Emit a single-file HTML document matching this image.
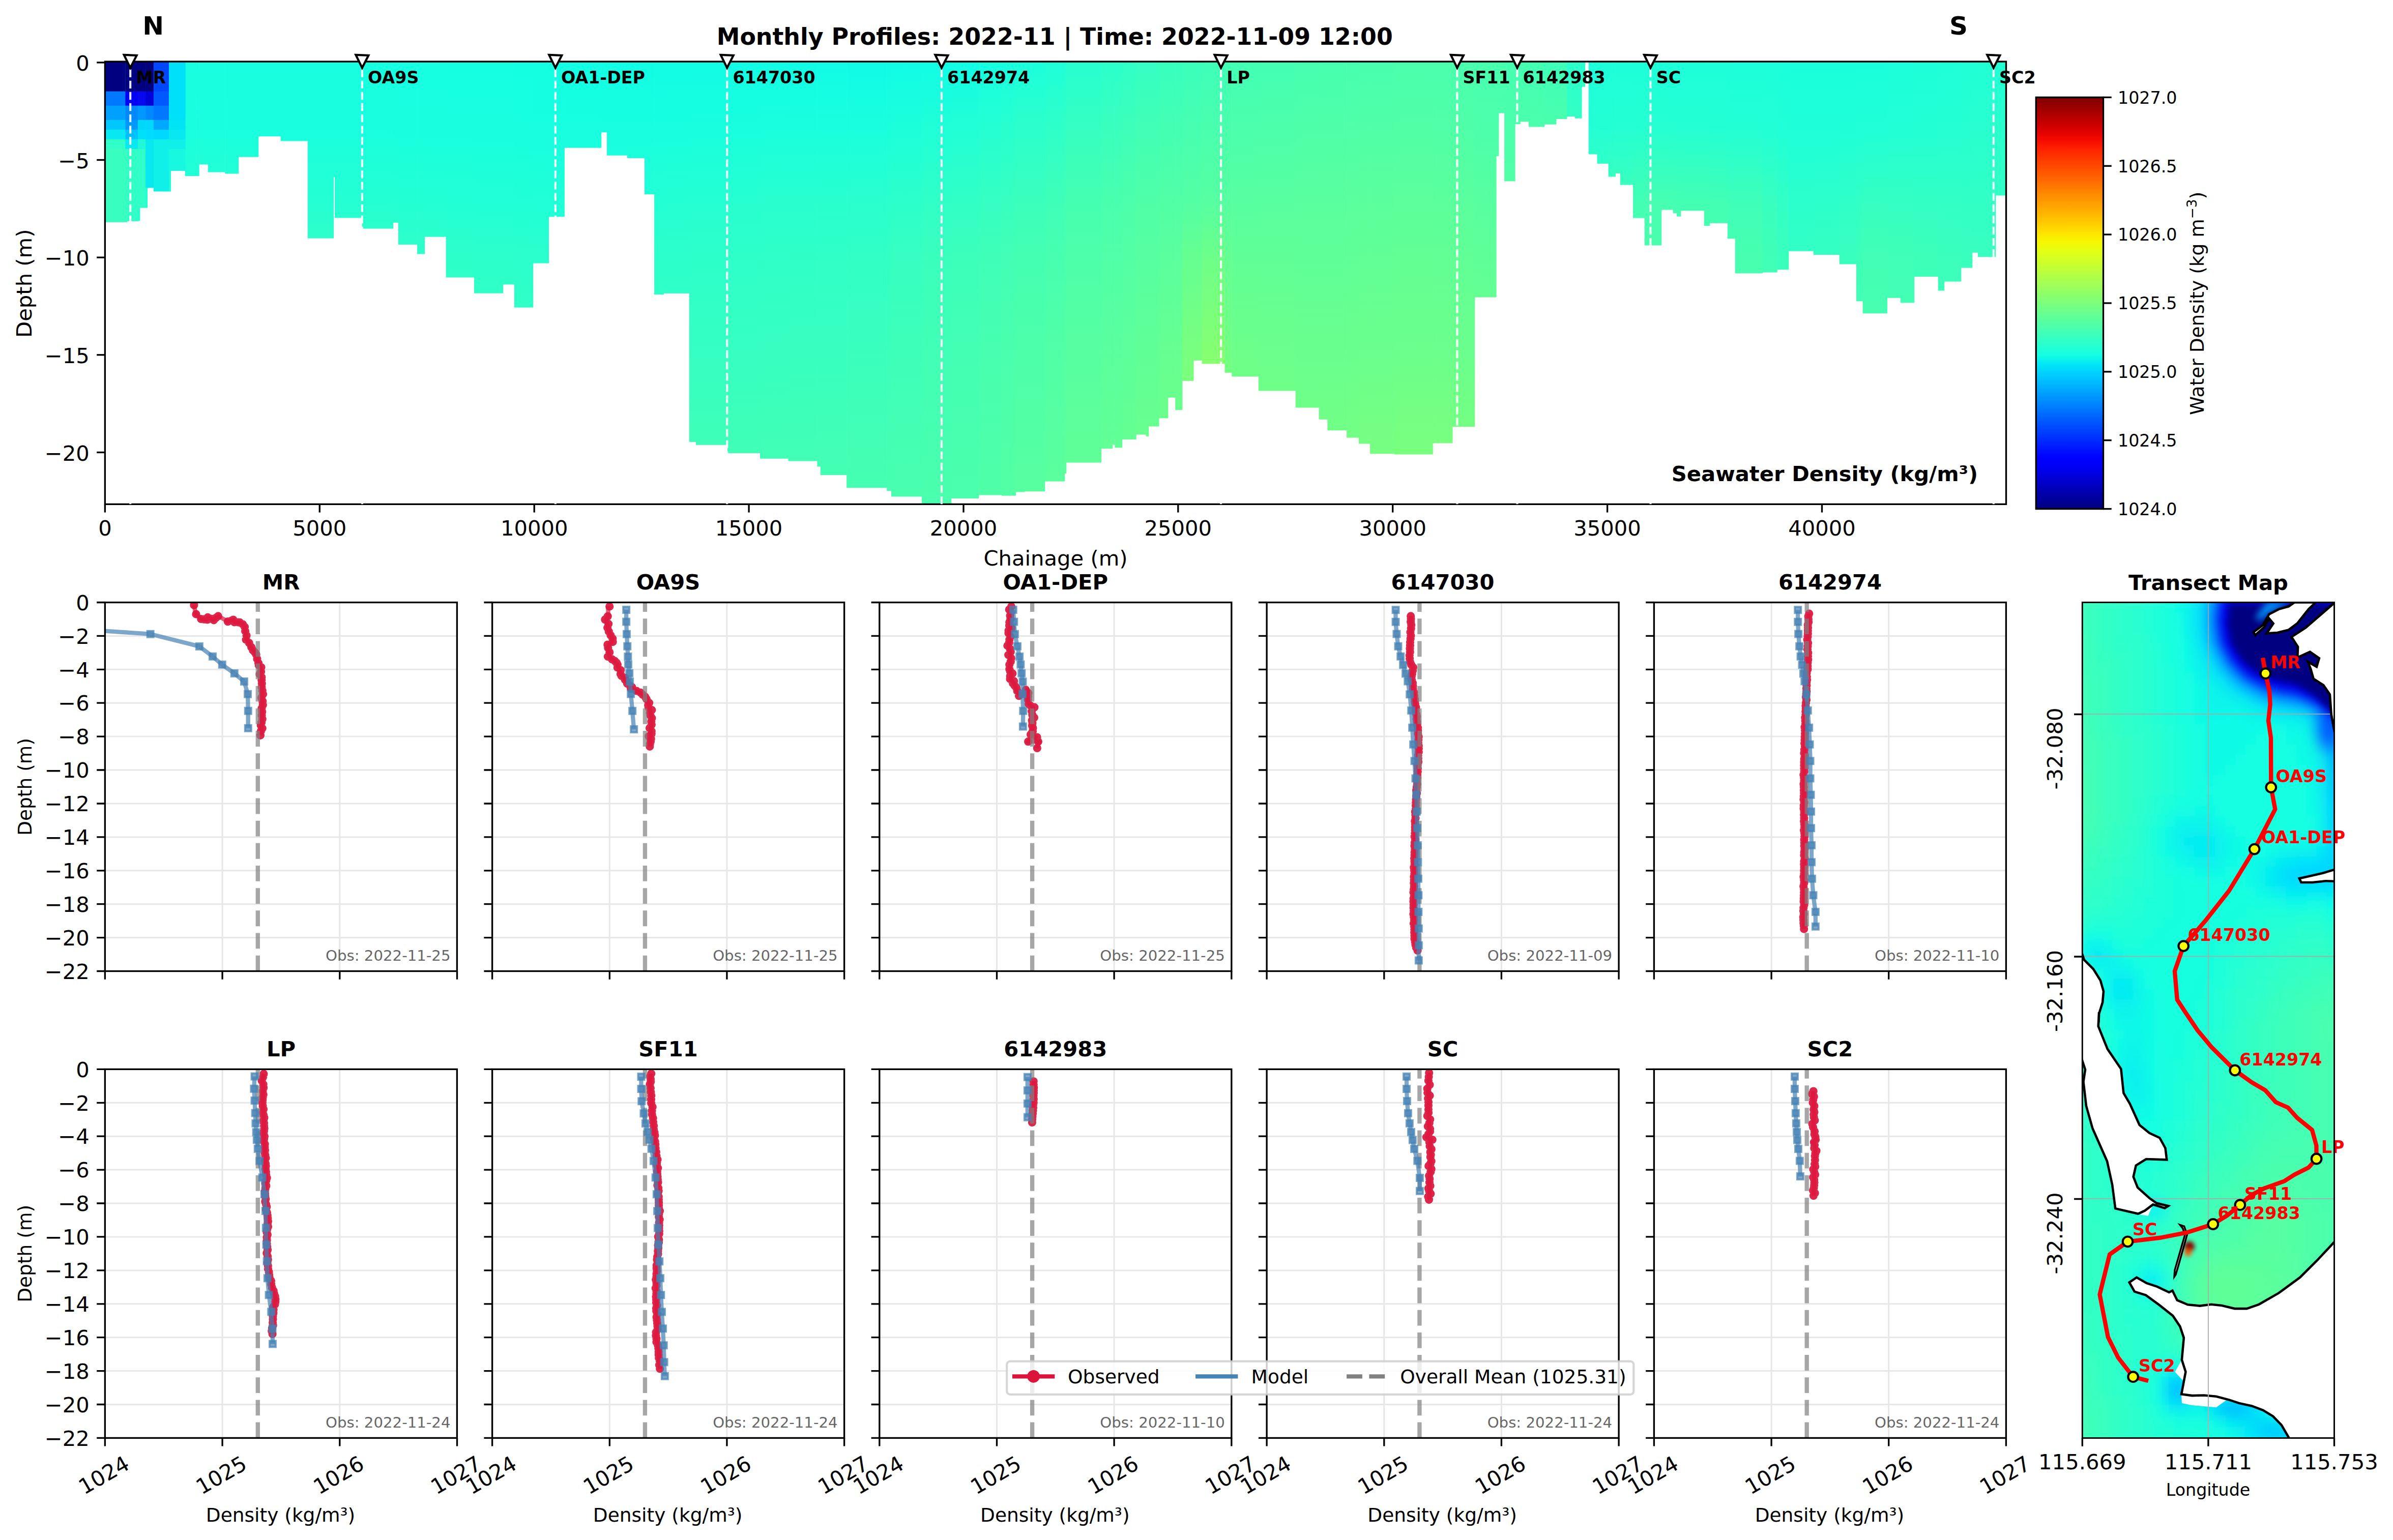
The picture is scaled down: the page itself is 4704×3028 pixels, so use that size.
<!DOCTYPE html>
<html><head><meta charset="utf-8"><title>Monthly Profiles</title>
<style>html,body{margin:0;padding:0;background:#fff}svg{display:block}text{font-family:"DejaVu Sans","Liberation Sans",sans-serif}</style></head>
<body><svg width="4704" height="3028" viewBox="0 0 4704 3028">
<defs><linearGradient id="tg5" gradientUnits="userSpaceOnUse" x1="0" y1="121.1" x2="0" y2="991.4"><stop offset="-0.000" stop-color="#17ffe0"/><stop offset="0.148" stop-color="#19ffde"/><stop offset="0.320" stop-color="#25ffd2"/><stop offset="0.442" stop-color="#31ffc5"/><stop offset="0.665" stop-color="#3affbd"/><stop offset="0.883" stop-color="#42ffb5"/><stop offset="1.000" stop-color="#46ffb1"/></linearGradient>
<linearGradient id="tg6" gradientUnits="userSpaceOnUse" x1="0" y1="121.1" x2="0" y2="991.4"><stop offset="-0.000" stop-color="#17ffe0"/><stop offset="0.148" stop-color="#19ffde"/><stop offset="0.320" stop-color="#25ffd2"/><stop offset="0.442" stop-color="#31ffc5"/><stop offset="0.665" stop-color="#3affbd"/><stop offset="0.883" stop-color="#42ffb5"/><stop offset="1.000" stop-color="#46ffb1"/></linearGradient>
<linearGradient id="tg7" gradientUnits="userSpaceOnUse" x1="0" y1="121.1" x2="0" y2="991.4"><stop offset="-0.000" stop-color="#17ffe0"/><stop offset="0.148" stop-color="#19ffde"/><stop offset="0.320" stop-color="#25ffd2"/><stop offset="0.442" stop-color="#31ffc5"/><stop offset="0.665" stop-color="#3affbd"/><stop offset="0.883" stop-color="#42ffb5"/><stop offset="1.000" stop-color="#46ffb1"/></linearGradient>
<linearGradient id="tg8" gradientUnits="userSpaceOnUse" x1="0" y1="121.1" x2="0" y2="991.4"><stop offset="-0.000" stop-color="#17ffe0"/><stop offset="0.148" stop-color="#19ffde"/><stop offset="0.320" stop-color="#25ffd2"/><stop offset="0.442" stop-color="#31ffc5"/><stop offset="0.665" stop-color="#3affbd"/><stop offset="0.883" stop-color="#42ffb5"/><stop offset="1.000" stop-color="#46ffb1"/></linearGradient>
<linearGradient id="tg9" gradientUnits="userSpaceOnUse" x1="0" y1="121.1" x2="0" y2="991.4"><stop offset="-0.000" stop-color="#17ffe0"/><stop offset="0.148" stop-color="#19ffde"/><stop offset="0.320" stop-color="#25ffd2"/><stop offset="0.442" stop-color="#31ffc5"/><stop offset="0.665" stop-color="#3affbd"/><stop offset="0.883" stop-color="#42ffb5"/><stop offset="1.000" stop-color="#46ffb1"/></linearGradient>
<linearGradient id="tg10" gradientUnits="userSpaceOnUse" x1="0" y1="121.1" x2="0" y2="991.4"><stop offset="-0.000" stop-color="#17ffe0"/><stop offset="0.148" stop-color="#19ffde"/><stop offset="0.320" stop-color="#25ffd2"/><stop offset="0.442" stop-color="#31ffc5"/><stop offset="0.665" stop-color="#3affbd"/><stop offset="0.883" stop-color="#42ffb5"/><stop offset="1.000" stop-color="#46ffb1"/></linearGradient>
<linearGradient id="tg11" gradientUnits="userSpaceOnUse" x1="0" y1="121.1" x2="0" y2="991.4"><stop offset="-0.000" stop-color="#17ffe0"/><stop offset="0.148" stop-color="#19ffde"/><stop offset="0.320" stop-color="#25ffd2"/><stop offset="0.442" stop-color="#31ffc5"/><stop offset="0.665" stop-color="#3affbd"/><stop offset="0.883" stop-color="#42ffb5"/><stop offset="1.000" stop-color="#46ffb1"/></linearGradient>
<linearGradient id="tg12" gradientUnits="userSpaceOnUse" x1="0" y1="121.1" x2="0" y2="991.4"><stop offset="-0.000" stop-color="#17ffe0"/><stop offset="0.148" stop-color="#19ffde"/><stop offset="0.320" stop-color="#25ffd2"/><stop offset="0.442" stop-color="#31ffc5"/><stop offset="0.665" stop-color="#3affbd"/><stop offset="0.883" stop-color="#42ffb5"/><stop offset="1.000" stop-color="#46ffb1"/></linearGradient>
<linearGradient id="tg13" gradientUnits="userSpaceOnUse" x1="0" y1="121.1" x2="0" y2="991.4"><stop offset="-0.000" stop-color="#17ffe0"/><stop offset="0.148" stop-color="#19ffde"/><stop offset="0.320" stop-color="#25ffd2"/><stop offset="0.442" stop-color="#31ffc5"/><stop offset="0.665" stop-color="#3affbd"/><stop offset="0.883" stop-color="#42ffb5"/><stop offset="1.000" stop-color="#46ffb1"/></linearGradient>
<linearGradient id="tg14" gradientUnits="userSpaceOnUse" x1="0" y1="121.1" x2="0" y2="991.4"><stop offset="-0.000" stop-color="#17ffe0"/><stop offset="0.148" stop-color="#19ffde"/><stop offset="0.320" stop-color="#25ffd2"/><stop offset="0.442" stop-color="#31ffc5"/><stop offset="0.665" stop-color="#3affbd"/><stop offset="0.883" stop-color="#42ffb5"/><stop offset="1.000" stop-color="#46ffb1"/></linearGradient>
<linearGradient id="tg15" gradientUnits="userSpaceOnUse" x1="0" y1="121.1" x2="0" y2="991.4"><stop offset="-0.000" stop-color="#17ffe0"/><stop offset="0.148" stop-color="#19ffde"/><stop offset="0.320" stop-color="#25ffd2"/><stop offset="0.442" stop-color="#31ffc5"/><stop offset="0.665" stop-color="#3affbd"/><stop offset="0.883" stop-color="#42ffb5"/><stop offset="1.000" stop-color="#46ffb1"/></linearGradient>
<linearGradient id="tg16" gradientUnits="userSpaceOnUse" x1="0" y1="121.1" x2="0" y2="991.4"><stop offset="-0.000" stop-color="#17ffe0"/><stop offset="0.148" stop-color="#19ffde"/><stop offset="0.320" stop-color="#25ffd2"/><stop offset="0.442" stop-color="#31ffc5"/><stop offset="0.665" stop-color="#3affbd"/><stop offset="0.883" stop-color="#42ffb5"/><stop offset="1.000" stop-color="#46ffb1"/></linearGradient>
<linearGradient id="tg17" gradientUnits="userSpaceOnUse" x1="0" y1="121.1" x2="0" y2="991.4"><stop offset="-0.000" stop-color="#17ffe0"/><stop offset="0.148" stop-color="#19ffde"/><stop offset="0.320" stop-color="#25ffd2"/><stop offset="0.442" stop-color="#31ffc5"/><stop offset="0.665" stop-color="#3affbd"/><stop offset="0.883" stop-color="#42ffb5"/><stop offset="1.000" stop-color="#46ffb1"/></linearGradient>
<linearGradient id="tg18" gradientUnits="userSpaceOnUse" x1="0" y1="121.1" x2="0" y2="991.4"><stop offset="-0.000" stop-color="#17ffe0"/><stop offset="0.148" stop-color="#19ffde"/><stop offset="0.320" stop-color="#24ffd2"/><stop offset="0.442" stop-color="#31ffc6"/><stop offset="0.665" stop-color="#39ffbe"/><stop offset="0.883" stop-color="#41ffb5"/><stop offset="1.000" stop-color="#45ffb1"/></linearGradient>
<linearGradient id="tg19" gradientUnits="userSpaceOnUse" x1="0" y1="121.1" x2="0" y2="991.4"><stop offset="-0.000" stop-color="#16ffe0"/><stop offset="0.148" stop-color="#18ffde"/><stop offset="0.320" stop-color="#24ffd3"/><stop offset="0.442" stop-color="#30ffc7"/><stop offset="0.665" stop-color="#38ffbf"/><stop offset="0.883" stop-color="#41ffb6"/><stop offset="1.000" stop-color="#45ffb2"/></linearGradient>
<linearGradient id="tg20" gradientUnits="userSpaceOnUse" x1="0" y1="121.1" x2="0" y2="991.4"><stop offset="-0.000" stop-color="#16ffe1"/><stop offset="0.148" stop-color="#18ffdf"/><stop offset="0.320" stop-color="#23ffd3"/><stop offset="0.442" stop-color="#2fffc8"/><stop offset="0.665" stop-color="#38ffbf"/><stop offset="0.883" stop-color="#40ffb6"/><stop offset="1.000" stop-color="#44ffb3"/></linearGradient>
<linearGradient id="tg21" gradientUnits="userSpaceOnUse" x1="0" y1="121.1" x2="0" y2="991.4"><stop offset="-0.000" stop-color="#16ffe1"/><stop offset="0.148" stop-color="#18ffdf"/><stop offset="0.320" stop-color="#23ffd4"/><stop offset="0.442" stop-color="#2effc9"/><stop offset="0.665" stop-color="#37ffc0"/><stop offset="0.883" stop-color="#40ffb7"/><stop offset="1.000" stop-color="#44ffb3"/></linearGradient>
<linearGradient id="tg22" gradientUnits="userSpaceOnUse" x1="0" y1="121.1" x2="0" y2="991.4"><stop offset="-0.000" stop-color="#15ffe1"/><stop offset="0.148" stop-color="#18ffdf"/><stop offset="0.320" stop-color="#22ffd5"/><stop offset="0.442" stop-color="#2dffca"/><stop offset="0.665" stop-color="#36ffc0"/><stop offset="0.883" stop-color="#3fffb7"/><stop offset="1.000" stop-color="#43ffb4"/></linearGradient>
<linearGradient id="tg24" gradientUnits="userSpaceOnUse" x1="0" y1="121.1" x2="0" y2="991.4"><stop offset="-0.000" stop-color="#15ffe2"/><stop offset="0.148" stop-color="#18ffdf"/><stop offset="0.320" stop-color="#21ffd6"/><stop offset="0.442" stop-color="#2cffcb"/><stop offset="0.665" stop-color="#35ffc2"/><stop offset="0.883" stop-color="#3effb8"/><stop offset="1.000" stop-color="#42ffb5"/></linearGradient>
<linearGradient id="tg25" gradientUnits="userSpaceOnUse" x1="0" y1="121.1" x2="0" y2="991.4"><stop offset="-0.000" stop-color="#14ffe2"/><stop offset="0.148" stop-color="#17ffdf"/><stop offset="0.320" stop-color="#20ffd6"/><stop offset="0.442" stop-color="#2bffcc"/><stop offset="0.665" stop-color="#34ffc2"/><stop offset="0.883" stop-color="#3effb9"/><stop offset="1.000" stop-color="#41ffb5"/></linearGradient>
<linearGradient id="tg26" gradientUnits="userSpaceOnUse" x1="0" y1="121.1" x2="0" y2="991.4"><stop offset="-0.000" stop-color="#14fee3"/><stop offset="0.148" stop-color="#17ffe0"/><stop offset="0.320" stop-color="#20ffd7"/><stop offset="0.442" stop-color="#2affcd"/><stop offset="0.665" stop-color="#34ffc3"/><stop offset="0.883" stop-color="#3dffb9"/><stop offset="1.000" stop-color="#41ffb6"/></linearGradient>
<linearGradient id="tg27" gradientUnits="userSpaceOnUse" x1="0" y1="121.1" x2="0" y2="991.4"><stop offset="-0.000" stop-color="#14fee3"/><stop offset="0.148" stop-color="#17ffe0"/><stop offset="0.320" stop-color="#1fffd8"/><stop offset="0.442" stop-color="#29ffce"/><stop offset="0.665" stop-color="#33ffc4"/><stop offset="0.883" stop-color="#3dffba"/><stop offset="1.000" stop-color="#40ffb7"/></linearGradient>
<linearGradient id="tg28" gradientUnits="userSpaceOnUse" x1="0" y1="121.1" x2="0" y2="991.4"><stop offset="-0.000" stop-color="#13fee3"/><stop offset="0.148" stop-color="#17ffe0"/><stop offset="0.320" stop-color="#20ffd7"/><stop offset="0.442" stop-color="#2affcd"/><stop offset="0.665" stop-color="#33ffc3"/><stop offset="0.883" stop-color="#3dffba"/><stop offset="1.000" stop-color="#40ffb6"/></linearGradient>
<linearGradient id="tg29" gradientUnits="userSpaceOnUse" x1="0" y1="121.1" x2="0" y2="991.4"><stop offset="-0.000" stop-color="#13fde4"/><stop offset="0.148" stop-color="#17ffe0"/><stop offset="0.320" stop-color="#21ffd6"/><stop offset="0.442" stop-color="#2affcd"/><stop offset="0.665" stop-color="#34ffc3"/><stop offset="0.883" stop-color="#3effb9"/><stop offset="1.000" stop-color="#41ffb6"/></linearGradient>
<linearGradient id="tg30" gradientUnits="userSpaceOnUse" x1="0" y1="121.1" x2="0" y2="991.4"><stop offset="-0.000" stop-color="#13fde4"/><stop offset="0.148" stop-color="#17ffe0"/><stop offset="0.320" stop-color="#21ffd6"/><stop offset="0.442" stop-color="#2bffcc"/><stop offset="0.665" stop-color="#34ffc3"/><stop offset="0.883" stop-color="#3effb9"/><stop offset="1.000" stop-color="#41ffb6"/></linearGradient>
<linearGradient id="tg31" gradientUnits="userSpaceOnUse" x1="0" y1="121.1" x2="0" y2="991.4"><stop offset="-0.000" stop-color="#12fce4"/><stop offset="0.148" stop-color="#17ffe0"/><stop offset="0.320" stop-color="#22ffd5"/><stop offset="0.442" stop-color="#2bffcc"/><stop offset="0.665" stop-color="#34ffc2"/><stop offset="0.883" stop-color="#3effb9"/><stop offset="1.000" stop-color="#41ffb5"/></linearGradient>
<linearGradient id="tg32" gradientUnits="userSpaceOnUse" x1="0" y1="121.1" x2="0" y2="991.4"><stop offset="-0.000" stop-color="#12fce5"/><stop offset="0.148" stop-color="#17ffe0"/><stop offset="0.320" stop-color="#23ffd4"/><stop offset="0.442" stop-color="#2cffcb"/><stop offset="0.665" stop-color="#35ffc2"/><stop offset="0.883" stop-color="#3fffb8"/><stop offset="1.000" stop-color="#42ffb5"/></linearGradient>
<linearGradient id="tg33" gradientUnits="userSpaceOnUse" x1="0" y1="121.1" x2="0" y2="991.4"><stop offset="-0.000" stop-color="#12fce5"/><stop offset="0.148" stop-color="#17ffdf"/><stop offset="0.320" stop-color="#24ffd3"/><stop offset="0.442" stop-color="#2cffcb"/><stop offset="0.665" stop-color="#35ffc2"/><stop offset="0.883" stop-color="#3fffb8"/><stop offset="1.000" stop-color="#42ffb5"/></linearGradient>
<linearGradient id="tg34" gradientUnits="userSpaceOnUse" x1="0" y1="121.1" x2="0" y2="991.4"><stop offset="-0.000" stop-color="#12fce5"/><stop offset="0.148" stop-color="#18ffdf"/><stop offset="0.320" stop-color="#25ffd2"/><stop offset="0.442" stop-color="#2dffca"/><stop offset="0.665" stop-color="#35ffc1"/><stop offset="0.883" stop-color="#3fffb8"/><stop offset="1.000" stop-color="#42ffb4"/></linearGradient>
<linearGradient id="tg36" gradientUnits="userSpaceOnUse" x1="0" y1="121.1" x2="0" y2="991.4"><stop offset="-0.000" stop-color="#12fce5"/><stop offset="0.148" stop-color="#18ffde"/><stop offset="0.320" stop-color="#26ffd0"/><stop offset="0.442" stop-color="#2effc9"/><stop offset="0.665" stop-color="#36ffc1"/><stop offset="0.883" stop-color="#40ffb7"/><stop offset="1.000" stop-color="#43ffb4"/></linearGradient>
<linearGradient id="tg38" gradientUnits="userSpaceOnUse" x1="0" y1="121.1" x2="0" y2="991.4"><stop offset="-0.000" stop-color="#12fce5"/><stop offset="0.148" stop-color="#19ffde"/><stop offset="0.320" stop-color="#28ffcf"/><stop offset="0.442" stop-color="#2fffc8"/><stop offset="0.665" stop-color="#37ffc0"/><stop offset="0.883" stop-color="#41ffb6"/><stop offset="1.000" stop-color="#44ffb3"/></linearGradient>
<linearGradient id="tg39" gradientUnits="userSpaceOnUse" x1="0" y1="121.1" x2="0" y2="991.4"><stop offset="-0.000" stop-color="#11fbe5"/><stop offset="0.148" stop-color="#19ffde"/><stop offset="0.320" stop-color="#28ffcf"/><stop offset="0.442" stop-color="#2fffc7"/><stop offset="0.665" stop-color="#38ffbf"/><stop offset="0.883" stop-color="#41ffb6"/><stop offset="1.000" stop-color="#44ffb2"/></linearGradient>
<linearGradient id="tg40" gradientUnits="userSpaceOnUse" x1="0" y1="121.1" x2="0" y2="991.4"><stop offset="-0.000" stop-color="#11fbe6"/><stop offset="0.148" stop-color="#19ffde"/><stop offset="0.320" stop-color="#28ffce"/><stop offset="0.442" stop-color="#30ffc7"/><stop offset="0.665" stop-color="#38ffbf"/><stop offset="0.883" stop-color="#42ffb5"/><stop offset="1.000" stop-color="#45ffb2"/></linearGradient>
<linearGradient id="tg42" gradientUnits="userSpaceOnUse" x1="0" y1="121.1" x2="0" y2="991.4"><stop offset="-0.000" stop-color="#10fae6"/><stop offset="0.148" stop-color="#19ffde"/><stop offset="0.320" stop-color="#29ffce"/><stop offset="0.442" stop-color="#31ffc5"/><stop offset="0.665" stop-color="#3affbd"/><stop offset="0.883" stop-color="#43ffb4"/><stop offset="1.000" stop-color="#46ffb1"/></linearGradient>
<linearGradient id="tg43" gradientUnits="userSpaceOnUse" x1="0" y1="121.1" x2="0" y2="991.4"><stop offset="-0.000" stop-color="#11fae6"/><stop offset="0.148" stop-color="#1affdc"/><stop offset="0.320" stop-color="#2bffcc"/><stop offset="0.442" stop-color="#33ffc3"/><stop offset="0.665" stop-color="#3cffbb"/><stop offset="0.883" stop-color="#44ffb3"/><stop offset="1.000" stop-color="#47ffb0"/></linearGradient>
<linearGradient id="tg44" gradientUnits="userSpaceOnUse" x1="0" y1="121.1" x2="0" y2="991.4"><stop offset="-0.000" stop-color="#11fbe6"/><stop offset="0.148" stop-color="#1cffdb"/><stop offset="0.320" stop-color="#2cffca"/><stop offset="0.442" stop-color="#36ffc1"/><stop offset="0.665" stop-color="#3effb9"/><stop offset="0.883" stop-color="#45ffb2"/><stop offset="1.000" stop-color="#48ffaf"/></linearGradient>
<linearGradient id="tg46" gradientUnits="userSpaceOnUse" x1="0" y1="121.1" x2="0" y2="991.4"><stop offset="-0.000" stop-color="#12fce5"/><stop offset="0.148" stop-color="#1fffd8"/><stop offset="0.320" stop-color="#30ffc7"/><stop offset="0.442" stop-color="#3affbd"/><stop offset="0.665" stop-color="#41ffb5"/><stop offset="0.883" stop-color="#47ffb0"/><stop offset="1.000" stop-color="#4affad"/></linearGradient>
<linearGradient id="tg47" gradientUnits="userSpaceOnUse" x1="0" y1="121.1" x2="0" y2="991.4"><stop offset="-0.000" stop-color="#12fce5"/><stop offset="0.148" stop-color="#21ffd6"/><stop offset="0.320" stop-color="#31ffc5"/><stop offset="0.442" stop-color="#3cffbb"/><stop offset="0.665" stop-color="#43ffb3"/><stop offset="0.883" stop-color="#48ffae"/><stop offset="1.000" stop-color="#4bffac"/></linearGradient>
<linearGradient id="tg48" gradientUnits="userSpaceOnUse" x1="0" y1="121.1" x2="0" y2="991.4"><stop offset="-0.000" stop-color="#15ffe2"/><stop offset="0.148" stop-color="#24ffd3"/><stop offset="0.320" stop-color="#35ffc2"/><stop offset="0.442" stop-color="#3fffb8"/><stop offset="0.665" stop-color="#47ffb0"/><stop offset="0.883" stop-color="#4cffaa"/><stop offset="1.000" stop-color="#4fffa7"/></linearGradient>
<linearGradient id="tg49" gradientUnits="userSpaceOnUse" x1="0" y1="121.1" x2="0" y2="991.4"><stop offset="-0.000" stop-color="#18ffdf"/><stop offset="0.148" stop-color="#27ffcf"/><stop offset="0.320" stop-color="#38ffbf"/><stop offset="0.442" stop-color="#42ffb5"/><stop offset="0.665" stop-color="#4affad"/><stop offset="0.883" stop-color="#50ffa6"/><stop offset="1.000" stop-color="#54ffa3"/></linearGradient>
<linearGradient id="tg50" gradientUnits="userSpaceOnUse" x1="0" y1="121.1" x2="0" y2="991.4"><stop offset="-0.000" stop-color="#1bffdc"/><stop offset="0.148" stop-color="#2bffcc"/><stop offset="0.320" stop-color="#3bffbc"/><stop offset="0.442" stop-color="#44ffb2"/><stop offset="0.665" stop-color="#4dffa9"/><stop offset="0.883" stop-color="#54ffa3"/><stop offset="1.000" stop-color="#58ff9f"/></linearGradient>
<linearGradient id="tg51" gradientUnits="userSpaceOnUse" x1="0" y1="121.1" x2="0" y2="991.4"><stop offset="-0.000" stop-color="#1effd9"/><stop offset="0.148" stop-color="#2effc9"/><stop offset="0.320" stop-color="#3fffb8"/><stop offset="0.442" stop-color="#47ffb0"/><stop offset="0.665" stop-color="#51ffa6"/><stop offset="0.883" stop-color="#58ff9f"/><stop offset="1.000" stop-color="#5dff9a"/></linearGradient>
<linearGradient id="tg52" gradientUnits="userSpaceOnUse" x1="0" y1="121.1" x2="0" y2="991.4"><stop offset="-0.000" stop-color="#21ffd6"/><stop offset="0.148" stop-color="#31ffc5"/><stop offset="0.320" stop-color="#42ffb5"/><stop offset="0.442" stop-color="#4affad"/><stop offset="0.665" stop-color="#54ffa3"/><stop offset="0.883" stop-color="#5cff9b"/><stop offset="1.000" stop-color="#61ff96"/></linearGradient>
<linearGradient id="tg53" gradientUnits="userSpaceOnUse" x1="0" y1="121.1" x2="0" y2="991.4"><stop offset="-0.000" stop-color="#26ffd1"/><stop offset="0.148" stop-color="#35ffc1"/><stop offset="0.320" stop-color="#45ffb1"/><stop offset="0.442" stop-color="#4dffaa"/><stop offset="0.665" stop-color="#57ffa0"/><stop offset="0.883" stop-color="#5fff98"/><stop offset="1.000" stop-color="#64ff93"/></linearGradient>
<linearGradient id="tg54" gradientUnits="userSpaceOnUse" x1="0" y1="121.1" x2="0" y2="991.4"><stop offset="-0.000" stop-color="#2bffcc"/><stop offset="0.148" stop-color="#39ffbe"/><stop offset="0.320" stop-color="#49ffae"/><stop offset="0.442" stop-color="#50ffa7"/><stop offset="0.665" stop-color="#5aff9d"/><stop offset="0.883" stop-color="#62ff95"/><stop offset="1.000" stop-color="#66ff90"/></linearGradient>
<linearGradient id="tg55" gradientUnits="userSpaceOnUse" x1="0" y1="121.1" x2="0" y2="991.4"><stop offset="-0.000" stop-color="#2fffc7"/><stop offset="0.148" stop-color="#3dffba"/><stop offset="0.320" stop-color="#4cffaa"/><stop offset="0.442" stop-color="#53ffa4"/><stop offset="0.665" stop-color="#5dff9a"/><stop offset="0.883" stop-color="#65ff91"/><stop offset="1.000" stop-color="#69ff8e"/></linearGradient>
<linearGradient id="tg56" gradientUnits="userSpaceOnUse" x1="0" y1="121.1" x2="0" y2="991.4"><stop offset="-0.000" stop-color="#34ffc3"/><stop offset="0.148" stop-color="#41ffb6"/><stop offset="0.320" stop-color="#4fffa7"/><stop offset="0.442" stop-color="#56ffa1"/><stop offset="0.665" stop-color="#60ff96"/><stop offset="0.883" stop-color="#69ff8e"/><stop offset="1.000" stop-color="#6cff8b"/></linearGradient>
<linearGradient id="tg57" gradientUnits="userSpaceOnUse" x1="0" y1="121.1" x2="0" y2="991.4"><stop offset="-0.000" stop-color="#37ffbf"/><stop offset="0.148" stop-color="#43ffb3"/><stop offset="0.320" stop-color="#51ffa5"/><stop offset="0.442" stop-color="#5aff9d"/><stop offset="0.665" stop-color="#66ff91"/><stop offset="0.883" stop-color="#6dff89"/><stop offset="1.000" stop-color="#70ff86"/></linearGradient>
<linearGradient id="tg58" gradientUnits="userSpaceOnUse" x1="0" y1="121.1" x2="0" y2="991.4"><stop offset="-0.000" stop-color="#3bffbc"/><stop offset="0.148" stop-color="#46ffb1"/><stop offset="0.320" stop-color="#54ffa3"/><stop offset="0.442" stop-color="#65ff91"/><stop offset="0.665" stop-color="#79ff7e"/><stop offset="0.883" stop-color="#80ff77"/><stop offset="1.000" stop-color="#83ff74"/></linearGradient>
<linearGradient id="tg59" gradientUnits="userSpaceOnUse" x1="0" y1="121.1" x2="0" y2="991.4"><stop offset="-0.000" stop-color="#3effb8"/><stop offset="0.148" stop-color="#49ffae"/><stop offset="0.320" stop-color="#56ffa1"/><stop offset="0.442" stop-color="#6dff89"/><stop offset="0.665" stop-color="#86ff71"/><stop offset="0.883" stop-color="#8cff6b"/><stop offset="1.000" stop-color="#8eff68"/></linearGradient>
<linearGradient id="tg60" gradientUnits="userSpaceOnUse" x1="0" y1="121.1" x2="0" y2="991.4"><stop offset="-0.000" stop-color="#41ffb6"/><stop offset="0.148" stop-color="#4affac"/><stop offset="0.320" stop-color="#57ffa0"/><stop offset="0.442" stop-color="#64ff93"/><stop offset="0.665" stop-color="#73ff83"/><stop offset="0.883" stop-color="#79ff7d"/><stop offset="1.000" stop-color="#7cff7b"/></linearGradient>
<linearGradient id="tg61" gradientUnits="userSpaceOnUse" x1="0" y1="121.1" x2="0" y2="991.4"><stop offset="-0.000" stop-color="#42ffb5"/><stop offset="0.148" stop-color="#4bffac"/><stop offset="0.320" stop-color="#57ffa0"/><stop offset="0.442" stop-color="#60ff96"/><stop offset="0.665" stop-color="#6dff89"/><stop offset="0.883" stop-color="#74ff83"/><stop offset="1.000" stop-color="#76ff81"/></linearGradient>
<linearGradient id="tg62" gradientUnits="userSpaceOnUse" x1="0" y1="121.1" x2="0" y2="991.4"><stop offset="-0.000" stop-color="#43ffb4"/><stop offset="0.148" stop-color="#4cffab"/><stop offset="0.320" stop-color="#58ff9f"/><stop offset="0.442" stop-color="#60ff97"/><stop offset="0.665" stop-color="#6cff8b"/><stop offset="0.883" stop-color="#73ff84"/><stop offset="1.000" stop-color="#75ff82"/></linearGradient>
<linearGradient id="tg64" gradientUnits="userSpaceOnUse" x1="0" y1="121.1" x2="0" y2="991.4"><stop offset="-0.000" stop-color="#45ffb1"/><stop offset="0.148" stop-color="#4effa9"/><stop offset="0.320" stop-color="#59ff9e"/><stop offset="0.442" stop-color="#5fff98"/><stop offset="0.665" stop-color="#6aff8d"/><stop offset="0.883" stop-color="#72ff85"/><stop offset="1.000" stop-color="#74ff83"/></linearGradient>
<linearGradient id="tg65" gradientUnits="userSpaceOnUse" x1="0" y1="121.1" x2="0" y2="991.4"><stop offset="-0.000" stop-color="#46ffb0"/><stop offset="0.148" stop-color="#4effa8"/><stop offset="0.320" stop-color="#59ff9e"/><stop offset="0.442" stop-color="#5fff98"/><stop offset="0.665" stop-color="#6aff8d"/><stop offset="0.883" stop-color="#72ff84"/><stop offset="1.000" stop-color="#74ff83"/></linearGradient>
<linearGradient id="tg66" gradientUnits="userSpaceOnUse" x1="0" y1="121.1" x2="0" y2="991.4"><stop offset="-0.000" stop-color="#47ffb0"/><stop offset="0.148" stop-color="#4fffa8"/><stop offset="0.320" stop-color="#5aff9d"/><stop offset="0.442" stop-color="#60ff97"/><stop offset="0.665" stop-color="#6aff8c"/><stop offset="0.883" stop-color="#74ff83"/><stop offset="1.000" stop-color="#76ff81"/></linearGradient>
<linearGradient id="tg67" gradientUnits="userSpaceOnUse" x1="0" y1="121.1" x2="0" y2="991.4"><stop offset="-0.000" stop-color="#48ffaf"/><stop offset="0.148" stop-color="#4fffa7"/><stop offset="0.320" stop-color="#5aff9c"/><stop offset="0.442" stop-color="#61ff96"/><stop offset="0.665" stop-color="#6bff8c"/><stop offset="0.883" stop-color="#76ff81"/><stop offset="1.000" stop-color="#77ff80"/></linearGradient>
<linearGradient id="tg69" gradientUnits="userSpaceOnUse" x1="0" y1="121.1" x2="0" y2="991.4"><stop offset="-0.000" stop-color="#4affad"/><stop offset="0.148" stop-color="#50ffa6"/><stop offset="0.320" stop-color="#5cff9b"/><stop offset="0.442" stop-color="#62ff94"/><stop offset="0.665" stop-color="#6cff8b"/><stop offset="0.883" stop-color="#79ff7e"/><stop offset="1.000" stop-color="#7bff7c"/></linearGradient>
<linearGradient id="tg70" gradientUnits="userSpaceOnUse" x1="0" y1="121.1" x2="0" y2="991.4"><stop offset="-0.000" stop-color="#4affad"/><stop offset="0.148" stop-color="#50ffa7"/><stop offset="0.320" stop-color="#5bff9b"/><stop offset="0.442" stop-color="#62ff95"/><stop offset="0.665" stop-color="#6cff8b"/><stop offset="0.883" stop-color="#79ff7e"/><stop offset="1.000" stop-color="#7aff7c"/></linearGradient>
<linearGradient id="tg71" gradientUnits="userSpaceOnUse" x1="0" y1="121.1" x2="0" y2="991.4"><stop offset="-0.000" stop-color="#49ffad"/><stop offset="0.148" stop-color="#4fffa8"/><stop offset="0.320" stop-color="#5aff9d"/><stop offset="0.442" stop-color="#61ff96"/><stop offset="0.665" stop-color="#6bff8c"/><stop offset="0.883" stop-color="#76ff80"/><stop offset="1.000" stop-color="#78ff7f"/></linearGradient>
<linearGradient id="tg73" gradientUnits="userSpaceOnUse" x1="0" y1="121.1" x2="0" y2="991.4"><stop offset="-0.000" stop-color="#48ffae"/><stop offset="0.148" stop-color="#4cffab"/><stop offset="0.320" stop-color="#57ffa0"/><stop offset="0.442" stop-color="#5fff98"/><stop offset="0.665" stop-color="#6aff8d"/><stop offset="0.883" stop-color="#72ff85"/><stop offset="1.000" stop-color="#74ff83"/></linearGradient>
<linearGradient id="tg74" gradientUnits="userSpaceOnUse" x1="0" y1="121.1" x2="0" y2="991.4"><stop offset="-0.000" stop-color="#45ffb1"/><stop offset="0.148" stop-color="#4bffac"/><stop offset="0.320" stop-color="#54ffa3"/><stop offset="0.442" stop-color="#5bff9c"/><stop offset="0.665" stop-color="#64ff93"/><stop offset="0.883" stop-color="#6bff8c"/><stop offset="1.000" stop-color="#6cff8a"/></linearGradient>
<linearGradient id="tg75" gradientUnits="userSpaceOnUse" x1="0" y1="121.1" x2="0" y2="991.4"><stop offset="-0.000" stop-color="#42ffb5"/><stop offset="0.148" stop-color="#4bffac"/><stop offset="0.320" stop-color="#51ffa6"/><stop offset="0.442" stop-color="#57ffa0"/><stop offset="0.665" stop-color="#5dff9a"/><stop offset="0.883" stop-color="#63ff94"/><stop offset="1.000" stop-color="#63ff93"/></linearGradient>
<linearGradient id="tg76" gradientUnits="userSpaceOnUse" x1="0" y1="121.1" x2="0" y2="991.4"><stop offset="-0.000" stop-color="#3effb9"/><stop offset="0.148" stop-color="#4affad"/><stop offset="0.320" stop-color="#4effa9"/><stop offset="0.442" stop-color="#52ffa5"/><stop offset="0.665" stop-color="#56ffa0"/><stop offset="0.883" stop-color="#5aff9c"/><stop offset="1.000" stop-color="#5aff9c"/></linearGradient>
<linearGradient id="tg77" gradientUnits="userSpaceOnUse" x1="0" y1="121.1" x2="0" y2="991.4"><stop offset="-0.000" stop-color="#2bffcc"/><stop offset="0.148" stop-color="#33ffc3"/><stop offset="0.320" stop-color="#42ffb4"/><stop offset="0.442" stop-color="#49ffae"/><stop offset="0.665" stop-color="#4dffaa"/><stop offset="0.883" stop-color="#51ffa6"/><stop offset="1.000" stop-color="#51ffa6"/></linearGradient>
<linearGradient id="tg78" gradientUnits="userSpaceOnUse" x1="0" y1="121.1" x2="0" y2="991.4"><stop offset="-0.000" stop-color="#1dffda"/><stop offset="0.148" stop-color="#23ffd4"/><stop offset="0.320" stop-color="#3bffbc"/><stop offset="0.442" stop-color="#42ffb4"/><stop offset="0.665" stop-color="#47ffb0"/><stop offset="0.883" stop-color="#4bffac"/><stop offset="1.000" stop-color="#4bffac"/></linearGradient>
<linearGradient id="tg79" gradientUnits="userSpaceOnUse" x1="0" y1="121.1" x2="0" y2="991.4"><stop offset="-0.000" stop-color="#1dffda"/><stop offset="0.148" stop-color="#24ffd3"/><stop offset="0.320" stop-color="#3fffb8"/><stop offset="0.442" stop-color="#45ffb2"/><stop offset="0.665" stop-color="#49ffad"/><stop offset="0.883" stop-color="#4dffa9"/><stop offset="1.000" stop-color="#4dffa9"/></linearGradient>
<linearGradient id="tg80" gradientUnits="userSpaceOnUse" x1="0" y1="121.1" x2="0" y2="991.4"><stop offset="-0.000" stop-color="#1dffda"/><stop offset="0.148" stop-color="#24ffd2"/><stop offset="0.320" stop-color="#43ffb4"/><stop offset="0.442" stop-color="#48ffaf"/><stop offset="0.665" stop-color="#4cffab"/><stop offset="0.883" stop-color="#50ffa7"/><stop offset="1.000" stop-color="#50ffa7"/></linearGradient>
<linearGradient id="tg81" gradientUnits="userSpaceOnUse" x1="0" y1="121.1" x2="0" y2="991.4"><stop offset="-0.000" stop-color="#1dffda"/><stop offset="0.148" stop-color="#25ffd2"/><stop offset="0.320" stop-color="#46ffb1"/><stop offset="0.442" stop-color="#4affad"/><stop offset="0.665" stop-color="#4effa9"/><stop offset="0.883" stop-color="#52ffa5"/><stop offset="1.000" stop-color="#52ffa5"/></linearGradient>
<linearGradient id="tg82" gradientUnits="userSpaceOnUse" x1="0" y1="121.1" x2="0" y2="991.4"><stop offset="-0.000" stop-color="#1dffda"/><stop offset="0.148" stop-color="#24ffd3"/><stop offset="0.320" stop-color="#45ffb2"/><stop offset="0.442" stop-color="#4affad"/><stop offset="0.665" stop-color="#4effa9"/><stop offset="0.883" stop-color="#52ffa5"/><stop offset="1.000" stop-color="#52ffa5"/></linearGradient>
<linearGradient id="tg83" gradientUnits="userSpaceOnUse" x1="0" y1="121.1" x2="0" y2="991.4"><stop offset="-0.000" stop-color="#1dffda"/><stop offset="0.148" stop-color="#24ffd3"/><stop offset="0.320" stop-color="#43ffb3"/><stop offset="0.442" stop-color="#4affad"/><stop offset="0.665" stop-color="#4effa9"/><stop offset="0.883" stop-color="#52ffa5"/><stop offset="1.000" stop-color="#52ffa5"/></linearGradient>
<linearGradient id="tg84" gradientUnits="userSpaceOnUse" x1="0" y1="121.1" x2="0" y2="991.4"><stop offset="-0.000" stop-color="#1dffda"/><stop offset="0.148" stop-color="#23ffd4"/><stop offset="0.320" stop-color="#42ffb4"/><stop offset="0.442" stop-color="#4affad"/><stop offset="0.665" stop-color="#4effa9"/><stop offset="0.883" stop-color="#52ffa5"/><stop offset="1.000" stop-color="#52ffa5"/></linearGradient>
<linearGradient id="tg85" gradientUnits="userSpaceOnUse" x1="0" y1="121.1" x2="0" y2="991.4"><stop offset="-0.000" stop-color="#1cffda"/><stop offset="0.148" stop-color="#22ffd5"/><stop offset="0.320" stop-color="#3fffb8"/><stop offset="0.442" stop-color="#47ffb0"/><stop offset="0.665" stop-color="#4bffab"/><stop offset="0.883" stop-color="#50ffa7"/><stop offset="1.000" stop-color="#50ffa7"/></linearGradient>
<linearGradient id="tg86" gradientUnits="userSpaceOnUse" x1="0" y1="121.1" x2="0" y2="991.4"><stop offset="-0.000" stop-color="#1cffdb"/><stop offset="0.148" stop-color="#21ffd6"/><stop offset="0.320" stop-color="#38ffbf"/><stop offset="0.442" stop-color="#40ffb7"/><stop offset="0.665" stop-color="#46ffb1"/><stop offset="0.883" stop-color="#4cffab"/><stop offset="1.000" stop-color="#4cffab"/></linearGradient>
<linearGradient id="tg87" gradientUnits="userSpaceOnUse" x1="0" y1="121.1" x2="0" y2="991.4"><stop offset="-0.000" stop-color="#1bffdc"/><stop offset="0.148" stop-color="#1fffd8"/><stop offset="0.320" stop-color="#31ffc5"/><stop offset="0.442" stop-color="#3affbd"/><stop offset="0.665" stop-color="#40ffb6"/><stop offset="0.883" stop-color="#47ffaf"/><stop offset="1.000" stop-color="#47ffaf"/></linearGradient>
<linearGradient id="tg88" gradientUnits="userSpaceOnUse" x1="0" y1="121.1" x2="0" y2="991.4"><stop offset="-0.000" stop-color="#1affdc"/><stop offset="0.148" stop-color="#1effd9"/><stop offset="0.320" stop-color="#2bffcc"/><stop offset="0.442" stop-color="#33ffc4"/><stop offset="0.665" stop-color="#3bffbc"/><stop offset="0.883" stop-color="#43ffb4"/><stop offset="1.000" stop-color="#43ffb4"/></linearGradient>
<linearGradient id="tg89" gradientUnits="userSpaceOnUse" x1="0" y1="121.1" x2="0" y2="991.4"><stop offset="-0.000" stop-color="#1affdc"/><stop offset="0.148" stop-color="#1effd9"/><stop offset="0.320" stop-color="#2cffcb"/><stop offset="0.442" stop-color="#35ffc2"/><stop offset="0.665" stop-color="#3dffba"/><stop offset="0.883" stop-color="#44ffb3"/><stop offset="1.000" stop-color="#44ffb3"/></linearGradient>
<linearGradient id="tg90" gradientUnits="userSpaceOnUse" x1="0" y1="121.1" x2="0" y2="991.4"><stop offset="-0.000" stop-color="#1affdc"/><stop offset="0.148" stop-color="#1effd8"/><stop offset="0.320" stop-color="#2fffc8"/><stop offset="0.442" stop-color="#39ffbe"/><stop offset="0.665" stop-color="#41ffb6"/><stop offset="0.883" stop-color="#48ffaf"/><stop offset="1.000" stop-color="#48ffaf"/></linearGradient>
<linearGradient id="tg91" gradientUnits="userSpaceOnUse" x1="0" y1="121.1" x2="0" y2="991.4"><stop offset="-0.000" stop-color="#1affdc"/><stop offset="0.148" stop-color="#1fffd8"/><stop offset="0.320" stop-color="#32ffc5"/><stop offset="0.442" stop-color="#3dffb9"/><stop offset="0.665" stop-color="#46ffb1"/><stop offset="0.883" stop-color="#4bffac"/><stop offset="1.000" stop-color="#4bffac"/></linearGradient>
<linearGradient id="tg92" gradientUnits="userSpaceOnUse" x1="0" y1="121.1" x2="0" y2="991.4"><stop offset="-0.000" stop-color="#1affdc"/><stop offset="0.148" stop-color="#1fffd8"/><stop offset="0.320" stop-color="#35ffc1"/><stop offset="0.442" stop-color="#42ffb5"/><stop offset="0.665" stop-color="#4affad"/><stop offset="0.883" stop-color="#4effa9"/><stop offset="1.000" stop-color="#4effa9"/></linearGradient>
<linearGradient id="tg93" gradientUnits="userSpaceOnUse" x1="0" y1="121.1" x2="0" y2="991.4"><stop offset="-0.000" stop-color="#1cffdb"/><stop offset="0.148" stop-color="#21ffd6"/><stop offset="0.320" stop-color="#34ffc2"/><stop offset="0.442" stop-color="#40ffb7"/><stop offset="0.665" stop-color="#47ffb0"/><stop offset="0.883" stop-color="#4bffac"/><stop offset="1.000" stop-color="#4bffac"/></linearGradient>
<linearGradient id="tg94" gradientUnits="userSpaceOnUse" x1="0" y1="121.1" x2="0" y2="991.4"><stop offset="-0.000" stop-color="#1dffda"/><stop offset="0.148" stop-color="#22ffd4"/><stop offset="0.320" stop-color="#33ffc4"/><stop offset="0.442" stop-color="#3dffb9"/><stop offset="0.665" stop-color="#43ffb3"/><stop offset="0.883" stop-color="#48ffaf"/><stop offset="1.000" stop-color="#48ffaf"/></linearGradient>
<linearGradient id="tg95" gradientUnits="userSpaceOnUse" x1="0" y1="121.1" x2="0" y2="991.4"><stop offset="-0.000" stop-color="#1effd9"/><stop offset="0.148" stop-color="#24ffd3"/><stop offset="0.320" stop-color="#32ffc5"/><stop offset="0.442" stop-color="#3bffbc"/><stop offset="0.665" stop-color="#40ffb7"/><stop offset="0.883" stop-color="#44ffb3"/><stop offset="1.000" stop-color="#44ffb3"/></linearGradient>
<linearGradient id="tg96" gradientUnits="userSpaceOnUse" x1="0" y1="121.1" x2="0" y2="991.4"><stop offset="-0.000" stop-color="#20ffd7"/><stop offset="0.148" stop-color="#25ffd1"/><stop offset="0.320" stop-color="#31ffc5"/><stop offset="0.442" stop-color="#39ffbe"/><stop offset="0.665" stop-color="#3dffba"/><stop offset="0.883" stop-color="#41ffb5"/><stop offset="1.000" stop-color="#41ffb5"/></linearGradient>
<linearGradient id="tg97" gradientUnits="userSpaceOnUse" x1="0" y1="121.1" x2="0" y2="991.4"><stop offset="-0.000" stop-color="#21ffd6"/><stop offset="0.148" stop-color="#27ffd0"/><stop offset="0.320" stop-color="#31ffc5"/><stop offset="0.442" stop-color="#37ffbf"/><stop offset="0.665" stop-color="#3cffbb"/><stop offset="0.883" stop-color="#40ffb7"/><stop offset="1.000" stop-color="#40ffb7"/></linearGradient>
<linearGradient id="tg98" gradientUnits="userSpaceOnUse" x1="0" y1="121.1" x2="0" y2="991.4"><stop offset="-0.000" stop-color="#22ffd4"/><stop offset="0.148" stop-color="#29ffce"/><stop offset="0.320" stop-color="#31ffc5"/><stop offset="0.442" stop-color="#36ffc1"/><stop offset="0.665" stop-color="#3affbd"/><stop offset="0.883" stop-color="#3effb9"/><stop offset="1.000" stop-color="#3effb9"/></linearGradient>
<linearGradient id="cb" x1="0" y1="0" x2="0" y2="1"><stop offset="0.000" stop-color="#800000"/><stop offset="0.025" stop-color="#9c0000"/><stop offset="0.050" stop-color="#b90000"/><stop offset="0.075" stop-color="#d60000"/><stop offset="0.100" stop-color="#f30900"/><stop offset="0.125" stop-color="#ff2100"/><stop offset="0.150" stop-color="#ff3900"/><stop offset="0.175" stop-color="#ff5000"/><stop offset="0.200" stop-color="#ff6800"/><stop offset="0.225" stop-color="#ff8000"/><stop offset="0.250" stop-color="#ff9700"/><stop offset="0.275" stop-color="#ffaf00"/><stop offset="0.300" stop-color="#ffc600"/><stop offset="0.325" stop-color="#ffde00"/><stop offset="0.350" stop-color="#f7f600"/><stop offset="0.375" stop-color="#e2ff15"/><stop offset="0.400" stop-color="#ceff29"/><stop offset="0.425" stop-color="#b9ff3e"/><stop offset="0.450" stop-color="#a5ff52"/><stop offset="0.475" stop-color="#90ff67"/><stop offset="0.500" stop-color="#7bff7b"/><stop offset="0.525" stop-color="#67ff90"/><stop offset="0.550" stop-color="#52ffa5"/><stop offset="0.575" stop-color="#3effb9"/><stop offset="0.600" stop-color="#29ffce"/><stop offset="0.625" stop-color="#15ffe2"/><stop offset="0.650" stop-color="#00e5f7"/><stop offset="0.675" stop-color="#00ccff"/><stop offset="0.700" stop-color="#00b3ff"/><stop offset="0.725" stop-color="#0099ff"/><stop offset="0.750" stop-color="#0080ff"/><stop offset="0.775" stop-color="#0066ff"/><stop offset="0.800" stop-color="#004cff"/><stop offset="0.825" stop-color="#0033ff"/><stop offset="0.850" stop-color="#001aff"/><stop offset="0.875" stop-color="#0000ff"/><stop offset="0.900" stop-color="#0000f3"/><stop offset="0.925" stop-color="#0000d6"/><stop offset="0.950" stop-color="#0000b9"/><stop offset="0.975" stop-color="#00009c"/><stop offset="1.000" stop-color="#000080"/></linearGradient>
<clipPath id="pc00"><rect x="206.4" y="1184.5" width="692" height="725"/></clipPath>
<clipPath id="pc01"><rect x="967.6" y="1184.5" width="692" height="725"/></clipPath>
<clipPath id="pc02"><rect x="1728.8" y="1184.5" width="692" height="725"/></clipPath>
<clipPath id="pc03"><rect x="2490.1" y="1184.5" width="692" height="725"/></clipPath>
<clipPath id="pc04"><rect x="3251.4" y="1184.5" width="692" height="725"/></clipPath>
<clipPath id="pc10"><rect x="206.4" y="2102.4" width="692" height="725"/></clipPath>
<clipPath id="pc11"><rect x="967.6" y="2102.4" width="692" height="725"/></clipPath>
<clipPath id="pc12"><rect x="1728.8" y="2102.4" width="692" height="725"/></clipPath>
<clipPath id="pc13"><rect x="2490.1" y="2102.4" width="692" height="725"/></clipPath>
<clipPath id="pc14"><rect x="3251.4" y="2102.4" width="692" height="725"/></clipPath>
<clipPath id="mc"><rect x="4093.3" y="1184.4" width="495.2" height="1643.1"/></clipPath>
<filter id="b12" x="-20%" y="-20%" width="140%" height="140%"><feGaussianBlur stdDeviation="14"/></filter>
<filter id="b20" x="-30%" y="-30%" width="160%" height="160%"><feGaussianBlur stdDeviation="22"/></filter>
<filter id="b16" x="-30%" y="-30%" width="160%" height="160%"><feGaussianBlur stdDeviation="15"/></filter>
<filter id="b10" x="-30%" y="-30%" width="160%" height="160%"><feGaussianBlur stdDeviation="10"/></filter>
<filter id="b8" x="-30%" y="-30%" width="160%" height="160%"><feGaussianBlur stdDeviation="7"/></filter>
<filter id="b4" x="-50%" y="-50%" width="200%" height="200%"><feGaussianBlur stdDeviation="4"/></filter></defs>
<rect width="4704" height="3028" fill="#fff"/>
<rect x="206.1" y="121.1" width="43.8" height="315.5" fill="url(#tg5)"/>
<rect x="249.3" y="121.1" width="9" height="313.8" fill="url(#tg6)"/>
<rect x="257.8" y="121.1" width="17.5" height="313.3" fill="url(#tg6)"/>
<rect x="274.7" y="121.1" width="15.4" height="287.6" fill="url(#tg7)"/>
<rect x="289.5" y="121.1" width="13.3" height="248.3" fill="url(#tg7)"/>
<rect x="302.1" y="121.1" width="33.9" height="255.5" fill="url(#tg7)"/>
<rect x="335.5" y="121.1" width="28.9" height="214.6" fill="url(#tg8)"/>
<rect x="363.7" y="121.1" width="28" height="225.1" fill="url(#tg9)"/>
<rect x="391.2" y="121.1" width="18.3" height="202.3" fill="url(#tg10)"/>
<rect x="408.9" y="121.1" width="33.9" height="217.5" fill="url(#tg10)"/>
<rect x="442.3" y="121.1" width="26.8" height="220.5" fill="url(#tg11)"/>
<rect x="468.4" y="121.1" width="39.9" height="187.6" fill="url(#tg12)"/>
<rect x="507.7" y="121.1" width="44.5" height="147" fill="url(#tg13)"/>
<rect x="551.6" y="121.1" width="53.8" height="156.3" fill="url(#tg14)"/>
<rect x="604.8" y="121.1" width="51.3" height="347.5" fill="url(#tg15)"/>
<rect x="655.4" y="121.1" width="3.1" height="227.2" fill="url(#tg16)"/>
<rect x="658" y="121.1" width="54.2" height="307.4" fill="url(#tg17)"/>
<rect x="711.6" y="121.1" width="61.4" height="328.5" fill="url(#tg18)"/>
<rect x="772.4" y="121.1" width="11.2" height="316.7" fill="url(#tg19)"/>
<rect x="782.9" y="121.1" width="37.7" height="359.8" fill="url(#tg20)"/>
<rect x="820.1" y="121.1" width="15" height="378.4" fill="url(#tg20)"/>
<rect x="834.4" y="121.1" width="42.8" height="344.6" fill="url(#tg21)"/>
<rect x="876.6" y="121.1" width="55.9" height="424.4" fill="url(#tg22)"/>
<rect x="931.9" y="121.1" width="57.2" height="455.6" fill="url(#tg24)"/>
<rect x="988.5" y="121.1" width="23" height="438.3" fill="url(#tg24)"/>
<rect x="1010.9" y="121.1" width="37.3" height="483.5" fill="url(#tg25)"/>
<rect x="1047.6" y="121.1" width="31.4" height="396.5" fill="url(#tg26)"/>
<rect x="1078.4" y="121.1" width="21.9" height="305.3" fill="url(#tg27)"/>
<rect x="1099.7" y="121.1" width="10.2" height="305.2" fill="url(#tg27)"/>
<rect x="1109.3" y="121.1" width="72.9" height="169.6" fill="url(#tg28)"/>
<rect x="1181.5" y="121.1" width="12" height="139.2" fill="url(#tg29)"/>
<rect x="1192.9" y="121.1" width="40.6" height="184.6" fill="url(#tg30)"/>
<rect x="1232.9" y="121.1" width="34.7" height="189.9" fill="url(#tg31)"/>
<rect x="1267" y="121.1" width="19.7" height="261" fill="url(#tg31)"/>
<rect x="1286.1" y="121.1" width="19.1" height="458.1" fill="url(#tg32)"/>
<rect x="1304.6" y="121.1" width="50.8" height="455.8" fill="url(#tg33)"/>
<rect x="1354.8" y="121.1" width="13.7" height="747.9" fill="url(#tg34)"/>
<rect x="1367.9" y="121.1" width="62.7" height="753.8" fill="url(#tg34)"/>
<rect x="1430" y="121.1" width="64.5" height="770" fill="url(#tg36)"/>
<rect x="1494" y="121.1" width="56.2" height="780.7" fill="url(#tg38)"/>
<rect x="1549.5" y="121.1" width="57.4" height="785.5" fill="url(#tg39)"/>
<rect x="1606.3" y="121.1" width="7.2" height="796.3" fill="url(#tg40)"/>
<rect x="1612.8" y="121.1" width="52" height="813" fill="url(#tg40)"/>
<rect x="1664.2" y="121.1" width="79.5" height="838.1" fill="url(#tg42)"/>
<rect x="1743.1" y="121.1" width="9.6" height="844" fill="url(#tg43)"/>
<rect x="1752" y="121.1" width="60.3" height="855.4" fill="url(#tg44)"/>
<rect x="1811.8" y="121.1" width="58.5" height="869.7" fill="url(#tg46)"/>
<rect x="1869.7" y="121.1" width="54.4" height="859" fill="url(#tg47)"/>
<rect x="1923.5" y="121.1" width="46" height="852.4" fill="url(#tg48)"/>
<rect x="1968.9" y="121.1" width="28.1" height="853.6" fill="url(#tg49)"/>
<rect x="1996.4" y="121.1" width="17.9" height="846.4" fill="url(#tg50)"/>
<rect x="2013.7" y="121.1" width="40.6" height="845.2" fill="url(#tg50)"/>
<rect x="2053.7" y="121.1" width="39.6" height="825.5" fill="url(#tg51)"/>
<rect x="2092.7" y="121.1" width="3.6" height="810" fill="url(#tg52)"/>
<rect x="2095.7" y="121.1" width="69.3" height="788.5" fill="url(#tg53)"/>
<rect x="2164.4" y="121.1" width="22.7" height="761" fill="url(#tg54)"/>
<rect x="2186.5" y="121.1" width="5.4" height="753.2" fill="url(#tg54)"/>
<rect x="2191.3" y="121.1" width="14.9" height="759.2" fill="url(#tg54)"/>
<rect x="2205.6" y="121.1" width="28.1" height="743.1" fill="url(#tg55)"/>
<rect x="2233.1" y="121.1" width="20.3" height="733.5" fill="url(#tg56)"/>
<rect x="2252.8" y="121.1" width="5.4" height="737.1" fill="url(#tg56)"/>
<rect x="2257.6" y="121.1" width="20.9" height="717.4" fill="url(#tg56)"/>
<rect x="2277.9" y="121.1" width="18.5" height="701.3" fill="url(#tg57)"/>
<rect x="2295.8" y="121.1" width="14.9" height="660.7" fill="url(#tg57)"/>
<rect x="2310.2" y="121.1" width="14.3" height="685.1" fill="url(#tg57)"/>
<rect x="2323.9" y="121.1" width="22.7" height="627.8" fill="url(#tg58)"/>
<rect x="2346" y="121.1" width="17.3" height="587.8" fill="url(#tg58)"/>
<rect x="2362.7" y="121.1" width="45.4" height="594.3" fill="url(#tg59)"/>
<rect x="2407.5" y="121.1" width="14.3" height="611.7" fill="url(#tg60)"/>
<rect x="2421.3" y="121.1" width="53.2" height="619.4" fill="url(#tg61)"/>
<rect x="2473.8" y="121.1" width="73.5" height="647.5" fill="url(#tg62)"/>
<rect x="2546.7" y="121.1" width="46.6" height="680.4" fill="url(#tg64)"/>
<rect x="2592.7" y="121.1" width="17.3" height="703.7" fill="url(#tg65)"/>
<rect x="2609.4" y="121.1" width="38.2" height="725.2" fill="url(#tg65)"/>
<rect x="2647.1" y="121.1" width="24.5" height="739.5" fill="url(#tg66)"/>
<rect x="2671" y="121.1" width="22.7" height="751.5" fill="url(#tg67)"/>
<rect x="2693.1" y="121.1" width="48.4" height="771.2" fill="url(#tg67)"/>
<rect x="2740.9" y="121.1" width="75.9" height="772.4" fill="url(#tg69)"/>
<rect x="2816.1" y="121.1" width="39.4" height="750.3" fill="url(#tg70)"/>
<rect x="2855" y="121.1" width="44.2" height="718" fill="url(#tg71)"/>
<rect x="2898.6" y="121.1" width="43" height="463.5" fill="url(#tg73)"/>
<rect x="2941" y="121.1" width="5.4" height="185.7" fill="url(#tg73)"/>
<rect x="2945.8" y="121.1" width="12" height="101.5" fill="url(#tg73)"/>
<rect x="2957.1" y="121.1" width="21.5" height="235.3" fill="url(#tg74)"/>
<rect x="2978" y="121.1" width="10.8" height="123" fill="url(#tg74)"/>
<rect x="2988.2" y="121.1" width="17.3" height="118.2" fill="url(#tg74)"/>
<rect x="3004.9" y="121.1" width="31.2" height="128.4" fill="url(#tg75)"/>
<rect x="3035.5" y="121.1" width="23.9" height="123.6" fill="url(#tg76)"/>
<rect x="3058.8" y="121.1" width="21.5" height="112.9" fill="url(#tg76)"/>
<rect x="3079.7" y="121.1" width="16.7" height="108.1" fill="url(#tg77)"/>
<rect x="3095.9" y="121.1" width="13.7" height="111.7" fill="url(#tg77)"/>
<rect x="3109" y="121.1" width="7.2" height="49.5" fill="url(#tg77)"/>
<rect x="3122.8" y="121.1" width="17.3" height="182.2" fill="url(#tg78)"/>
<rect x="3139.5" y="121.1" width="22.7" height="200.7" fill="url(#tg78)"/>
<rect x="3161.6" y="121.1" width="14.3" height="226.4" fill="url(#tg79)"/>
<rect x="3175.3" y="121.1" width="10.2" height="219.8" fill="url(#tg79)"/>
<rect x="3184.9" y="121.1" width="25.7" height="242.5" fill="url(#tg79)"/>
<rect x="3210" y="121.1" width="23.3" height="307.6" fill="url(#tg80)"/>
<rect x="3232.7" y="121.1" width="33.5" height="361.4" fill="url(#tg81)"/>
<rect x="3265.5" y="121.1" width="23.9" height="291.5" fill="url(#tg81)"/>
<rect x="3288.8" y="121.1" width="7.8" height="298.1" fill="url(#tg82)"/>
<rect x="3296" y="121.1" width="8.4" height="304.6" fill="url(#tg82)"/>
<rect x="3303.8" y="121.1" width="46.6" height="293.3" fill="url(#tg83)"/>
<rect x="3349.8" y="121.1" width="11.4" height="323.1" fill="url(#tg83)"/>
<rect x="3360.5" y="121.1" width="35.8" height="317.8" fill="url(#tg84)"/>
<rect x="3395.8" y="121.1" width="15.5" height="348.2" fill="url(#tg85)"/>
<rect x="3410.7" y="121.1" width="54.4" height="416.3" fill="url(#tg85)"/>
<rect x="3464.5" y="121.1" width="29.3" height="414.5" fill="url(#tg86)"/>
<rect x="3493.1" y="121.1" width="23.3" height="409.2" fill="url(#tg87)"/>
<rect x="3515.8" y="121.1" width="49.6" height="372.7" fill="url(#tg88)"/>
<rect x="3564.8" y="121.1" width="51.4" height="379.9" fill="url(#tg89)"/>
<rect x="3615.6" y="121.1" width="34.1" height="398.4" fill="url(#tg90)"/>
<rect x="3649" y="121.1" width="13.1" height="471.3" fill="url(#tg91)"/>
<rect x="3661.6" y="121.1" width="48.4" height="495.2" fill="url(#tg92)"/>
<rect x="3709.4" y="121.1" width="26.9" height="464.7" fill="url(#tg93)"/>
<rect x="3735.7" y="121.1" width="27.5" height="474.3" fill="url(#tg93)"/>
<rect x="3762.5" y="121.1" width="47.8" height="422.9" fill="url(#tg94)"/>
<rect x="3809.7" y="121.1" width="12.5" height="450.4" fill="url(#tg95)"/>
<rect x="3821.7" y="121.1" width="33.5" height="432.5" fill="url(#tg95)"/>
<rect x="3854.5" y="121.1" width="22.7" height="405.6" fill="url(#tg96)"/>
<rect x="3876.6" y="121.1" width="12" height="375.7" fill="url(#tg97)"/>
<rect x="3888" y="121.1" width="35.2" height="384.1" fill="url(#tg97)"/>
<rect x="3922.6" y="121.1" width="21.2" height="263.4" fill="url(#tg98)"/>
<rect x="206.4" y="121.1" width="40.2" height="58.9" fill="#000080"/>
<rect x="246.3" y="121.1" width="25" height="58.9" fill="#000080"/>
<rect x="270.9" y="121.1" width="15.6" height="58.9" fill="#000080"/>
<rect x="286.1" y="121.1" width="16.2" height="58.9" fill="#000080"/>
<rect x="301.9" y="121.1" width="30.5" height="58.9" fill="#0048ff"/>
<rect x="332" y="121.1" width="32.6" height="58.9" fill="#00e0f8"/>
<rect x="206.4" y="179.6" width="40.2" height="28.5" fill="#0078ff"/>
<rect x="246.3" y="179.6" width="25" height="28.5" fill="#0000f8"/>
<rect x="270.9" y="179.6" width="15.6" height="28.5" fill="#0808f0"/>
<rect x="286.1" y="179.6" width="16.2" height="28.5" fill="#0000d8"/>
<rect x="301.9" y="179.6" width="30.5" height="28.5" fill="#0058ff"/>
<rect x="332" y="179.6" width="32.6" height="28.5" fill="#00e0f8"/>
<rect x="206.4" y="207.7" width="40.2" height="28.5" fill="#00a0ff"/>
<rect x="246.3" y="207.7" width="25" height="28.5" fill="#0088ff"/>
<rect x="270.9" y="207.7" width="15.6" height="28.5" fill="#0098ff"/>
<rect x="286.1" y="207.7" width="16.2" height="28.5" fill="#0088ff"/>
<rect x="301.9" y="207.7" width="30.5" height="28.5" fill="#0078ff"/>
<rect x="332" y="207.7" width="32.6" height="28.5" fill="#00e0f8"/>
<rect x="206.4" y="235.8" width="40.2" height="19.7" fill="#00c8ff"/>
<rect x="246.3" y="235.8" width="25" height="19.7" fill="#0098ff"/>
<rect x="270.9" y="235.8" width="15.6" height="19.7" fill="#00d8f8"/>
<rect x="286.1" y="235.8" width="16.2" height="19.7" fill="#00d8ff"/>
<rect x="301.9" y="235.8" width="30.5" height="19.7" fill="#00a8ff"/>
<rect x="332" y="235.8" width="32.6" height="19.7" fill="#00e4f6"/>
<rect x="206.4" y="255.1" width="40.2" height="19.1" fill="#08e8f0"/>
<rect x="246.3" y="255.1" width="25" height="19.1" fill="#00c0ff"/>
<rect x="270.9" y="255.1" width="15.6" height="19.1" fill="#00e0f8"/>
<rect x="286.1" y="255.1" width="16.2" height="19.1" fill="#00dcff"/>
<rect x="301.9" y="255.1" width="30.5" height="19.1" fill="#00d8ff"/>
<rect x="332" y="255.1" width="32.6" height="19.1" fill="#08e8f0"/>
<rect x="206.4" y="273.8" width="40.2" height="19.4" fill="#30ffc8"/>
<rect x="246.3" y="273.8" width="25" height="19.4" fill="#08e8f0"/>
<rect x="270.9" y="273.8" width="15.6" height="19.4" fill="#20f8d8"/>
<rect x="286.1" y="273.8" width="16.2" height="19.4" fill="#08e8f0"/>
<rect x="301.9" y="273.8" width="30.5" height="19.4" fill="#10f0e8"/>
<rect x="332" y="273.8" width="32.6" height="19.4" fill="#10f0e8"/>
<rect x="206.4" y="292.8" width="43.5" height="143.9" fill="#38ffc0"/>
<rect x="249.5" y="292.8" width="21.8" height="142.2" fill="#30ffc8"/>
<rect x="270.9" y="292.8" width="15.6" height="115.3" fill="#30ffc8"/>
<rect x="286.1" y="292.8" width="16.2" height="76.3" fill="#08e8f0"/>
<rect x="301.9" y="292.8" width="30.5" height="83.1" fill="#10f0e8"/>
<rect x="332" y="292.8" width="32.6" height="43" fill="#18f8e0"/>
<rect x="206.4" y="121.1" width="3737.1" height="870.3" fill="none" stroke="#000" stroke-width="3.33"/>
<clipPath id="tc"><rect x="206.4" y="121.1" width="3737.1" height="870.3"/></clipPath>
<path clip-path="url(#tc)" d="M256.2 991.4V121.1M711.9 991.4V121.1M1091.8 991.4V121.1M1429.2 991.4V121.1M1850.9 991.4V121.1M2400.1 991.4V121.1M2864.4 991.4V121.1M2982.4 991.4V121.1M3244.5 991.4V121.1M3918.8 991.4V121.1" fill="none" stroke="#fff" stroke-opacity="0.9" stroke-width="4.17" stroke-dasharray="15.42 6.67"/>
<line x1="206.4" y1="991.4" x2="206.4" y2="1007.6" stroke="#000" stroke-width="3.33"/>
<text x="206.4" y="1052.7" font-size="41.7" text-anchor="middle">0</text>
<line x1="628.3" y1="991.4" x2="628.3" y2="1007.6" stroke="#000" stroke-width="3.33"/>
<text x="628.3" y="1052.7" font-size="41.7" text-anchor="middle">5000</text>
<line x1="1050.2" y1="991.4" x2="1050.2" y2="1007.6" stroke="#000" stroke-width="3.33"/>
<text x="1050.2" y="1052.7" font-size="41.7" text-anchor="middle">10000</text>
<line x1="1472.1" y1="991.4" x2="1472.1" y2="1007.6" stroke="#000" stroke-width="3.33"/>
<text x="1472.1" y="1052.7" font-size="41.7" text-anchor="middle">15000</text>
<line x1="1894" y1="991.4" x2="1894" y2="1007.6" stroke="#000" stroke-width="3.33"/>
<text x="1894" y="1052.7" font-size="41.7" text-anchor="middle">20000</text>
<line x1="2315.8" y1="991.4" x2="2315.8" y2="1007.6" stroke="#000" stroke-width="3.33"/>
<text x="2315.8" y="1052.7" font-size="41.7" text-anchor="middle">25000</text>
<line x1="2737.7" y1="991.4" x2="2737.7" y2="1007.6" stroke="#000" stroke-width="3.33"/>
<text x="2737.7" y="1052.7" font-size="41.7" text-anchor="middle">30000</text>
<line x1="3159.6" y1="991.4" x2="3159.6" y2="1007.6" stroke="#000" stroke-width="3.33"/>
<text x="3159.6" y="1052.7" font-size="41.7" text-anchor="middle">35000</text>
<line x1="3581.5" y1="991.4" x2="3581.5" y2="1007.6" stroke="#000" stroke-width="3.33"/>
<text x="3581.5" y="1052.7" font-size="41.7" text-anchor="middle">40000</text>
<line x1="190.2" y1="122.9" x2="206.4" y2="122.9" stroke="#000" stroke-width="3.33"/>
<text x="175.8" y="139.1" font-size="41.7" text-anchor="end">0</text>
<line x1="190.2" y1="314.5" x2="206.4" y2="314.5" stroke="#000" stroke-width="3.33"/>
<text x="175.8" y="330.7" font-size="41.7" text-anchor="end">−5</text>
<line x1="190.2" y1="506.2" x2="206.4" y2="506.2" stroke="#000" stroke-width="3.33"/>
<text x="175.8" y="522.4" font-size="41.7" text-anchor="end">−10</text>
<line x1="190.2" y1="697.8" x2="206.4" y2="697.8" stroke="#000" stroke-width="3.33"/>
<text x="175.8" y="714" font-size="41.7" text-anchor="end">−15</text>
<line x1="190.2" y1="889.5" x2="206.4" y2="889.5" stroke="#000" stroke-width="3.33"/>
<text x="175.8" y="905.7" font-size="41.7" text-anchor="end">−20</text>
<path d="M243.7 107.9 L268.7 108.9 L256.2 133.3 Z" fill="#fff" stroke="#000" stroke-width="4.17" stroke-linejoin="miter"/>
<text x="267.4" y="163.8" font-size="33.3" font-weight="bold">MR</text>
<path d="M699.4 107.9 L724.4 108.9 L711.9 133.3 Z" fill="#fff" stroke="#000" stroke-width="4.17" stroke-linejoin="miter"/>
<text x="723.1" y="163.8" font-size="33.3" font-weight="bold">OA9S</text>
<path d="M1079.3 107.9 L1104.3 108.9 L1091.8 133.3 Z" fill="#fff" stroke="#000" stroke-width="4.17" stroke-linejoin="miter"/>
<text x="1103" y="163.8" font-size="33.3" font-weight="bold">OA1-DEP</text>
<path d="M1416.7 107.9 L1441.7 108.9 L1429.2 133.3 Z" fill="#fff" stroke="#000" stroke-width="4.17" stroke-linejoin="miter"/>
<text x="1440.4" y="163.8" font-size="33.3" font-weight="bold">6147030</text>
<path d="M1838.4 107.9 L1863.4 108.9 L1850.9 133.3 Z" fill="#fff" stroke="#000" stroke-width="4.17" stroke-linejoin="miter"/>
<text x="1862.1" y="163.8" font-size="33.3" font-weight="bold">6142974</text>
<path d="M2387.6 107.9 L2412.6 108.9 L2400.1 133.3 Z" fill="#fff" stroke="#000" stroke-width="4.17" stroke-linejoin="miter"/>
<text x="2411.3" y="163.8" font-size="33.3" font-weight="bold">LP</text>
<path d="M2851.9 107.9 L2876.9 108.9 L2864.4 133.3 Z" fill="#fff" stroke="#000" stroke-width="4.17" stroke-linejoin="miter"/>
<text x="2875.6" y="163.8" font-size="33.3" font-weight="bold">SF11</text>
<path d="M2969.9 107.9 L2994.9 108.9 L2982.4 133.3 Z" fill="#fff" stroke="#000" stroke-width="4.17" stroke-linejoin="miter"/>
<text x="2993.6" y="163.8" font-size="33.3" font-weight="bold">6142983</text>
<path d="M3232 107.9 L3257 108.9 L3244.5 133.3 Z" fill="#fff" stroke="#000" stroke-width="4.17" stroke-linejoin="miter"/>
<text x="3255.7" y="163.8" font-size="33.3" font-weight="bold">SC</text>
<path d="M3906.3 107.9 L3931.3 108.9 L3918.8 133.3 Z" fill="#fff" stroke="#000" stroke-width="4.17" stroke-linejoin="miter"/>
<text x="3930" y="163.8" font-size="33.3" font-weight="bold">SC2</text>
<text x="2073.3" y="87.6" font-size="45.8" text-anchor="middle" font-weight="bold">Monthly Profiles: 2022-11 | Time: 2022-11-09 12:00</text>
<text x="301.3" y="67.9" font-size="50" text-anchor="middle" font-weight="bold">N</text>
<text x="3850" y="67.9" font-size="50" text-anchor="middle" font-weight="bold">S</text>
<text x="3888" y="946" font-size="41.7" text-anchor="end" font-weight="bold">Seawater Density (kg/m³)</text>
<text x="2075" y="1111.7" font-size="41.7" text-anchor="middle">Chainage (m)</text>
<text x="61.6" y="557.2" font-size="41.7" text-anchor="middle" transform="rotate(-90 61.6 557.2)">Depth (m)</text>
<rect x="4002.3" y="191.4" width="132.2" height="809.2" fill="url(#cb)" stroke="#000" stroke-width="3.33"/>
<line x1="4134.5" y1="1000.6" x2="4150.7" y2="1000.6" stroke="#000" stroke-width="3.33"/>
<text x="4163" y="1012.9" font-size="33.3">1024.0</text>
<line x1="4134.5" y1="865.7" x2="4150.7" y2="865.7" stroke="#000" stroke-width="3.33"/>
<text x="4163" y="878" font-size="33.3">1024.5</text>
<line x1="4134.5" y1="730.9" x2="4150.7" y2="730.9" stroke="#000" stroke-width="3.33"/>
<text x="4163" y="743.2" font-size="33.3">1025.0</text>
<line x1="4134.5" y1="596" x2="4150.7" y2="596" stroke="#000" stroke-width="3.33"/>
<text x="4163" y="608.3" font-size="33.3">1025.5</text>
<line x1="4134.5" y1="461.1" x2="4150.7" y2="461.1" stroke="#000" stroke-width="3.33"/>
<text x="4163" y="473.4" font-size="33.3">1026.0</text>
<line x1="4134.5" y1="326.3" x2="4150.7" y2="326.3" stroke="#000" stroke-width="3.33"/>
<text x="4163" y="338.6" font-size="33.3">1026.5</text>
<line x1="4134.5" y1="191.4" x2="4150.7" y2="191.4" stroke="#000" stroke-width="3.33"/>
<text x="4163" y="203.7" font-size="33.3">1027.0</text>
<text x="4331.5" y="596.5" font-size="37.5" text-anchor="middle" transform="rotate(-90 4331.5 596.5)">Water Density (kg m<tspan font-size="26.25" dy="-13.6">−3</tspan><tspan dy="13.6">)</tspan></text>
<g clip-path="url(#pc00)"><path d="M437.1 1184.5V1909.5M667.8 1184.5V1909.5M206.4 1250.4H898.5M206.4 1316.3H898.5M206.4 1382.2H898.5M206.4 1448.1H898.5M206.4 1514H898.5M206.4 1580H898.5M206.4 1645.9H898.5M206.4 1711.8H898.5M206.4 1777.7H898.5M206.4 1843.6H898.5" stroke="#b0b0b0" stroke-opacity="0.3" stroke-width="3" fill="none"/><polyline points="381.4,1189.8 384.9,1207.6 396.4,1217 405.8,1218.5 410,1213.9 419.4,1219.3 424.6,1214.9 428.8,1211.4 448.6,1222.2 453.9,1220.1 458.7,1218.5 462.2,1223.3 471.6,1223.9 477.9,1227.5 481,1232.7 482.1,1241 483.5,1249.4 485.2,1257.8 489.4,1264 492.5,1272.4 498.8,1278.7 503.4,1287 505.1,1295.4 508.2,1303.7 511.7,1312.1 513.4,1320.4 511.7,1325.7 514.5,1337.2 515.5,1358 515.9,1378.9 515.1,1399.8 514.5,1420.7 513.4,1437.4 512.8,1445.8" fill="none" stroke="#dc143c" stroke-opacity="0.7" stroke-width="8.33" stroke-linejoin="round"/><path d="M381.4 1189.8h0M385.5 1207.6h0M395.2 1217h0M401.1 1217.7h0M407.5 1218.5h0M408.3 1213.9h0M414.7 1216.6h0M420.3 1219.3h0M424.3 1214.9h0M428.8 1211.4h0M447.8 1222.2h0M455.3 1220.1h0M458.5 1218.5h0M460.6 1223.3h0M468.5 1223.6h0M471.5 1223.9h0M477.3 1227.5h0M481 1232.7h0M482.1 1241h0M484.6 1249.4h0M483.6 1257.8h0M489.6 1264h0M494.1 1272.4h0M497.3 1278.7h0M501.2 1282.8h0M503.7 1287h0M505.4 1295.4h0M508 1303.7h0M508.7 1307.9h0M513.5 1312.1h0M513.1 1320.4h0M510.4 1325.7h0M514.4 1331.4h0M514.3 1337.2h0M514.8 1344.1h0M514.4 1351.1h0M515.8 1358h0M517 1365h0M513.9 1372h0M516.3 1378.9h0M516.8 1385.9h0M514.4 1392.9h0M515.2 1399.8h0M514.6 1406.8h0M515.7 1413.8h0M514.1 1420.7h0M512.7 1426.3h0M515.7 1431.9h0M512.9 1437.4h0M511.9 1445.8h0" fill="none" stroke="#dc143c" stroke-opacity="0.93" stroke-width="16.2" stroke-linecap="round"/><line x1="506.8" y1="1909.5" x2="506.8" y2="1184.5" stroke="#808080" stroke-opacity="0.7" stroke-width="8.33" stroke-dasharray="30.83 13.33"/><polyline points="-11.2,1225.8 295.7,1246.7 391.8,1270.9 417.9,1290.8 436.7,1306.9 460.8,1324 480,1340.1 487.1,1364.7 487.7,1397.7 487.7,1431.8" fill="none" stroke="#4682b4" stroke-opacity="0.7" stroke-width="8.33" stroke-linejoin="round"/><path d="M289.6 1240.6h12.1v12.1h-12.1zM385.8 1264.9h12.1v12.1h-12.1zM411.9 1284.7h12.1v12.1h-12.1zM430.7 1300.8h12.1v12.1h-12.1zM454.7 1317.9h12.1v12.1h-12.1zM473.9 1334h12.1v12.1h-12.1zM481 1358.7h12.1v12.1h-12.1zM481.7 1391.7h12.1v12.1h-12.1zM481.7 1425.8h12.1v12.1h-12.1z" fill="#4682b4" fill-opacity="0.7" stroke="#4682b4" stroke-opacity="0.7" stroke-width="3.9"/></g>
<text x="885.5" y="1889" font-size="29.2" text-anchor="end" fill="#666">Obs: 2022-11-25</text>
<rect x="206.4" y="1184.5" width="692" height="725" fill="none" stroke="#000" stroke-width="3.33"/>
<path d="M206.4 1909.5v16.2M437.1 1909.5v16.2M667.8 1909.5v16.2M898.5 1909.5v16.2M206.4 1184.5h-16.2M206.4 1250.4h-16.2M206.4 1316.3h-16.2M206.4 1382.2h-16.2M206.4 1448.1h-16.2M206.4 1514h-16.2M206.4 1580h-16.2M206.4 1645.9h-16.2M206.4 1711.8h-16.2M206.4 1777.7h-16.2M206.4 1843.6h-16.2M206.4 1909.5h-16.2" stroke="#000" stroke-width="3.33" fill="none"/>
<text x="552.5" y="1158.9" font-size="41.7" text-anchor="middle" font-weight="bold">MR</text>
<text x="175.8" y="1199.7" font-size="41.7" text-anchor="end">0</text>
<text x="175.8" y="1265.6" font-size="41.7" text-anchor="end">−2</text>
<text x="175.8" y="1331.5" font-size="41.7" text-anchor="end">−4</text>
<text x="175.8" y="1397.4" font-size="41.7" text-anchor="end">−6</text>
<text x="175.8" y="1463.3" font-size="41.7" text-anchor="end">−8</text>
<text x="175.8" y="1529.2" font-size="41.7" text-anchor="end">−10</text>
<text x="175.8" y="1595.2" font-size="41.7" text-anchor="end">−12</text>
<text x="175.8" y="1661.1" font-size="41.7" text-anchor="end">−14</text>
<text x="175.8" y="1727" font-size="41.7" text-anchor="end">−16</text>
<text x="175.8" y="1792.9" font-size="41.7" text-anchor="end">−18</text>
<text x="175.8" y="1858.8" font-size="41.7" text-anchor="end">−20</text>
<text x="175.8" y="1924.7" font-size="41.7" text-anchor="end">−22</text>
<text x="62" y="1547" font-size="37.5" text-anchor="middle" transform="rotate(-90 62 1547)">Depth (m)</text>
<g clip-path="url(#pc01)"><path d="M1198.3 1184.5V1909.5M1428.9 1184.5V1909.5M967.6 1250.4H1659.6M967.6 1316.3H1659.6M967.6 1382.2H1659.6M967.6 1448.1H1659.6M967.6 1514H1659.6M967.6 1580H1659.6M967.6 1645.9H1659.6M967.6 1711.8H1659.6M967.6 1777.7H1659.6M967.6 1843.6H1659.6" stroke="#b0b0b0" stroke-opacity="0.3" stroke-width="3" fill="none"/><polyline points="1195.3,1192.5 1195.6,1211.8 1191.7,1218.2 1193.2,1226.8 1194.7,1234.3 1197.5,1241.8 1200.7,1249.3 1203.9,1255.7 1202.8,1262.1 1197.5,1267.5 1194.3,1273.9 1196,1282.5 1197.5,1291 1202.8,1296.4 1208.2,1299.6 1214.6,1307.1 1216.8,1317.8 1221,1325.3 1226.4,1332.8 1231.8,1340.3 1237.1,1347.8 1243.5,1354.3 1250,1358.5 1257.5,1361.8 1265,1366 1271.4,1374.6 1274,1382.1 1276.8,1390.7 1278.9,1401.4 1280.4,1412.1 1280,1425 1279.1,1437.8 1278.5,1452.8 1277.8,1467.8" fill="none" stroke="#dc143c" stroke-opacity="0.7" stroke-width="8.33" stroke-linejoin="round"/><path d="M1198.2 1192.5h0M1194.7 1211.8h0M1189.3 1218.2h0M1196.1 1226.8h0M1194.1 1234.3h0M1196.8 1241.8h0M1200.4 1249.3h0M1204.3 1255.7h0M1204.6 1262.1h0M1194.3 1267.5h0M1195.3 1273.9h0M1198.2 1282.5h0M1194.9 1291h0M1203.3 1296.4h0M1208.4 1299.6h0M1212.3 1303.4h0M1213.9 1307.1h0M1213.8 1312.5h0M1220.1 1317.8h0M1219.8 1325.3h0M1221.8 1329.1h0M1228.5 1332.8h0M1228.7 1336.6h0M1231.9 1340.3h0M1232.9 1344.1h0M1238.1 1347.8h0M1242.3 1351h0M1240.1 1354.3h0M1251.3 1358.5h0M1259 1361.8h0M1263.4 1366h0M1268.3 1370.3h0M1270.9 1374.6h0M1276.1 1382.1h0M1274.1 1386.4h0M1274.8 1390.7h0M1281.3 1396h0M1277.6 1401.4h0M1278.5 1406.7h0M1281.4 1412.1h0M1280.3 1418.5h0M1280.8 1425h0M1277 1431.4h0M1280.7 1437.8h0M1280.7 1442.8h0M1275.4 1447.8h0M1279.7 1452.8h0M1279 1457.8h0M1277.7 1462.8h0M1277.3 1467.8h0" fill="none" stroke="#dc143c" stroke-opacity="0.93" stroke-width="16.2" stroke-linecap="round"/><line x1="1267.9" y1="1909.5" x2="1267.9" y2="1184.5" stroke="#808080" stroke-opacity="0.7" stroke-width="8.33" stroke-dasharray="30.83 13.33"/><polyline points="1231.1,1198.9 1231.1,1222.5 1232,1246.7 1233.3,1270.7 1234.3,1291 1235,1306.5 1237.1,1323.8 1238.2,1340.3 1240.1,1364.5 1243.1,1397.7 1246.1,1434" fill="none" stroke="#4682b4" stroke-opacity="0.7" stroke-width="8.33" stroke-linejoin="round"/><path d="M1225.1 1192.9h12.1v12.1h-12.1zM1225.1 1216.4h12.1v12.1h-12.1zM1225.9 1240.7h12.1v12.1h-12.1zM1227.2 1264.6h12.1v12.1h-12.1zM1228.3 1285h12.1v12.1h-12.1zM1228.9 1300.4h12.1v12.1h-12.1zM1231.1 1317.8h12.1v12.1h-12.1zM1232.1 1334.3h12.1v12.1h-12.1zM1234.1 1358.5h12.1v12.1h-12.1zM1237.1 1391.7h12.1v12.1h-12.1zM1240.1 1427.9h12.1v12.1h-12.1z" fill="#4682b4" fill-opacity="0.7" stroke="#4682b4" stroke-opacity="0.7" stroke-width="3.9"/></g>
<text x="1646.6" y="1889" font-size="29.2" text-anchor="end" fill="#666">Obs: 2022-11-25</text>
<rect x="967.6" y="1184.5" width="692" height="725" fill="none" stroke="#000" stroke-width="3.33"/>
<path d="M967.6 1909.5v16.2M1198.3 1909.5v16.2M1428.9 1909.5v16.2M1659.6 1909.5v16.2M967.6 1184.5h-16.2M967.6 1250.4h-16.2M967.6 1316.3h-16.2M967.6 1382.2h-16.2M967.6 1448.1h-16.2M967.6 1514h-16.2M967.6 1580h-16.2M967.6 1645.9h-16.2M967.6 1711.8h-16.2M967.6 1777.7h-16.2M967.6 1843.6h-16.2M967.6 1909.5h-16.2" stroke="#000" stroke-width="3.33" fill="none"/>
<text x="1313.6" y="1158.9" font-size="41.7" text-anchor="middle" font-weight="bold">OA9S</text>
<g clip-path="url(#pc02)"><path d="M1959.5 1184.5V1909.5M2190.1 1184.5V1909.5M1728.8 1250.4H2420.8M1728.8 1316.3H2420.8M1728.8 1382.2H2420.8M1728.8 1448.1H2420.8M1728.8 1514H2420.8M1728.8 1580H2420.8M1728.8 1645.9H2420.8M1728.8 1711.8H2420.8M1728.8 1777.7H2420.8M1728.8 1843.6H2420.8" stroke="#b0b0b0" stroke-opacity="0.3" stroke-width="3" fill="none"/><polyline points="1986.4,1192.5 1986,1204.3 1985.1,1217.1 1985.5,1230 1983.8,1245 1984.7,1257.8 1982.1,1269.6 1985.3,1281.4 1986,1294.3 1985.5,1307.1 1984.3,1315.7 1988.1,1324.3 1986.8,1335 1992.8,1343.5 1997.1,1352.1 1999.3,1358.5 2005.7,1368.2 2019.6,1356.4 2020.7,1375.7 2022.8,1384.2 2030.3,1390.7 2030.3,1405.7 2029.9,1416.4 2029.3,1431.4 2029.3,1444.2 2036.1,1449.6 2020.3,1458.2 2043.2,1458.2 2037.8,1471" fill="none" stroke="#dc143c" stroke-opacity="0.7" stroke-width="8.33" stroke-linejoin="round"/><path d="M1988 1192.5h0M1983.8 1198.4h0M1986.7 1204.3h0M1985.6 1210.7h0M1986.3 1217.1h0M1984.2 1223.6h0M1984 1230h0M1988.5 1235h0M1982.6 1240h0M1982.5 1245h0M1986.2 1251.4h0M1984.3 1257.8h0M1983.7 1263.7h0M1980.4 1269.6h0M1985.2 1275.5h0M1986.8 1281.4h0M1982.2 1287.8h0M1987.8 1294.3h0M1986.8 1300.7h0M1984.2 1307.1h0M1984.3 1315.7h0M1985.7 1320h0M1990.4 1324.3h0M1985.6 1329.6h0M1985.5 1335h0M1993.2 1339.3h0M1991.1 1343.5h0M1994.3 1347.8h0M1997.8 1352.1h0M1999.6 1358.5h0M2003.1 1363.4h0M2003 1368.2h0M2012.4 1364.3h0M2016.2 1360.3h0M2016.5 1356.4h0M2021.5 1362.8h0M2020.8 1369.3h0M2020.6 1375.7h0M2022 1384.2h0M2025.8 1387.5h0M2033.4 1390.7h0M2028 1398.2h0M2029.3 1405.7h0M2032.9 1411h0M2028.6 1416.4h0M2029.5 1421.4h0M2028.9 1426.4h0M2030.5 1431.4h0M2030 1437.8h0M2026 1444.2h0M2038.6 1449.6h0M2021.1 1458.2h0M2040.9 1458.2h0M2038.8 1471h0" fill="none" stroke="#dc143c" stroke-opacity="0.93" stroke-width="16.2" stroke-linecap="round"/><line x1="2029.1" y1="1909.5" x2="2029.1" y2="1184.5" stroke="#808080" stroke-opacity="0.7" stroke-width="8.33" stroke-dasharray="30.83 13.33"/><polyline points="1991.8,1198.9 1993.3,1222.5 1995,1246.7 1999.9,1270.7 2004.2,1291 2006.3,1306.5 2008.3,1323.8 2010.4,1340.3 2010,1364.5 2011.3,1397.7 2010.8,1428.6" fill="none" stroke="#4682b4" stroke-opacity="0.7" stroke-width="8.33" stroke-linejoin="round"/><path d="M1985.7 1192.9h12.1v12.1h-12.1zM1987.2 1216.4h12.1v12.1h-12.1zM1988.9 1240.7h12.1v12.1h-12.1zM1993.9 1264.6h12.1v12.1h-12.1zM1998.1 1285h12.1v12.1h-12.1zM2000.3 1300.4h12.1v12.1h-12.1zM2002.2 1317.8h12.1v12.1h-12.1zM2004.4 1334.3h12.1v12.1h-12.1zM2003.9 1358.5h12.1v12.1h-12.1zM2005.2 1391.7h12.1v12.1h-12.1zM2004.8 1422.5h12.1v12.1h-12.1z" fill="#4682b4" fill-opacity="0.7" stroke="#4682b4" stroke-opacity="0.7" stroke-width="3.9"/></g>
<text x="2407.8" y="1889" font-size="29.2" text-anchor="end" fill="#666">Obs: 2022-11-25</text>
<rect x="1728.8" y="1184.5" width="692" height="725" fill="none" stroke="#000" stroke-width="3.33"/>
<path d="M1728.8 1909.5v16.2M1959.5 1909.5v16.2M2190.1 1909.5v16.2M2420.8 1909.5v16.2M1728.8 1184.5h-16.2M1728.8 1250.4h-16.2M1728.8 1316.3h-16.2M1728.8 1382.2h-16.2M1728.8 1448.1h-16.2M1728.8 1514h-16.2M1728.8 1580h-16.2M1728.8 1645.9h-16.2M1728.8 1711.8h-16.2M1728.8 1777.7h-16.2M1728.8 1843.6h-16.2M1728.8 1909.5h-16.2" stroke="#000" stroke-width="3.33" fill="none"/>
<text x="2074.8" y="1158.9" font-size="41.7" text-anchor="middle" font-weight="bold">OA1-DEP</text>
<g clip-path="url(#pc03)"><path d="M2720.8 1184.5V1909.5M2951.4 1184.5V1909.5M2490.1 1250.4H3182.1M2490.1 1316.3H3182.1M2490.1 1382.2H3182.1M2490.1 1448.1H3182.1M2490.1 1514H3182.1M2490.1 1580H3182.1M2490.1 1645.9H3182.1M2490.1 1711.8H3182.1M2490.1 1777.7H3182.1M2490.1 1843.6H3182.1" stroke="#b0b0b0" stroke-opacity="0.3" stroke-width="3" fill="none"/><polyline points="2773.2,1211.4 2773.7,1228.5 2773.2,1243.1 2772.3,1262.6 2771.3,1282 2771.3,1301.5 2778.1,1312.2 2774.7,1330.7 2778.1,1355.1 2781,1374.6 2782,1384.3 2784,1403.8 2784.9,1413.6 2787.9,1442.8 2788.8,1472 2787.9,1491.5 2786.9,1511 2785.4,1535.3 2784.4,1559.7 2783,1584 2782,1608.4 2781,1657.1 2780.1,1705.8 2779.1,1754.5 2778.6,1778.9 2779.1,1803.3 2780.1,1827.6 2781,1852 2785.9,1869" fill="none" stroke="#dc143c" stroke-opacity="0.7" stroke-width="8.33" stroke-linejoin="round"/><path d="M2773.2 1211.4h0M2773.5 1217.1h0M2773.1 1222.8h0M2774.2 1228.5h0M2773.7 1235.8h0M2772.5 1243.1h0M2773.4 1249.6h0M2772.7 1256.1h0M2772 1262.6h0M2771.9 1269h0M2771.5 1275.5h0M2771.8 1282h0M2770.8 1288.5h0M2771.1 1295h0M2772 1301.5h0M2774.2 1306.9h0M2778 1312.2h0M2777.1 1318.4h0M2776 1324.6h0M2774.8 1330.7h0M2774.9 1336.8h0M2777 1342.9h0M2777.4 1349h0M2777.5 1355.1h0M2779.5 1361.6h0M2780.1 1368.1h0M2781.1 1374.6h0M2781.3 1379.5h0M2781.9 1384.3h0M2783.3 1390.8h0M2782.7 1397.3h0M2783.9 1403.8h0M2785 1408.7h0M2784.6 1413.6h0M2785.5 1419.4h0M2785.9 1425.2h0M2787.1 1431.1h0M2787.3 1436.9h0M2787.2 1442.8h0M2788.7 1448.6h0M2788.3 1454.5h0M2788 1460.3h0M2788.8 1466.2h0M2788.8 1472h0M2788.8 1478.5h0M2787.7 1485h0M2787.8 1491.5h0M2788.2 1498h0M2786.6 1504.5h0M2786.9 1511h0M2786.8 1517.1h0M2786.1 1523.2h0M2785.8 1529.2h0M2785 1535.3h0M2785.8 1541.4h0M2784.9 1547.5h0M2784 1553.6h0M2785.1 1559.7h0M2784.1 1565.8h0M2783.5 1571.9h0M2783.3 1578h0M2783 1584h0M2783.2 1590.1h0M2781.8 1596.2h0M2782.3 1602.3h0M2782.6 1608.4h0M2781.3 1614.5h0M2781.8 1620.6h0M2781.7 1626.7h0M2781.7 1632.8h0M2781.4 1638.8h0M2780.7 1644.9h0M2781.9 1651h0M2780.9 1657.1h0M2780.4 1663.2h0M2781.3 1669.3h0M2780.6 1675.4h0M2780.6 1681.5h0M2780.1 1687.6h0M2780.4 1693.6h0M2780.8 1699.7h0M2779.3 1705.8h0M2780.1 1711.9h0M2780.3 1718h0M2779.4 1724.1h0M2779.6 1730.2h0M2779.3 1736.3h0M2779.8 1742.4h0M2779.1 1748.4h0M2778.5 1754.5h0M2779.7 1760.6h0M2778.7 1766.7h0M2778.4 1772.8h0M2778.8 1778.9h0M2778.7 1785h0M2779.1 1791.1h0M2778.4 1797.2h0M2779.3 1803.3h0M2779.9 1809.3h0M2778.9 1815.4h0M2780 1821.5h0M2780.3 1827.6h0M2780.2 1833.7h0M2780.5 1839.8h0M2780.5 1845.9h0M2781.7 1852h0M2782.4 1857.6h0M2783.8 1863.3h0M2786.6 1869h0" fill="none" stroke="#dc143c" stroke-opacity="0.93" stroke-width="16.2" stroke-linecap="round"/><line x1="2790.4" y1="1909.5" x2="2790.4" y2="1184.5" stroke="#808080" stroke-opacity="0.7" stroke-width="8.33" stroke-dasharray="30.83 13.33"/><polyline points="2743.5,1199.2 2743.5,1222.6 2745.5,1246.5 2748.4,1270.8 2753.3,1290.8 2758.1,1307.4 2763,1324.4 2767.4,1339.5 2771.3,1365.3 2774.2,1397 2776.2,1430.6 2778.1,1463.7 2780.6,1496.4 2782.5,1530.5 2784,1562.6 2784.9,1595.7 2785.9,1628.4 2786.9,1662 2787.4,1695.1 2787.9,1727.7 2788.3,1760.4 2788.3,1793 2788.8,1825.7 2788.8,1858.8 2788.8,1888.5" fill="none" stroke="#4682b4" stroke-opacity="0.7" stroke-width="8.33" stroke-linejoin="round"/><path d="M2737.5 1193.2h12.1v12.1h-12.1zM2737.5 1216.6h12.1v12.1h-12.1zM2739.4 1240.4h12.1v12.1h-12.1zM2742.4 1264.8h12.1v12.1h-12.1zM2747.2 1284.8h12.1v12.1h-12.1zM2752.1 1301.3h12.1v12.1h-12.1zM2757 1318.4h12.1v12.1h-12.1zM2761.3 1333.5h12.1v12.1h-12.1zM2765.2 1359.3h12.1v12.1h-12.1zM2768.2 1390.9h12.1v12.1h-12.1zM2770.1 1424.6h12.1v12.1h-12.1zM2772.1 1457.7h12.1v12.1h-12.1zM2774.5 1490.3h12.1v12.1h-12.1zM2776.4 1524.4h12.1v12.1h-12.1zM2777.9 1556.6h12.1v12.1h-12.1zM2778.9 1589.7h12.1v12.1h-12.1zM2779.9 1622.3h12.1v12.1h-12.1zM2780.8 1655.9h12.1v12.1h-12.1zM2781.3 1689.1h12.1v12.1h-12.1zM2781.8 1721.7h12.1v12.1h-12.1zM2782.3 1754.3h12.1v12.1h-12.1zM2782.3 1787h12.1v12.1h-12.1zM2782.8 1819.6h12.1v12.1h-12.1zM2782.8 1852.7h12.1v12.1h-12.1zM2782.8 1882.4h12.1v12.1h-12.1z" fill="#4682b4" fill-opacity="0.7" stroke="#4682b4" stroke-opacity="0.7" stroke-width="3.9"/></g>
<text x="3169.1" y="1889" font-size="29.2" text-anchor="end" fill="#666">Obs: 2022-11-09</text>
<rect x="2490.1" y="1184.5" width="692" height="725" fill="none" stroke="#000" stroke-width="3.33"/>
<path d="M2490.1 1909.5v16.2M2720.8 1909.5v16.2M2951.4 1909.5v16.2M3182.1 1909.5v16.2M2490.1 1184.5h-16.2M2490.1 1250.4h-16.2M2490.1 1316.3h-16.2M2490.1 1382.2h-16.2M2490.1 1448.1h-16.2M2490.1 1514h-16.2M2490.1 1580h-16.2M2490.1 1645.9h-16.2M2490.1 1711.8h-16.2M2490.1 1777.7h-16.2M2490.1 1843.6h-16.2M2490.1 1909.5h-16.2" stroke="#000" stroke-width="3.33" fill="none"/>
<text x="2836.1" y="1158.9" font-size="41.7" text-anchor="middle" font-weight="bold">6147030</text>
<g clip-path="url(#pc04)"><path d="M3482.1 1184.5V1909.5M3712.7 1184.5V1909.5M3251.4 1250.4H3943.4M3251.4 1316.3H3943.4M3251.4 1382.2H3943.4M3251.4 1448.1H3943.4M3251.4 1514H3943.4M3251.4 1580H3943.4M3251.4 1645.9H3943.4M3251.4 1711.8H3943.4M3251.4 1777.7H3943.4M3251.4 1843.6H3943.4" stroke="#b0b0b0" stroke-opacity="0.3" stroke-width="3" fill="none"/><polyline points="3555.7,1206.5 3554.2,1228.5 3553.2,1257.7 3553.7,1277.2 3554.2,1296.7 3552.7,1316.1 3551.8,1330.7 3550.8,1364.8 3549.3,1398.9 3548.3,1423.3 3547.9,1442.8 3546.9,1486.6 3545.9,1535.3 3545.9,1584 3546.9,1632.8 3546.9,1681.5 3545.9,1730.2 3545.9,1778.9 3544.9,1803.3 3545.9,1826.6" fill="none" stroke="#dc143c" stroke-opacity="0.7" stroke-width="8.33" stroke-linejoin="round"/><path d="M3556.2 1206.5h0M3554.6 1212h0M3554.9 1217.5h0M3555.2 1223h0M3553.7 1228.5h0M3554 1234.3h0M3553.8 1240.1h0M3553.8 1246h0M3553.4 1251.8h0M3552.6 1257.7h0M3554.1 1264.2h0M3553.5 1270.7h0M3553.1 1277.2h0M3554.3 1283.7h0M3554 1290.2h0M3554.3 1296.7h0M3553.4 1303.1h0M3553.3 1309.6h0M3553.4 1316.1h0M3551.5 1323.4h0M3551.8 1330.7h0M3552.1 1336.4h0M3551.1 1342.1h0M3551.3 1347.8h0M3550.9 1353.5h0M3551.4 1359.2h0M3550.7 1364.8h0M3549.9 1370.5h0M3551 1376.2h0M3550 1381.9h0M3549.4 1387.6h0M3549.7 1393.3h0M3549.3 1398.9h0M3549.4 1405h0M3548.3 1411.1h0M3548.7 1417.2h0M3549 1423.3h0M3547.5 1429.8h0M3548.1 1436.3h0M3548.1 1442.8h0M3547.7 1449h0M3547.5 1455.3h0M3547.1 1461.6h0M3548 1467.8h0M3547 1474.1h0M3546.4 1480.4h0M3547.5 1486.6h0M3546.7 1492.7h0M3546.5 1498.8h0M3546.4 1504.9h0M3546.5 1511h0M3546.7 1517.1h0M3545.4 1523.2h0M3546.2 1529.2h0M3546.4 1535.3h0M3545.4 1541.4h0M3546 1547.5h0M3545.9 1553.6h0M3546.2 1559.7h0M3545.8 1565.8h0M3545.4 1571.9h0M3546.7 1578h0M3545.7 1584h0M3545.6 1590.1h0M3546.6 1596.2h0M3546.2 1602.3h0M3546.5 1608.4h0M3546.1 1614.5h0M3546.8 1620.6h0M3547.2 1626.7h0M3546.1 1632.8h0M3547.1 1638.8h0M3547.2 1644.9h0M3546.6 1651h0M3546.9 1657.1h0M3546.7 1663.2h0M3547.4 1669.3h0M3546.6 1675.4h0M3546.4 1681.5h0M3547.5 1687.6h0M3546.4 1693.6h0M3546.3 1699.7h0M3546.6 1705.8h0M3546.3 1711.9h0M3546.4 1718h0M3545.4 1724.1h0M3546.2 1730.2h0M3546.4 1736.3h0M3545.2 1742.4h0M3546.2 1748.4h0M3546.1 1754.5h0M3545.9 1760.6h0M3545.8 1766.7h0M3545.6 1772.8h0M3546.6 1778.9h0M3545.3 1785h0M3545 1791.1h0M3545.8 1797.2h0M3544.7 1803.3h0M3545.1 1809.1h0M3545.3 1814.9h0M3545.9 1820.8h0M3546.2 1826.6h0" fill="none" stroke="#dc143c" stroke-opacity="0.93" stroke-width="16.2" stroke-linecap="round"/><line x1="3551.7" y1="1909.5" x2="3551.7" y2="1184.5" stroke="#808080" stroke-opacity="0.7" stroke-width="8.33" stroke-dasharray="30.83 13.33"/><polyline points="3534.2,1199.2 3534.2,1222.6 3535.2,1246.5 3537.1,1270.8 3539.6,1290.8 3542.5,1307.4 3544.9,1324.4 3547.4,1339.5 3550.8,1365.3 3553.7,1397 3556.1,1430.6 3557.6,1463.7 3558.6,1496.4 3558.6,1530.5 3559.5,1562.6 3560,1595.7 3560,1628.4 3561,1662 3561,1695.1 3562,1727.7 3564.4,1760.4 3568.8,1793 3568.8,1821.8" fill="none" stroke="#4682b4" stroke-opacity="0.7" stroke-width="8.33" stroke-linejoin="round"/><path d="M3528.2 1193.2h12.1v12.1h-12.1zM3528.2 1216.6h12.1v12.1h-12.1zM3529.1 1240.4h12.1v12.1h-12.1zM3531.1 1264.8h12.1v12.1h-12.1zM3533.5 1284.8h12.1v12.1h-12.1zM3536.4 1301.3h12.1v12.1h-12.1zM3538.9 1318.4h12.1v12.1h-12.1zM3541.3 1333.5h12.1v12.1h-12.1zM3544.7 1359.3h12.1v12.1h-12.1zM3547.7 1390.9h12.1v12.1h-12.1zM3550.1 1424.6h12.1v12.1h-12.1zM3551.5 1457.7h12.1v12.1h-12.1zM3552.5 1490.3h12.1v12.1h-12.1zM3552.5 1524.4h12.1v12.1h-12.1zM3553.5 1556.6h12.1v12.1h-12.1zM3554 1589.7h12.1v12.1h-12.1zM3554 1622.3h12.1v12.1h-12.1zM3555 1655.9h12.1v12.1h-12.1zM3555 1689.1h12.1v12.1h-12.1zM3555.9 1721.7h12.1v12.1h-12.1zM3558.4 1754.3h12.1v12.1h-12.1zM3562.8 1787h12.1v12.1h-12.1zM3562.8 1815.7h12.1v12.1h-12.1z" fill="#4682b4" fill-opacity="0.7" stroke="#4682b4" stroke-opacity="0.7" stroke-width="3.9"/></g>
<text x="3930.4" y="1889" font-size="29.2" text-anchor="end" fill="#666">Obs: 2022-11-10</text>
<rect x="3251.4" y="1184.5" width="692" height="725" fill="none" stroke="#000" stroke-width="3.33"/>
<path d="M3251.4 1909.5v16.2M3482.1 1909.5v16.2M3712.7 1909.5v16.2M3943.4 1909.5v16.2M3251.4 1184.5h-16.2M3251.4 1250.4h-16.2M3251.4 1316.3h-16.2M3251.4 1382.2h-16.2M3251.4 1448.1h-16.2M3251.4 1514h-16.2M3251.4 1580h-16.2M3251.4 1645.9h-16.2M3251.4 1711.8h-16.2M3251.4 1777.7h-16.2M3251.4 1843.6h-16.2M3251.4 1909.5h-16.2" stroke="#000" stroke-width="3.33" fill="none"/>
<text x="3597.4" y="1158.9" font-size="41.7" text-anchor="middle" font-weight="bold">6142974</text>
<g clip-path="url(#pc10)"><path d="M437.1 2102.4V2827.4M667.8 2102.4V2827.4M206.4 2168.3H898.5M206.4 2234.2H898.5M206.4 2300.1H898.5M206.4 2366H898.5M206.4 2431.9H898.5M206.4 2497.9H898.5M206.4 2563.8H898.5M206.4 2629.7H898.5M206.4 2695.6H898.5M206.4 2761.5H898.5" stroke="#b0b0b0" stroke-opacity="0.3" stroke-width="3" fill="none"/><polyline points="518.4,2111.4 515.3,2125.1 518.1,2138.7 516.9,2152.3 516.1,2167.9 517.7,2187.4 518.8,2203 519.2,2218.6 518.8,2234.2 520,2249.7 520.8,2261.4 521.6,2277 521.9,2292.6 523.9,2316 522.3,2331.6 520.8,2347.1 522.3,2362.7 523.9,2378.3 527,2401.7 525.5,2417.3 524.7,2432.9 525.5,2464 527,2495.2 531.7,2518.6 537.1,2538 542.2,2554.4 537.1,2575.1 536.4,2600.4 534.4,2623" fill="none" stroke="#dc143c" stroke-opacity="0.7" stroke-width="8.33" stroke-linejoin="round"/><path d="M518.4 2111.4h0M516.9 2118.2h0M514.6 2125.1h0M517.6 2131.9h0M518.1 2138.7h0M516.5 2145.5h0M517.7 2152.3h0M516.6 2157.5h0M516.2 2162.7h0M515.9 2167.9h0M516.6 2174.4h0M518 2180.9h0M516.6 2187.4h0M518.1 2192.6h0M519.4 2197.8h0M518.1 2203h0M519 2208.2h0M519.1 2213.4h0M519.6 2218.6h0M519 2223.8h0M518.1 2229h0M519.9 2234.2h0M519.1 2239.3h0M518.8 2244.5h0M520.6 2249.7h0M520.4 2255.6h0M521 2261.4h0M520.5 2266.6h0M521.4 2271.8h0M522.5 2277h0M520.6 2282.2h0M522 2287.4h0M522.6 2292.6h0M522 2298.4h0M522.9 2304.3h0M523.1 2310.1h0M524.7 2316h0M523.2 2321.2h0M521.9 2326.4h0M523.4 2331.6h0M521.7 2336.8h0M520.8 2341.9h0M521 2347.1h0M521.3 2352.3h0M522.3 2357.5h0M521.4 2362.7h0M523.1 2367.9h0M524.3 2373.1h0M522.9 2378.3h0M524.9 2384.2h0M525.8 2390h0M526.3 2395.8h0M526.9 2401.7h0M525.9 2406.9h0M527 2412.1h0M525.1 2417.3h0M524.4 2422.5h0M525.8 2427.7h0M524.5 2432.9h0M524.7 2439.1h0M524.7 2445.3h0M525.3 2451.6h0M526 2457.8h0M524.3 2464h0M526.1 2470.3h0M526.8 2476.5h0M525.6 2482.7h0M526.8 2489h0M527 2495.2h0M528.6 2501h0M529.1 2506.9h0M529.8 2512.7h0M532.9 2518.6h0M533.1 2525.1h0M534.7 2531.6h0M537.7 2538h0M538.8 2543.5h0M540.7 2549h0M541.5 2554.4h0M541.3 2559.6h0M540.4 2564.7h0M537.2 2569.9h0M537.6 2575.1h0M537.4 2581.4h0M536.4 2587.7h0M536.5 2594.1h0M536.1 2600.4h0M536.7 2606h0M534.9 2611.7h0M534.2 2617.3h0M535.6 2623h0" fill="none" stroke="#dc143c" stroke-opacity="0.93" stroke-width="16.2" stroke-linecap="round"/><line x1="506.8" y1="2827.4" x2="506.8" y2="2102.4" stroke="#808080" stroke-opacity="0.7" stroke-width="8.33" stroke-dasharray="30.83 13.33"/><polyline points="500.5,2116.5 499.3,2140.6 500.5,2164 501.7,2188.6 502.5,2208.8 503.6,2226.4 504.8,2241.2 506.8,2258.7 510.3,2282.5 515.7,2315.2 520,2348.3 521.9,2381 522.7,2414.2 523.5,2447.3 524.7,2480 525.8,2513.1 528.6,2546.2 533.2,2579.3 535.6,2612.5 536,2642.5" fill="none" stroke="#4682b4" stroke-opacity="0.7" stroke-width="8.33" stroke-linejoin="round"/><path d="M494.5 2110.4h12.1v12.1h-12.1zM493.3 2134.6h12.1v12.1h-12.1zM494.5 2158h12.1v12.1h-12.1zM495.6 2182.5h12.1v12.1h-12.1zM496.4 2202.8h12.1v12.1h-12.1zM497.6 2220.3h12.1v12.1h-12.1zM498.8 2235.1h12.1v12.1h-12.1zM500.7 2252.6h12.1v12.1h-12.1zM504.2 2276.4h12.1v12.1h-12.1zM509.7 2309.1h12.1v12.1h-12.1zM513.9 2342.3h12.1v12.1h-12.1zM515.9 2375h12.1v12.1h-12.1zM516.7 2408.1h12.1v12.1h-12.1zM517.5 2441.2h12.1v12.1h-12.1zM518.6 2473.9h12.1v12.1h-12.1zM519.8 2507.1h12.1v12.1h-12.1zM522.5 2540.2h12.1v12.1h-12.1zM527.2 2573.3h12.1v12.1h-12.1zM529.5 2606.4h12.1v12.1h-12.1zM529.9 2636.4h12.1v12.1h-12.1z" fill="#4682b4" fill-opacity="0.7" stroke="#4682b4" stroke-opacity="0.7" stroke-width="3.9"/></g>
<text x="885.5" y="2806.9" font-size="29.2" text-anchor="end" fill="#666">Obs: 2022-11-24</text>
<rect x="206.4" y="2102.4" width="692" height="725" fill="none" stroke="#000" stroke-width="3.33"/>
<path d="M206.4 2827.4v16.2M437.1 2827.4v16.2M667.8 2827.4v16.2M898.5 2827.4v16.2M206.4 2102.4h-16.2M206.4 2168.3h-16.2M206.4 2234.2h-16.2M206.4 2300.1h-16.2M206.4 2366h-16.2M206.4 2431.9h-16.2M206.4 2497.9h-16.2M206.4 2563.8h-16.2M206.4 2629.7h-16.2M206.4 2695.6h-16.2M206.4 2761.5h-16.2M206.4 2827.4h-16.2" stroke="#000" stroke-width="3.33" fill="none"/>
<text x="552.5" y="2076.8" font-size="41.7" text-anchor="middle" font-weight="bold">LP</text>
<text x="175.8" y="2117.6" font-size="41.7" text-anchor="end">0</text>
<text x="175.8" y="2183.5" font-size="41.7" text-anchor="end">−2</text>
<text x="175.8" y="2249.4" font-size="41.7" text-anchor="end">−4</text>
<text x="175.8" y="2315.3" font-size="41.7" text-anchor="end">−6</text>
<text x="175.8" y="2381.2" font-size="41.7" text-anchor="end">−8</text>
<text x="175.8" y="2447.1" font-size="41.7" text-anchor="end">−10</text>
<text x="175.8" y="2513.1" font-size="41.7" text-anchor="end">−12</text>
<text x="175.8" y="2579" font-size="41.7" text-anchor="end">−14</text>
<text x="175.8" y="2644.9" font-size="41.7" text-anchor="end">−16</text>
<text x="175.8" y="2710.8" font-size="41.7" text-anchor="end">−18</text>
<text x="175.8" y="2776.7" font-size="41.7" text-anchor="end">−20</text>
<text x="175.8" y="2842.6" font-size="41.7" text-anchor="end">−22</text>
<text x="62" y="2464.9" font-size="37.5" text-anchor="middle" transform="rotate(-90 62 2464.9)">Depth (m)</text>
<text x="203.9" y="2915.1" font-size="41.67" text-anchor="middle" transform="rotate(-30 203.9 2899.9)">1024</text>
<text x="434.6" y="2915.1" font-size="41.67" text-anchor="middle" transform="rotate(-30 434.6 2899.9)">1025</text>
<text x="665.3" y="2915.1" font-size="41.67" text-anchor="middle" transform="rotate(-30 665.3 2899.9)">1026</text>
<text x="896" y="2915.1" font-size="41.67" text-anchor="middle" transform="rotate(-30 896 2899.9)">1027</text>
<text x="551.5" y="2991.5" font-size="37.5" text-anchor="middle">Density (kg/m³)</text>
<g clip-path="url(#pc11)"><path d="M1198.3 2102.4V2827.4M1428.9 2102.4V2827.4M967.6 2168.3H1659.6M967.6 2234.2H1659.6M967.6 2300.1H1659.6M967.6 2366H1659.6M967.6 2431.9H1659.6M967.6 2497.9H1659.6M967.6 2563.8H1659.6M967.6 2629.7H1659.6M967.6 2695.6H1659.6M967.6 2761.5H1659.6" stroke="#b0b0b0" stroke-opacity="0.3" stroke-width="3" fill="none"/><polyline points="1279.4,2111.1 1278.1,2132.2 1279.4,2147 1280.3,2161.7 1281.5,2176.5 1282.4,2191.3 1284.1,2206 1285.7,2220.8 1287.8,2250.3 1290,2265.1 1291.6,2279.9 1292.5,2313.6 1294.2,2347.4 1295.9,2381.1 1295.9,2414.9 1294.2,2448.6 1291.6,2482.4 1290,2516.2 1290,2549.9 1290.8,2583.7 1292.5,2613.2 1288.7,2625.9 1294.2,2651.2 1295.9,2676.5 1297.6,2691.3" fill="none" stroke="#dc143c" stroke-opacity="0.7" stroke-width="8.33" stroke-linejoin="round"/><path d="M1280.2 2111.1h0M1278 2116.4h0M1279 2121.6h0M1279.2 2126.9h0M1277.4 2132.2h0M1278.9 2139.6h0M1279.3 2147h0M1280.3 2154.3h0M1280 2161.7h0M1280.1 2169.1h0M1282.7 2176.5h0M1281.6 2183.9h0M1281.7 2191.3h0M1283.7 2198.6h0M1284 2206h0M1285.1 2213.4h0M1285 2220.8h0M1286.5 2226.7h0M1287.4 2232.6h0M1285.8 2238.5h0M1287.7 2244.4h0M1288.3 2250.3h0M1288.6 2257.7h0M1289.9 2265.1h0M1290.5 2272.5h0M1292.5 2279.9h0M1291.4 2285.5h0M1291.2 2291.1h0M1293.2 2296.8h0M1291.9 2302.4h0M1292 2308h0M1292.6 2313.6h0M1292.9 2319.3h0M1293.5 2324.9h0M1292.3 2330.5h0M1294.1 2336.1h0M1294.6 2341.8h0M1293.2 2347.4h0M1294.8 2353h0M1294.9 2358.6h0M1295.1 2364.3h0M1295.1 2369.9h0M1295.1 2375.5h0M1297 2381.1h0M1295.3 2386.8h0M1295.2 2392.4h0M1296.7 2398h0M1295.6 2403.6h0M1295.8 2409.3h0M1295.5 2414.9h0M1295.9 2420.5h0M1295.8 2426.1h0M1293.8 2431.8h0M1295.3 2437.4h0M1295 2443h0M1293.5 2448.6h0M1293.9 2454.3h0M1293.3 2459.9h0M1293.5 2465.5h0M1292 2471.2h0M1291.5 2476.8h0M1292.8 2482.4h0M1290.8 2488h0M1290.7 2493.7h0M1291.3 2499.3h0M1290.5 2504.9h0M1290.4 2510.5h0M1289.2 2516.2h0M1290.5 2521.8h0M1290.5 2527.4h0M1288.8 2533h0M1290.5 2538.7h0M1290.3 2544.3h0M1289.6 2549.9h0M1290 2555.5h0M1290 2561.2h0M1291.3 2566.8h0M1289.9 2572.4h0M1290.2 2578h0M1291.9 2583.7h0M1290.6 2589.6h0M1291.3 2595.5h0M1291.9 2601.4h0M1292.4 2607.3h0M1292.8 2613.2h0M1289.6 2619.5h0M1289.4 2625.9h0M1290.5 2632.2h0M1290.4 2638.5h0M1293.3 2644.9h0M1294.3 2651.2h0M1294.7 2657.5h0M1294.7 2663.8h0M1295.2 2670.2h0M1297 2676.5h0M1295.9 2683.9h0M1297.2 2691.3h0" fill="none" stroke="#dc143c" stroke-opacity="0.93" stroke-width="16.2" stroke-linecap="round"/><line x1="1267.9" y1="2827.4" x2="1267.9" y2="2102.4" stroke="#808080" stroke-opacity="0.7" stroke-width="8.33" stroke-dasharray="30.83 13.33"/><polyline points="1260.4,2117 1260.4,2141.1 1261.3,2165.1 1265.5,2189.2 1268.9,2209 1273.1,2225.9 1276.9,2241.1 1280.7,2258.8 1284.9,2282.8 1288.7,2315.3 1290.8,2348.2 1292.1,2381.1 1292.9,2414.5 1294.2,2447.4 1296.3,2480.3 1298,2513.2 1299.2,2546.1 1300.9,2579.5 1303,2612.4 1304.7,2645.3 1305.6,2678.2 1306.8,2705.6" fill="none" stroke="#4682b4" stroke-opacity="0.7" stroke-width="8.33" stroke-linejoin="round"/><path d="M1254.4 2111h12.1v12.1h-12.1zM1254.4 2135h12.1v12.1h-12.1zM1255.2 2159.1h12.1v12.1h-12.1zM1259.4 2183.1h12.1v12.1h-12.1zM1262.8 2202.9h12.1v12.1h-12.1zM1267 2219.8h12.1v12.1h-12.1zM1270.8 2235h12.1v12.1h-12.1zM1274.6 2252.7h12.1v12.1h-12.1zM1278.8 2276.8h12.1v12.1h-12.1zM1282.6 2309.3h12.1v12.1h-12.1zM1284.8 2342.2h12.1v12.1h-12.1zM1286 2375.1h12.1v12.1h-12.1zM1286.9 2408.4h12.1v12.1h-12.1zM1288.1 2441.3h12.1v12.1h-12.1zM1290.2 2474.2h12.1v12.1h-12.1zM1291.9 2507.2h12.1v12.1h-12.1zM1293.2 2540.1h12.1v12.1h-12.1zM1294.9 2573.4h12.1v12.1h-12.1zM1297 2606.3h12.1v12.1h-12.1zM1298.7 2639.2h12.1v12.1h-12.1zM1299.5 2672.1h12.1v12.1h-12.1zM1300.8 2699.6h12.1v12.1h-12.1z" fill="#4682b4" fill-opacity="0.7" stroke="#4682b4" stroke-opacity="0.7" stroke-width="3.9"/></g>
<text x="1646.6" y="2806.9" font-size="29.2" text-anchor="end" fill="#666">Obs: 2022-11-24</text>
<rect x="967.6" y="2102.4" width="692" height="725" fill="none" stroke="#000" stroke-width="3.33"/>
<path d="M967.6 2827.4v16.2M1198.3 2827.4v16.2M1428.9 2827.4v16.2M1659.6 2827.4v16.2M967.6 2102.4h-16.2M967.6 2168.3h-16.2M967.6 2234.2h-16.2M967.6 2300.1h-16.2M967.6 2366h-16.2M967.6 2431.9h-16.2M967.6 2497.9h-16.2M967.6 2563.8h-16.2M967.6 2629.7h-16.2M967.6 2695.6h-16.2M967.6 2761.5h-16.2M967.6 2827.4h-16.2" stroke="#000" stroke-width="3.33" fill="none"/>
<text x="1313.6" y="2076.8" font-size="41.7" text-anchor="middle" font-weight="bold">SF11</text>
<text x="965.1" y="2915.1" font-size="41.67" text-anchor="middle" transform="rotate(-30 965.1 2899.9)">1024</text>
<text x="1195.8" y="2915.1" font-size="41.67" text-anchor="middle" transform="rotate(-30 1195.8 2899.9)">1025</text>
<text x="1426.4" y="2915.1" font-size="41.67" text-anchor="middle" transform="rotate(-30 1426.4 2899.9)">1026</text>
<text x="1657.1" y="2915.1" font-size="41.67" text-anchor="middle" transform="rotate(-30 1657.1 2899.9)">1027</text>
<text x="1312.6" y="2991.5" font-size="37.5" text-anchor="middle">Density (kg/m³)</text>
<g clip-path="url(#pc12)"><path d="M1959.5 2102.4V2827.4M2190.1 2102.4V2827.4M1728.8 2168.3H2420.8M1728.8 2234.2H2420.8M1728.8 2300.1H2420.8M1728.8 2366H2420.8M1728.8 2431.9H2420.8M1728.8 2497.9H2420.8M1728.8 2563.8H2420.8M1728.8 2629.7H2420.8M1728.8 2695.6H2420.8M1728.8 2761.5H2420.8" stroke="#b0b0b0" stroke-opacity="0.3" stroke-width="3" fill="none"/><polyline points="2031.9,2126 2032.1,2138.7 2031.9,2154.3 2031.5,2167.9 2030.5,2183.5 2029.6,2195.2 2028.6,2206.9" fill="none" stroke="#dc143c" stroke-opacity="0.7" stroke-width="8.33" stroke-linejoin="round"/><path d="M2031.7 2126h0M2031.8 2132.4h0M2032.2 2138.7h0M2032 2143.9h0M2032 2149.1h0M2031.6 2154.3h0M2031.9 2161.1h0M2031.7 2167.9h0M2030.8 2173.1h0M2031 2178.3h0M2030.6 2183.5h0M2030 2189.4h0M2029.5 2195.2h0M2029 2201h0M2028.9 2206.9h0" fill="none" stroke="#dc143c" stroke-opacity="0.93" stroke-width="16.2" stroke-linecap="round"/><line x1="2029.1" y1="2827.4" x2="2029.1" y2="2102.4" stroke="#808080" stroke-opacity="0.7" stroke-width="8.33" stroke-dasharray="30.83 13.33"/><polyline points="2019.8,2117.9 2019.8,2144 2019.8,2169.9 2019.8,2196.8" fill="none" stroke="#4682b4" stroke-opacity="0.7" stroke-width="8.33" stroke-linejoin="round"/><path d="M2013.8 2111.8h12.1v12.1h-12.1zM2013.8 2137.9h12.1v12.1h-12.1zM2013.8 2163.8h12.1v12.1h-12.1zM2013.8 2190.7h12.1v12.1h-12.1z" fill="#4682b4" fill-opacity="0.7" stroke="#4682b4" stroke-opacity="0.7" stroke-width="3.9"/></g>
<text x="2407.8" y="2806.9" font-size="29.2" text-anchor="end" fill="#666">Obs: 2022-11-10</text>
<rect x="1728.8" y="2102.4" width="692" height="725" fill="none" stroke="#000" stroke-width="3.33"/>
<path d="M1728.8 2827.4v16.2M1959.5 2827.4v16.2M2190.1 2827.4v16.2M2420.8 2827.4v16.2M1728.8 2102.4h-16.2M1728.8 2168.3h-16.2M1728.8 2234.2h-16.2M1728.8 2300.1h-16.2M1728.8 2366h-16.2M1728.8 2431.9h-16.2M1728.8 2497.9h-16.2M1728.8 2563.8h-16.2M1728.8 2629.7h-16.2M1728.8 2695.6h-16.2M1728.8 2761.5h-16.2M1728.8 2827.4h-16.2" stroke="#000" stroke-width="3.33" fill="none"/>
<text x="2074.8" y="2076.8" font-size="41.7" text-anchor="middle" font-weight="bold">6142983</text>
<text x="1726.3" y="2915.1" font-size="41.67" text-anchor="middle" transform="rotate(-30 1726.3 2899.9)">1024</text>
<text x="1957" y="2915.1" font-size="41.67" text-anchor="middle" transform="rotate(-30 1957 2899.9)">1025</text>
<text x="2187.6" y="2915.1" font-size="41.67" text-anchor="middle" transform="rotate(-30 2187.6 2899.9)">1026</text>
<text x="2418.3" y="2915.1" font-size="41.67" text-anchor="middle" transform="rotate(-30 2418.3 2899.9)">1027</text>
<text x="2073.8" y="2991.5" font-size="37.5" text-anchor="middle">Density (kg/m³)</text>
<g clip-path="url(#pc13)"><path d="M2720.8 2102.4V2827.4M2951.4 2102.4V2827.4M2490.1 2168.3H3182.1M2490.1 2234.2H3182.1M2490.1 2300.1H3182.1M2490.1 2366H3182.1M2490.1 2431.9H3182.1M2490.1 2497.9H3182.1M2490.1 2563.8H3182.1M2490.1 2629.7H3182.1M2490.1 2695.6H3182.1M2490.1 2761.5H3182.1" stroke="#b0b0b0" stroke-opacity="0.3" stroke-width="3" fill="none"/><polyline points="2809.6,2109.5 2809,2117.3 2808.5,2125.1 2808.1,2132.9 2807.7,2140.7 2807.1,2148.4 2808.1,2154.3 2808.5,2160.1 2808.1,2173.8 2807.1,2181.6 2807.7,2187.4 2808.5,2194.2 2809,2201 2809,2214.7 2811,2224.4 2807.1,2230.3 2805.1,2236.1 2812.9,2241 2812,2245.9 2811,2253.6 2812,2259.5 2812.3,2265.3 2812.9,2275.1 2812,2282.9 2811,2292.6 2812,2304.3 2810.4,2312.1 2810,2317.9 2810,2331.6 2809.6,2347.2 2809.2,2358.8" fill="none" stroke="#dc143c" stroke-opacity="0.7" stroke-width="8.33" stroke-linejoin="round"/><path d="M2809.2 2109.5h0M2808.6 2117.3h0M2807.9 2125.1h0M2810.5 2132.9h0M2805.7 2140.7h0M2806.2 2148.4h0M2810.6 2154.3h0M2807.1 2160.1h0M2808 2167h0M2807.9 2173.8h0M2807.9 2181.6h0M2808.2 2187.4h0M2805.8 2194.2h0M2811.2 2201h0M2809.8 2207.9h0M2806.8 2214.7h0M2811.1 2219.6h0M2811.1 2224.4h0M2807.8 2230.3h0M2803.9 2236.1h0M2808.5 2238.5h0M2815.7 2241h0M2809.8 2245.9h0M2810.4 2253.6h0M2813.8 2259.5h0M2811.6 2265.3h0M2812.7 2270.2h0M2811.8 2275.1h0M2813.6 2282.9h0M2811.9 2287.7h0M2808.2 2292.6h0M2813.7 2298.5h0M2812.3 2304.3h0M2809.1 2312.1h0M2810.3 2317.9h0M2809.9 2324.8h0M2811.6 2331.6h0M2807.9 2336.8h0M2809.4 2342h0M2812.3 2347.2h0M2807.3 2353h0M2809 2358.8h0" fill="none" stroke="#dc143c" stroke-opacity="0.93" stroke-width="16.2" stroke-linecap="round"/><line x1="2790.4" y1="2827.4" x2="2790.4" y2="2102.4" stroke="#808080" stroke-opacity="0.7" stroke-width="8.33" stroke-dasharray="30.83 13.33"/><polyline points="2765,2116.9 2765,2141 2766,2165 2767.9,2188.8 2770.9,2208.8 2774,2225.8 2776.9,2241.6 2780,2258.9 2786.2,2282.5 2790.9,2316 2790.9,2341.9" fill="none" stroke="#4682b4" stroke-opacity="0.7" stroke-width="8.33" stroke-linejoin="round"/><path d="M2759 2110.8h12.1v12.1h-12.1zM2759 2135h12.1v12.1h-12.1zM2759.9 2159h12.1v12.1h-12.1zM2761.9 2182.7h12.1v12.1h-12.1zM2764.8 2202.8h12.1v12.1h-12.1zM2767.9 2219.7h12.1v12.1h-12.1zM2770.8 2235.5h12.1v12.1h-12.1zM2774 2252.9h12.1v12.1h-12.1zM2780.2 2276.4h12.1v12.1h-12.1zM2784.9 2309.9h12.1v12.1h-12.1zM2784.9 2335.8h12.1v12.1h-12.1z" fill="#4682b4" fill-opacity="0.7" stroke="#4682b4" stroke-opacity="0.7" stroke-width="3.9"/></g>
<text x="3169.1" y="2806.9" font-size="29.2" text-anchor="end" fill="#666">Obs: 2022-11-24</text>
<rect x="2490.1" y="2102.4" width="692" height="725" fill="none" stroke="#000" stroke-width="3.33"/>
<path d="M2490.1 2827.4v16.2M2720.8 2827.4v16.2M2951.4 2827.4v16.2M3182.1 2827.4v16.2M2490.1 2102.4h-16.2M2490.1 2168.3h-16.2M2490.1 2234.2h-16.2M2490.1 2300.1h-16.2M2490.1 2366h-16.2M2490.1 2431.9h-16.2M2490.1 2497.9h-16.2M2490.1 2563.8h-16.2M2490.1 2629.7h-16.2M2490.1 2695.6h-16.2M2490.1 2761.5h-16.2M2490.1 2827.4h-16.2" stroke="#000" stroke-width="3.33" fill="none"/>
<text x="2836.1" y="2076.8" font-size="41.7" text-anchor="middle" font-weight="bold">SC</text>
<text x="2487.6" y="2915.1" font-size="41.67" text-anchor="middle" transform="rotate(-30 2487.6 2899.9)">1024</text>
<text x="2718.3" y="2915.1" font-size="41.67" text-anchor="middle" transform="rotate(-30 2718.3 2899.9)">1025</text>
<text x="2948.9" y="2915.1" font-size="41.67" text-anchor="middle" transform="rotate(-30 2948.9 2899.9)">1026</text>
<text x="3179.6" y="2915.1" font-size="41.67" text-anchor="middle" transform="rotate(-30 3179.6 2899.9)">1027</text>
<text x="2835.1" y="2991.5" font-size="37.5" text-anchor="middle">Density (kg/m³)</text>
<g clip-path="url(#pc14)"><path d="M3482.1 2102.4V2827.4M3712.7 2102.4V2827.4M3251.4 2168.3H3943.4M3251.4 2234.2H3943.4M3251.4 2300.1H3943.4M3251.4 2366H3943.4M3251.4 2431.9H3943.4M3251.4 2497.9H3943.4M3251.4 2563.8H3943.4M3251.4 2629.7H3943.4M3251.4 2695.6H3943.4M3251.4 2761.5H3943.4" stroke="#b0b0b0" stroke-opacity="0.3" stroke-width="3" fill="none"/><polyline points="3564.6,2145.5 3563.8,2156.2 3564.2,2162.1 3565.1,2167.9 3565.5,2174.7 3565.1,2181.6 3566.5,2191.3 3565.7,2197.1 3565.1,2203 3564.6,2209.8 3564.2,2216.6 3565.7,2224.4 3567.1,2230.3 3570,2241 3564.2,2245.9 3567.1,2251.7 3568.5,2257.5 3568.5,2273.1 3567.7,2280.9 3567.1,2288.7 3566.1,2304.3 3566.1,2319.9 3565.7,2335.5 3565.3,2351.1" fill="none" stroke="#dc143c" stroke-opacity="0.7" stroke-width="8.33" stroke-linejoin="round"/><path d="M3564.7 2145.5h0M3562 2150.9h0M3565.8 2156.2h0M3564.3 2162.1h0M3563.5 2167.9h0M3566.4 2174.7h0M3565.1 2181.6h0M3566.5 2186.4h0M3565.2 2191.3h0M3565.7 2197.1h0M3567.3 2203h0M3562.5 2209.8h0M3564.1 2216.6h0M3567 2224.4h0M3566.6 2230.3h0M3568.5 2235.6h0M3569 2241h0M3565.8 2245.9h0M3567 2251.7h0M3566.3 2257.5h0M3570.5 2262.7h0M3568.4 2267.9h0M3567.6 2273.1h0M3567.8 2280.9h0M3567.1 2288.7h0M3568.1 2293.9h0M3564.5 2299.1h0M3566.3 2304.3h0M3568.1 2309.5h0M3564.2 2314.7h0M3566.2 2319.9h0M3566.5 2325.1h0M3566.2 2330.3h0M3565.6 2335.5h0M3564 2340.7h0M3567.6 2345.9h0M3565 2351.1h0" fill="none" stroke="#dc143c" stroke-opacity="0.93" stroke-width="16.2" stroke-linecap="round"/><line x1="3551.7" y1="2827.4" x2="3551.7" y2="2102.4" stroke="#808080" stroke-opacity="0.7" stroke-width="8.33" stroke-dasharray="30.83 13.33"/><polyline points="3527.9,2116.9 3527.9,2141 3528.9,2165 3529.9,2188.8 3530.9,2208.8 3532,2225.8 3533,2241.6 3534.9,2258.9 3537.9,2282.5 3538.8,2313.1" fill="none" stroke="#4682b4" stroke-opacity="0.7" stroke-width="8.33" stroke-linejoin="round"/><path d="M3521.9 2110.8h12.1v12.1h-12.1zM3521.9 2135h12.1v12.1h-12.1zM3522.9 2159h12.1v12.1h-12.1zM3523.8 2182.7h12.1v12.1h-12.1zM3524.8 2202.8h12.1v12.1h-12.1zM3526 2219.7h12.1v12.1h-12.1zM3526.9 2235.5h12.1v12.1h-12.1zM3528.9 2252.9h12.1v12.1h-12.1zM3531.8 2276.4h12.1v12.1h-12.1zM3532.8 2307h12.1v12.1h-12.1z" fill="#4682b4" fill-opacity="0.7" stroke="#4682b4" stroke-opacity="0.7" stroke-width="3.9"/></g>
<text x="3930.4" y="2806.9" font-size="29.2" text-anchor="end" fill="#666">Obs: 2022-11-24</text>
<rect x="3251.4" y="2102.4" width="692" height="725" fill="none" stroke="#000" stroke-width="3.33"/>
<path d="M3251.4 2827.4v16.2M3482.1 2827.4v16.2M3712.7 2827.4v16.2M3943.4 2827.4v16.2M3251.4 2102.4h-16.2M3251.4 2168.3h-16.2M3251.4 2234.2h-16.2M3251.4 2300.1h-16.2M3251.4 2366h-16.2M3251.4 2431.9h-16.2M3251.4 2497.9h-16.2M3251.4 2563.8h-16.2M3251.4 2629.7h-16.2M3251.4 2695.6h-16.2M3251.4 2761.5h-16.2M3251.4 2827.4h-16.2" stroke="#000" stroke-width="3.33" fill="none"/>
<text x="3597.4" y="2076.8" font-size="41.7" text-anchor="middle" font-weight="bold">SC2</text>
<text x="3248.9" y="2915.1" font-size="41.67" text-anchor="middle" transform="rotate(-30 3248.9 2899.9)">1024</text>
<text x="3479.6" y="2915.1" font-size="41.67" text-anchor="middle" transform="rotate(-30 3479.6 2899.9)">1025</text>
<text x="3710.2" y="2915.1" font-size="41.67" text-anchor="middle" transform="rotate(-30 3710.2 2899.9)">1026</text>
<text x="3940.9" y="2915.1" font-size="41.67" text-anchor="middle" transform="rotate(-30 3940.9 2899.9)">1027</text>
<text x="3596.4" y="2991.5" font-size="37.5" text-anchor="middle">Density (kg/m³)</text>
<g clip-path="url(#mc)"><g filter="url(#b12)"><path d="M4073.3 1164.4h40.5v20.5h-40.5zM4073.3 1184.4h40.5v20.5h-40.5zM4073.3 1204.4h40.5v20.5h-40.5zM4073.3 1224.4h40.5v20.5h-40.5zM4093.3 1244.4h20.5v20.5h-20.5zM4093.3 1264.4h20.5v20.5h-20.5zM4093.3 1284.4h20.5v20.5h-20.5zM4093.3 1304.4h40.5v20.5h-40.5zM4113.3 1324.4h20.5v20.5h-20.5zM4113.3 1344.4h20.5v20.5h-20.5zM4113.3 1364.4h20.5v20.5h-20.5zM4113.3 1384.4h20.5v20.5h-20.5zM4113.3 1404.4h20.5v20.5h-20.5zM4113.3 1424.4h20.5v20.5h-20.5zM4133.3 1444.4h20.5v20.5h-20.5zM4133.3 1464.4h20.5v20.5h-20.5zM4133.3 1484.4h20.5v20.5h-20.5zM4133.3 1504.4h20.5v20.5h-20.5zM4133.3 1524.4h20.5v20.5h-20.5zM4133.3 1544.4h20.5v20.5h-20.5zM4133.3 1564.4h20.5v20.5h-20.5zM4133.3 1584.4h20.5v20.5h-20.5zM4133.3 1604.4h20.5v20.5h-20.5zM4113.3 1644.4h20.5v20.5h-20.5zM4093.3 1664.4h20.5v20.5h-20.5zM4073.3 1684.4h40.5v20.5h-40.5zM4073.3 1704.4h20.5v20.5h-20.5zM4553.3 1904.4h60.5v20.5h-60.5zM4533.3 1924.4h40.5v20.5h-40.5zM4493.3 1944.4h40.5v20.5h-40.5zM4473.3 1964.4h40.5v20.5h-40.5zM4473.3 1984.4h20.5v20.5h-20.5zM4453.3 2004.4h20.5v20.5h-20.5zM4453.3 2024.4h20.5v20.5h-20.5zM4453.3 2044.4h20.5v20.5h-20.5zM4453.3 2064.4h20.5v20.5h-20.5zM4453.3 2084.4h20.5v20.5h-20.5zM4453.3 2104.4h20.5v20.5h-20.5zM4433.3 2124.4h40.5v20.5h-40.5zM4433.3 2144.4h40.5v20.5h-40.5zM4433.3 2164.4h20.5v20.5h-20.5zM4433.3 2184.4h20.5v20.5h-20.5zM4413.3 2204.4h40.5v20.5h-40.5zM4413.3 2224.4h20.5v20.5h-20.5zM4393.3 2244.4h20.5v20.5h-20.5zM4373.3 2264.4h20.5v20.5h-20.5zM4353.3 2284.4h40.5v20.5h-40.5zM4333.3 2304.4h40.5v20.5h-40.5zM4333.3 2324.4h20.5v20.5h-20.5zM4313.3 2344.4h20.5v20.5h-20.5zM4313.3 2364.4h20.5v20.5h-20.5zM4293.3 2384.4h20.5v20.5h-20.5zM4293.3 2404.4h20.5v20.5h-20.5zM4273.3 2424.4h20.5v20.5h-20.5zM4273.3 2444.4h20.5v20.5h-20.5zM4273.3 2464.4h20.5v20.5h-20.5zM4273.3 2484.4h20.5v20.5h-20.5zM4273.3 2504.4h20.5v20.5h-20.5zM4273.3 2604.4h20.5v20.5h-20.5zM4073.3 2644.4h20.5v20.5h-20.5zM4293.3 2644.4h20.5v20.5h-20.5zM4573.3 2644.4h40.5v20.5h-40.5zM4073.3 2664.4h40.5v20.5h-40.5zM4313.3 2664.4h20.5v20.5h-20.5zM4513.3 2664.4h40.5v20.5h-40.5zM4073.3 2684.4h40.5v20.5h-40.5zM4333.3 2684.4h160.5v20.5h-160.5zM4093.3 2704.4h20.5v20.5h-20.5zM4093.3 2724.4h20.5v20.5h-20.5zM4113.3 2744.4h20.5v20.5h-20.5zM4113.3 2764.4h20.5v20.5h-20.5zM4113.3 2784.4h20.5v20.5h-20.5zM4113.3 2804.4h20.5v20.5h-20.5zM4113.3 2824.4h20.5v20.5h-20.5zM4113.3 2844.4h20.5v20.5h-20.5z" fill="#3affbd"/><path d="M4113.3 1164.4h20.5v20.5h-20.5zM4113.3 1184.4h20.5v20.5h-20.5zM4113.3 1204.4h20.5v20.5h-20.5zM4113.3 1224.4h20.5v20.5h-20.5zM4113.3 1244.4h20.5v20.5h-20.5zM4113.3 1264.4h20.5v20.5h-20.5zM4113.3 1284.4h40.5v20.5h-40.5zM4133.3 1304.4h20.5v20.5h-20.5zM4133.3 1324.4h20.5v20.5h-20.5zM4133.3 1344.4h20.5v20.5h-20.5zM4133.3 1364.4h20.5v20.5h-20.5zM4133.3 1384.4h20.5v20.5h-20.5zM4133.3 1404.4h20.5v20.5h-20.5zM4133.3 1424.4h20.5v20.5h-20.5zM4153.3 1444.4h20.5v20.5h-20.5zM4153.3 1464.4h20.5v20.5h-20.5zM4153.3 1484.4h20.5v20.5h-20.5zM4153.3 1504.4h20.5v20.5h-20.5zM4153.3 1524.4h20.5v20.5h-20.5zM4153.3 1544.4h20.5v20.5h-20.5zM4153.3 1564.4h20.5v20.5h-20.5zM4153.3 1584.4h20.5v20.5h-20.5zM4153.3 1604.4h20.5v20.5h-20.5zM4133.3 1624.4h20.5v20.5h-20.5zM4133.3 1644.4h20.5v20.5h-20.5zM4113.3 1664.4h40.5v20.5h-40.5zM4113.3 1684.4h20.5v20.5h-20.5zM4093.3 1704.4h20.5v20.5h-20.5zM4073.3 1724.4h40.5v20.5h-40.5zM4533.3 1884.4h40.5v20.5h-40.5zM4593.3 1884.4h20.5v20.5h-20.5zM4513.3 1904.4h40.5v20.5h-40.5zM4493.3 1924.4h40.5v20.5h-40.5zM4473.3 1944.4h20.5v20.5h-20.5zM4453.3 1964.4h20.5v20.5h-20.5zM4453.3 1984.4h20.5v20.5h-20.5zM4433.3 2004.4h20.5v20.5h-20.5zM4433.3 2024.4h20.5v20.5h-20.5zM4433.3 2044.4h20.5v20.5h-20.5zM4433.3 2064.4h20.5v20.5h-20.5zM4433.3 2084.4h20.5v20.5h-20.5zM4433.3 2104.4h20.5v20.5h-20.5zM4413.3 2124.4h20.5v20.5h-20.5zM4413.3 2144.4h20.5v20.5h-20.5zM4413.3 2164.4h20.5v20.5h-20.5zM4413.3 2184.4h20.5v20.5h-20.5zM4393.3 2204.4h20.5v20.5h-20.5zM4373.3 2224.4h40.5v20.5h-40.5zM4373.3 2244.4h20.5v20.5h-20.5zM4353.3 2264.4h20.5v20.5h-20.5zM4333.3 2284.4h20.5v20.5h-20.5zM4313.3 2304.4h20.5v20.5h-20.5zM4313.3 2324.4h20.5v20.5h-20.5zM4293.3 2344.4h20.5v20.5h-20.5zM4293.3 2364.4h20.5v20.5h-20.5zM4273.3 2384.4h20.5v20.5h-20.5zM4273.3 2404.4h20.5v20.5h-20.5zM4073.3 2504.4h20.5v20.5h-20.5zM4073.3 2524.4h20.5v20.5h-20.5zM4073.3 2544.4h20.5v20.5h-20.5zM4073.3 2564.4h20.5v20.5h-20.5zM4253.3 2564.4h20.5v20.5h-20.5zM4073.3 2584.4h40.5v20.5h-40.5zM4253.3 2584.4h20.5v20.5h-20.5zM4073.3 2604.4h40.5v20.5h-40.5zM4073.3 2624.4h40.5v20.5h-40.5zM4273.3 2624.4h20.5v20.5h-20.5zM4093.3 2644.4h20.5v20.5h-20.5zM4113.3 2664.4h20.5v20.5h-20.5zM4553.3 2664.4h40.5v20.5h-40.5zM4113.3 2684.4h20.5v20.5h-20.5zM4493.3 2684.4h40.5v20.5h-40.5zM4113.3 2704.4h20.5v20.5h-20.5zM4113.3 2724.4h20.5v20.5h-20.5zM4133.3 2744.4h20.5v20.5h-20.5zM4133.3 2764.4h20.5v20.5h-20.5zM4133.3 2784.4h20.5v20.5h-20.5zM4133.3 2804.4h20.5v20.5h-20.5zM4133.3 2824.4h20.5v20.5h-20.5zM4133.3 2844.4h20.5v20.5h-20.5z" fill="#35ffc1"/><path d="M4133.3 1164.4h20.5v20.5h-20.5zM4133.3 1184.4h20.5v20.5h-20.5zM4133.3 1204.4h20.5v20.5h-20.5zM4133.3 1224.4h20.5v20.5h-20.5zM4133.3 1244.4h20.5v20.5h-20.5zM4133.3 1264.4h20.5v20.5h-20.5zM4153.3 1284.4h20.5v20.5h-20.5zM4153.3 1304.4h20.5v20.5h-20.5zM4153.3 1324.4h20.5v20.5h-20.5zM4153.3 1344.4h20.5v20.5h-20.5zM4153.3 1364.4h20.5v20.5h-20.5zM4153.3 1384.4h20.5v20.5h-20.5zM4153.3 1404.4h20.5v20.5h-20.5zM4153.3 1424.4h20.5v20.5h-20.5zM4173.3 1444.4h20.5v20.5h-20.5zM4173.3 1464.4h20.5v20.5h-20.5zM4173.3 1484.4h20.5v20.5h-20.5zM4173.3 1504.4h20.5v20.5h-20.5zM4173.3 1524.4h20.5v20.5h-20.5zM4173.3 1544.4h20.5v20.5h-20.5zM4173.3 1564.4h20.5v20.5h-20.5zM4173.3 1584.4h20.5v20.5h-20.5zM4173.3 1604.4h20.5v20.5h-20.5zM4153.3 1624.4h20.5v20.5h-20.5zM4153.3 1644.4h20.5v20.5h-20.5zM4153.3 1664.4h20.5v20.5h-20.5zM4133.3 1684.4h20.5v20.5h-20.5zM4113.3 1704.4h40.5v20.5h-40.5zM4113.3 1724.4h20.5v20.5h-20.5zM4073.3 1744.4h40.5v20.5h-40.5zM4073.3 1764.4h20.5v20.5h-20.5zM4533.3 1864.4h40.5v20.5h-40.5zM4493.3 1884.4h40.5v20.5h-40.5zM4573.3 1884.4h20.5v20.5h-20.5zM4473.3 1904.4h40.5v20.5h-40.5zM4453.3 1924.4h40.5v20.5h-40.5zM4453.3 1944.4h20.5v20.5h-20.5zM4433.3 1964.4h20.5v20.5h-20.5zM4433.3 1984.4h20.5v20.5h-20.5zM4413.3 2004.4h20.5v20.5h-20.5zM4413.3 2024.4h20.5v20.5h-20.5zM4413.3 2044.4h20.5v20.5h-20.5zM4413.3 2064.4h20.5v20.5h-20.5zM4413.3 2084.4h20.5v20.5h-20.5zM4393.3 2104.4h40.5v20.5h-40.5zM4393.3 2124.4h20.5v20.5h-20.5zM4073.3 2144.4h20.5v20.5h-20.5zM4393.3 2144.4h20.5v20.5h-20.5zM4073.3 2164.4h20.5v20.5h-20.5zM4393.3 2164.4h20.5v20.5h-20.5zM4073.3 2184.4h20.5v20.5h-20.5zM4373.3 2184.4h40.5v20.5h-40.5zM4073.3 2204.4h20.5v20.5h-20.5zM4373.3 2204.4h20.5v20.5h-20.5zM4073.3 2224.4h20.5v20.5h-20.5zM4353.3 2224.4h20.5v20.5h-20.5zM4073.3 2244.4h40.5v20.5h-40.5zM4333.3 2244.4h40.5v20.5h-40.5zM4073.3 2264.4h40.5v20.5h-40.5zM4333.3 2264.4h20.5v20.5h-20.5zM4073.3 2284.4h40.5v20.5h-40.5zM4313.3 2284.4h20.5v20.5h-20.5zM4073.3 2304.4h40.5v20.5h-40.5zM4293.3 2304.4h20.5v20.5h-20.5zM4073.3 2324.4h40.5v20.5h-40.5zM4293.3 2324.4h20.5v20.5h-20.5zM4073.3 2344.4h40.5v20.5h-40.5zM4273.3 2344.4h20.5v20.5h-20.5zM4073.3 2364.4h40.5v20.5h-40.5zM4273.3 2364.4h20.5v20.5h-20.5zM4073.3 2384.4h40.5v20.5h-40.5zM4073.3 2404.4h60.5v20.5h-60.5zM4253.3 2404.4h20.5v20.5h-20.5zM4073.3 2424.4h60.5v20.5h-60.5zM4253.3 2424.4h20.5v20.5h-20.5zM4073.3 2444.4h60.5v20.5h-60.5zM4253.3 2444.4h20.5v20.5h-20.5zM4073.3 2464.4h60.5v20.5h-60.5zM4253.3 2464.4h20.5v20.5h-20.5zM4073.3 2484.4h60.5v20.5h-60.5zM4093.3 2504.4h40.5v20.5h-40.5zM4093.3 2524.4h40.5v20.5h-40.5zM4093.3 2544.4h40.5v20.5h-40.5zM4253.3 2544.4h20.5v20.5h-20.5zM4093.3 2564.4h40.5v20.5h-40.5zM4113.3 2584.4h20.5v20.5h-20.5zM4113.3 2604.4h20.5v20.5h-20.5zM4253.3 2604.4h20.5v20.5h-20.5zM4113.3 2624.4h20.5v20.5h-20.5zM4253.3 2624.4h20.5v20.5h-20.5zM4113.3 2644.4h40.5v20.5h-40.5zM4273.3 2644.4h20.5v20.5h-20.5zM4133.3 2664.4h20.5v20.5h-20.5zM4593.3 2664.4h20.5v20.5h-20.5zM4133.3 2684.4h20.5v20.5h-20.5zM4313.3 2684.4h20.5v20.5h-20.5zM4533.3 2684.4h40.5v20.5h-40.5zM4133.3 2704.4h20.5v20.5h-20.5zM4333.3 2704.4h180.5v20.5h-180.5zM4133.3 2724.4h20.5v20.5h-20.5zM4153.3 2744.4h20.5v20.5h-20.5zM4153.3 2764.4h20.5v20.5h-20.5zM4153.3 2784.4h20.5v20.5h-20.5zM4153.3 2804.4h20.5v20.5h-20.5zM4153.3 2824.4h20.5v20.5h-20.5zM4153.3 2844.4h20.5v20.5h-20.5z" fill="#31ffc5"/><path d="M4153.3 1164.4h20.5v20.5h-20.5zM4153.3 1184.4h20.5v20.5h-20.5zM4153.3 1204.4h20.5v20.5h-20.5zM4153.3 1224.4h20.5v20.5h-20.5zM4153.3 1244.4h20.5v20.5h-20.5zM4153.3 1264.4h40.5v20.5h-40.5zM4173.3 1284.4h20.5v20.5h-20.5zM4173.3 1304.4h20.5v20.5h-20.5zM4173.3 1324.4h20.5v20.5h-20.5zM4173.3 1344.4h20.5v20.5h-20.5zM4173.3 1364.4h20.5v20.5h-20.5zM4173.3 1384.4h20.5v20.5h-20.5zM4173.3 1404.4h20.5v20.5h-20.5zM4173.3 1424.4h20.5v20.5h-20.5zM4193.3 1444.4h20.5v20.5h-20.5zM4193.3 1464.4h20.5v20.5h-20.5zM4193.3 1484.4h20.5v20.5h-20.5zM4193.3 1504.4h20.5v20.5h-20.5zM4193.3 1524.4h20.5v20.5h-20.5zM4193.3 1544.4h20.5v20.5h-20.5zM4193.3 1564.4h20.5v20.5h-20.5zM4193.3 1584.4h20.5v20.5h-20.5zM4173.3 1624.4h20.5v20.5h-20.5zM4173.3 1644.4h20.5v20.5h-20.5zM4173.3 1664.4h20.5v20.5h-20.5zM4153.3 1684.4h20.5v20.5h-20.5zM4153.3 1704.4h20.5v20.5h-20.5zM4133.3 1724.4h20.5v20.5h-20.5zM4113.3 1744.4h40.5v20.5h-40.5zM4093.3 1764.4h40.5v20.5h-40.5zM4073.3 1784.4h20.5v20.5h-20.5zM4513.3 1844.4h60.5v20.5h-60.5zM4493.3 1864.4h40.5v20.5h-40.5zM4573.3 1864.4h40.5v20.5h-40.5zM4473.3 1884.4h20.5v20.5h-20.5zM4453.3 1904.4h20.5v20.5h-20.5zM4433.3 1924.4h20.5v20.5h-20.5zM4433.3 1944.4h20.5v20.5h-20.5zM4413.3 1964.4h20.5v20.5h-20.5zM4413.3 1984.4h20.5v20.5h-20.5zM4393.3 2004.4h20.5v20.5h-20.5zM4393.3 2024.4h20.5v20.5h-20.5zM4073.3 2044.4h20.5v20.5h-20.5zM4393.3 2044.4h20.5v20.5h-20.5zM4073.3 2064.4h20.5v20.5h-20.5zM4393.3 2064.4h20.5v20.5h-20.5zM4073.3 2084.4h20.5v20.5h-20.5zM4393.3 2084.4h20.5v20.5h-20.5zM4073.3 2104.4h40.5v20.5h-40.5zM4373.3 2104.4h20.5v20.5h-20.5zM4073.3 2124.4h40.5v20.5h-40.5zM4373.3 2124.4h20.5v20.5h-20.5zM4093.3 2144.4h20.5v20.5h-20.5zM4373.3 2144.4h20.5v20.5h-20.5zM4093.3 2164.4h20.5v20.5h-20.5zM4353.3 2164.4h40.5v20.5h-40.5zM4093.3 2184.4h20.5v20.5h-20.5zM4353.3 2184.4h20.5v20.5h-20.5zM4093.3 2204.4h20.5v20.5h-20.5zM4333.3 2204.4h40.5v20.5h-40.5zM4093.3 2224.4h20.5v20.5h-20.5zM4333.3 2224.4h20.5v20.5h-20.5zM4113.3 2244.4h20.5v20.5h-20.5zM4313.3 2244.4h20.5v20.5h-20.5zM4113.3 2264.4h20.5v20.5h-20.5zM4313.3 2264.4h20.5v20.5h-20.5zM4113.3 2284.4h20.5v20.5h-20.5zM4293.3 2284.4h20.5v20.5h-20.5zM4113.3 2304.4h20.5v20.5h-20.5zM4273.3 2304.4h20.5v20.5h-20.5zM4113.3 2324.4h20.5v20.5h-20.5zM4273.3 2324.4h20.5v20.5h-20.5zM4113.3 2344.4h40.5v20.5h-40.5zM4253.3 2344.4h20.5v20.5h-20.5zM4113.3 2364.4h40.5v20.5h-40.5zM4113.3 2384.4h60.5v20.5h-60.5zM4253.3 2384.4h20.5v20.5h-20.5zM4133.3 2404.4h60.5v20.5h-60.5zM4233.3 2404.4h20.5v20.5h-20.5zM4133.3 2424.4h40.5v20.5h-40.5zM4233.3 2424.4h20.5v20.5h-20.5zM4133.3 2444.4h40.5v20.5h-40.5zM4233.3 2444.4h20.5v20.5h-20.5zM4133.3 2464.4h40.5v20.5h-40.5zM4133.3 2484.4h20.5v20.5h-20.5zM4133.3 2504.4h20.5v20.5h-20.5zM4133.3 2524.4h20.5v20.5h-20.5zM4133.3 2544.4h20.5v20.5h-20.5zM4133.3 2564.4h20.5v20.5h-20.5zM4133.3 2584.4h20.5v20.5h-20.5zM4233.3 2584.4h20.5v20.5h-20.5zM4133.3 2604.4h20.5v20.5h-20.5zM4133.3 2624.4h40.5v20.5h-40.5zM4153.3 2644.4h20.5v20.5h-20.5zM4253.3 2644.4h20.5v20.5h-20.5zM4153.3 2664.4h20.5v20.5h-20.5zM4293.3 2664.4h20.5v20.5h-20.5zM4153.3 2684.4h20.5v20.5h-20.5zM4573.3 2684.4h40.5v20.5h-40.5zM4153.3 2704.4h20.5v20.5h-20.5zM4513.3 2704.4h40.5v20.5h-40.5zM4153.3 2724.4h20.5v20.5h-20.5zM4173.3 2744.4h20.5v20.5h-20.5zM4173.3 2764.4h20.5v20.5h-20.5zM4173.3 2784.4h20.5v20.5h-20.5zM4173.3 2804.4h20.5v20.5h-20.5zM4173.3 2824.4h20.5v20.5h-20.5zM4173.3 2844.4h20.5v20.5h-20.5z" fill="#2dffca"/><path d="M4173.3 1164.4h20.5v20.5h-20.5zM4173.3 1184.4h20.5v20.5h-20.5zM4173.3 1204.4h20.5v20.5h-20.5zM4173.3 1224.4h20.5v20.5h-20.5zM4173.3 1244.4h40.5v20.5h-40.5zM4193.3 1264.4h20.5v20.5h-20.5zM4193.3 1284.4h20.5v20.5h-20.5zM4193.3 1304.4h20.5v20.5h-20.5zM4193.3 1324.4h20.5v20.5h-20.5zM4193.3 1344.4h20.5v20.5h-20.5zM4193.3 1364.4h20.5v20.5h-20.5zM4193.3 1384.4h20.5v20.5h-20.5zM4193.3 1404.4h20.5v20.5h-20.5zM4193.3 1424.4h40.5v20.5h-40.5zM4213.3 1444.4h20.5v20.5h-20.5zM4213.3 1464.4h20.5v20.5h-20.5zM4213.3 1484.4h20.5v20.5h-20.5zM4213.3 1504.4h20.5v20.5h-20.5zM4213.3 1524.4h20.5v20.5h-20.5zM4213.3 1544.4h20.5v20.5h-20.5zM4193.3 1604.4h20.5v20.5h-20.5zM4193.3 1624.4h20.5v20.5h-20.5zM4193.3 1644.4h20.5v20.5h-20.5zM4173.3 1684.4h20.5v20.5h-20.5zM4173.3 1704.4h20.5v20.5h-20.5zM4153.3 1724.4h20.5v20.5h-20.5zM4153.3 1744.4h20.5v20.5h-20.5zM4133.3 1764.4h20.5v20.5h-20.5zM4093.3 1784.4h40.5v20.5h-40.5zM4073.3 1804.4h20.5v20.5h-20.5zM4513.3 1824.4h60.5v20.5h-60.5zM4473.3 1844.4h40.5v20.5h-40.5zM4573.3 1844.4h40.5v20.5h-40.5zM4453.3 1864.4h40.5v20.5h-40.5zM4433.3 1884.4h40.5v20.5h-40.5zM4413.3 1904.4h40.5v20.5h-40.5zM4073.3 1924.4h20.5v20.5h-20.5zM4413.3 1924.4h20.5v20.5h-20.5zM4073.3 1944.4h20.5v20.5h-20.5zM4393.3 1944.4h40.5v20.5h-40.5zM4073.3 1964.4h20.5v20.5h-20.5zM4393.3 1964.4h20.5v20.5h-20.5zM4073.3 1984.4h20.5v20.5h-20.5zM4393.3 1984.4h20.5v20.5h-20.5zM4073.3 2004.4h40.5v20.5h-40.5zM4073.3 2024.4h40.5v20.5h-40.5zM4373.3 2024.4h20.5v20.5h-20.5zM4093.3 2044.4h20.5v20.5h-20.5zM4373.3 2044.4h20.5v20.5h-20.5zM4093.3 2064.4h20.5v20.5h-20.5zM4373.3 2064.4h20.5v20.5h-20.5zM4093.3 2084.4h20.5v20.5h-20.5zM4373.3 2084.4h20.5v20.5h-20.5zM4353.3 2104.4h20.5v20.5h-20.5zM4113.3 2124.4h20.5v20.5h-20.5zM4353.3 2124.4h20.5v20.5h-20.5zM4113.3 2144.4h20.5v20.5h-20.5zM4353.3 2144.4h20.5v20.5h-20.5zM4113.3 2164.4h20.5v20.5h-20.5zM4333.3 2164.4h20.5v20.5h-20.5zM4113.3 2184.4h20.5v20.5h-20.5zM4333.3 2184.4h20.5v20.5h-20.5zM4113.3 2204.4h20.5v20.5h-20.5zM4313.3 2204.4h20.5v20.5h-20.5zM4113.3 2224.4h20.5v20.5h-20.5zM4313.3 2224.4h20.5v20.5h-20.5zM4133.3 2244.4h20.5v20.5h-20.5zM4293.3 2244.4h20.5v20.5h-20.5zM4133.3 2264.4h20.5v20.5h-20.5zM4293.3 2264.4h20.5v20.5h-20.5zM4133.3 2284.4h20.5v20.5h-20.5zM4273.3 2284.4h20.5v20.5h-20.5zM4133.3 2304.4h40.5v20.5h-40.5zM4253.3 2304.4h20.5v20.5h-20.5zM4133.3 2324.4h40.5v20.5h-40.5zM4253.3 2324.4h20.5v20.5h-20.5zM4153.3 2344.4h40.5v20.5h-40.5zM4153.3 2364.4h40.5v20.5h-40.5zM4253.3 2364.4h20.5v20.5h-20.5zM4173.3 2384.4h40.5v20.5h-40.5zM4193.3 2404.4h40.5v20.5h-40.5zM4173.3 2424.4h60.5v20.5h-60.5zM4173.3 2444.4h40.5v20.5h-40.5zM4173.3 2464.4h20.5v20.5h-20.5zM4153.3 2484.4h20.5v20.5h-20.5zM4253.3 2484.4h20.5v20.5h-20.5zM4153.3 2504.4h20.5v20.5h-20.5zM4153.3 2524.4h20.5v20.5h-20.5zM4153.3 2544.4h20.5v20.5h-20.5zM4153.3 2564.4h40.5v20.5h-40.5zM4233.3 2564.4h20.5v20.5h-20.5zM4153.3 2584.4h20.5v20.5h-20.5zM4153.3 2604.4h40.5v20.5h-40.5zM4233.3 2604.4h20.5v20.5h-20.5zM4173.3 2624.4h20.5v20.5h-20.5zM4233.3 2624.4h20.5v20.5h-20.5zM4173.3 2644.4h20.5v20.5h-20.5zM4233.3 2644.4h20.5v20.5h-20.5zM4173.3 2664.4h20.5v20.5h-20.5zM4173.3 2684.4h20.5v20.5h-20.5zM4173.3 2704.4h20.5v20.5h-20.5zM4553.3 2704.4h40.5v20.5h-40.5zM4173.3 2724.4h20.5v20.5h-20.5zM4453.3 2724.4h60.5v20.5h-60.5zM4193.3 2764.4h20.5v20.5h-20.5zM4193.3 2784.4h20.5v20.5h-20.5zM4193.3 2804.4h20.5v20.5h-20.5zM4193.3 2824.4h20.5v20.5h-20.5zM4193.3 2844.4h20.5v20.5h-20.5z" fill="#29ffce"/><path d="M4193.3 1164.4h20.5v20.5h-20.5zM4193.3 1184.4h20.5v20.5h-20.5zM4193.3 1204.4h20.5v20.5h-20.5zM4193.3 1224.4h20.5v20.5h-20.5zM4213.3 1244.4h20.5v20.5h-20.5zM4213.3 1264.4h20.5v20.5h-20.5zM4213.3 1284.4h20.5v20.5h-20.5zM4213.3 1304.4h20.5v20.5h-20.5zM4213.3 1324.4h20.5v20.5h-20.5zM4213.3 1344.4h20.5v20.5h-20.5zM4213.3 1364.4h20.5v20.5h-20.5zM4213.3 1384.4h20.5v20.5h-20.5zM4213.3 1404.4h20.5v20.5h-20.5zM4233.3 1424.4h20.5v20.5h-20.5zM4233.3 1444.4h20.5v20.5h-20.5zM4233.3 1464.4h20.5v20.5h-20.5zM4233.3 1484.4h20.5v20.5h-20.5zM4233.3 1504.4h20.5v20.5h-20.5zM4233.3 1524.4h20.5v20.5h-20.5zM4233.3 1544.4h20.5v20.5h-20.5zM4213.3 1564.4h20.5v20.5h-20.5zM4213.3 1584.4h20.5v20.5h-20.5zM4213.3 1604.4h20.5v20.5h-20.5zM4193.3 1664.4h20.5v20.5h-20.5zM4193.3 1684.4h20.5v20.5h-20.5zM4193.3 1704.4h20.5v20.5h-20.5zM4173.3 1724.4h40.5v20.5h-40.5zM4173.3 1744.4h20.5v20.5h-20.5zM4153.3 1764.4h40.5v20.5h-40.5zM4133.3 1784.4h40.5v20.5h-40.5zM4093.3 1804.4h20.5v20.5h-20.5zM4513.3 1804.4h60.5v20.5h-60.5zM4453.3 1824.4h60.5v20.5h-60.5zM4573.3 1824.4h40.5v20.5h-40.5zM4433.3 1844.4h40.5v20.5h-40.5zM4413.3 1864.4h40.5v20.5h-40.5zM4413.3 1884.4h20.5v20.5h-20.5zM4073.3 1904.4h20.5v20.5h-20.5zM4393.3 1904.4h20.5v20.5h-20.5zM4393.3 1924.4h20.5v20.5h-20.5zM4093.3 1944.4h20.5v20.5h-20.5zM4373.3 1944.4h20.5v20.5h-20.5zM4093.3 1964.4h20.5v20.5h-20.5zM4373.3 1964.4h20.5v20.5h-20.5zM4093.3 1984.4h20.5v20.5h-20.5zM4373.3 1984.4h20.5v20.5h-20.5zM4373.3 2004.4h20.5v20.5h-20.5zM4113.3 2024.4h20.5v20.5h-20.5zM4353.3 2024.4h20.5v20.5h-20.5zM4113.3 2044.4h20.5v20.5h-20.5zM4353.3 2044.4h20.5v20.5h-20.5zM4113.3 2064.4h20.5v20.5h-20.5zM4353.3 2064.4h20.5v20.5h-20.5zM4113.3 2084.4h20.5v20.5h-20.5zM4333.3 2084.4h40.5v20.5h-40.5zM4113.3 2104.4h20.5v20.5h-20.5zM4333.3 2104.4h20.5v20.5h-20.5zM4333.3 2124.4h20.5v20.5h-20.5zM4313.3 2144.4h40.5v20.5h-40.5zM4313.3 2164.4h20.5v20.5h-20.5zM4133.3 2184.4h20.5v20.5h-20.5zM4313.3 2184.4h20.5v20.5h-20.5zM4133.3 2204.4h20.5v20.5h-20.5zM4293.3 2204.4h20.5v20.5h-20.5zM4133.3 2224.4h20.5v20.5h-20.5zM4293.3 2224.4h20.5v20.5h-20.5zM4153.3 2244.4h20.5v20.5h-20.5zM4273.3 2244.4h20.5v20.5h-20.5zM4153.3 2264.4h20.5v20.5h-20.5zM4253.3 2264.4h40.5v20.5h-40.5zM4153.3 2284.4h20.5v20.5h-20.5zM4253.3 2284.4h20.5v20.5h-20.5zM4173.3 2304.4h20.5v20.5h-20.5zM4233.3 2304.4h20.5v20.5h-20.5zM4173.3 2324.4h40.5v20.5h-40.5zM4233.3 2324.4h20.5v20.5h-20.5zM4193.3 2344.4h20.5v20.5h-20.5zM4233.3 2344.4h20.5v20.5h-20.5zM4193.3 2364.4h20.5v20.5h-20.5zM4213.3 2444.4h20.5v20.5h-20.5zM4193.3 2464.4h20.5v20.5h-20.5zM4233.3 2464.4h20.5v20.5h-20.5zM4173.3 2484.4h20.5v20.5h-20.5zM4173.3 2504.4h20.5v20.5h-20.5zM4173.3 2524.4h20.5v20.5h-20.5zM4253.3 2524.4h20.5v20.5h-20.5zM4173.3 2544.4h20.5v20.5h-20.5zM4193.3 2564.4h20.5v20.5h-20.5zM4173.3 2584.4h40.5v20.5h-40.5zM4193.3 2604.4h20.5v20.5h-20.5zM4193.3 2624.4h20.5v20.5h-20.5zM4193.3 2644.4h20.5v20.5h-20.5zM4193.3 2664.4h20.5v20.5h-20.5zM4233.3 2664.4h20.5v20.5h-20.5zM4193.3 2684.4h20.5v20.5h-20.5zM4193.3 2704.4h20.5v20.5h-20.5zM4313.3 2704.4h20.5v20.5h-20.5zM4593.3 2704.4h20.5v20.5h-20.5zM4193.3 2724.4h20.5v20.5h-20.5zM4333.3 2724.4h20.5v20.5h-20.5zM4433.3 2724.4h20.5v20.5h-20.5zM4513.3 2724.4h60.5v20.5h-60.5zM4193.3 2744.4h20.5v20.5h-20.5zM4213.3 2764.4h20.5v20.5h-20.5zM4213.3 2784.4h20.5v20.5h-20.5zM4213.3 2804.4h20.5v20.5h-20.5zM4213.3 2824.4h20.5v20.5h-20.5zM4213.3 2844.4h20.5v20.5h-20.5z" fill="#25ffd2"/><path d="M4213.3 1164.4h20.5v20.5h-20.5zM4213.3 1184.4h20.5v20.5h-20.5zM4213.3 1204.4h20.5v20.5h-20.5zM4213.3 1224.4h20.5v20.5h-20.5zM4233.3 1264.4h20.5v20.5h-20.5zM4233.3 1284.4h20.5v20.5h-20.5zM4233.3 1304.4h20.5v20.5h-20.5zM4233.3 1324.4h20.5v20.5h-20.5zM4233.3 1344.4h20.5v20.5h-20.5zM4233.3 1364.4h20.5v20.5h-20.5zM4233.3 1384.4h20.5v20.5h-20.5zM4233.3 1404.4h20.5v20.5h-20.5zM4253.3 1424.4h20.5v20.5h-20.5zM4253.3 1444.4h20.5v20.5h-20.5zM4253.3 1464.4h20.5v20.5h-20.5zM4253.3 1484.4h20.5v20.5h-20.5zM4253.3 1504.4h20.5v20.5h-20.5zM4253.3 1524.4h20.5v20.5h-20.5zM4253.3 1544.4h20.5v20.5h-20.5zM4233.3 1564.4h20.5v20.5h-20.5zM4233.3 1584.4h20.5v20.5h-20.5zM4213.3 1624.4h20.5v20.5h-20.5zM4213.3 1644.4h20.5v20.5h-20.5zM4213.3 1664.4h20.5v20.5h-20.5zM4213.3 1684.4h20.5v20.5h-20.5zM4213.3 1704.4h20.5v20.5h-20.5zM4213.3 1724.4h20.5v20.5h-20.5zM4193.3 1744.4h40.5v20.5h-40.5zM4193.3 1764.4h20.5v20.5h-20.5zM4173.3 1784.4h40.5v20.5h-40.5zM4113.3 1804.4h80.5v20.5h-80.5zM4453.3 1804.4h60.5v20.5h-60.5zM4073.3 1824.4h20.5v20.5h-20.5zM4413.3 1824.4h40.5v20.5h-40.5zM4393.3 1844.4h40.5v20.5h-40.5zM4393.3 1864.4h20.5v20.5h-20.5zM4373.3 1884.4h40.5v20.5h-40.5zM4373.3 1904.4h20.5v20.5h-20.5zM4093.3 1924.4h20.5v20.5h-20.5zM4373.3 1924.4h20.5v20.5h-20.5zM4353.3 1944.4h20.5v20.5h-20.5zM4353.3 1964.4h20.5v20.5h-20.5zM4113.3 1984.4h20.5v20.5h-20.5zM4353.3 1984.4h20.5v20.5h-20.5zM4113.3 2004.4h20.5v20.5h-20.5zM4353.3 2004.4h20.5v20.5h-20.5zM4333.3 2024.4h20.5v20.5h-20.5zM4333.3 2044.4h20.5v20.5h-20.5zM4313.3 2064.4h40.5v20.5h-40.5zM4313.3 2084.4h20.5v20.5h-20.5zM4133.3 2104.4h20.5v20.5h-20.5zM4313.3 2104.4h20.5v20.5h-20.5zM4133.3 2124.4h20.5v20.5h-20.5zM4293.3 2124.4h40.5v20.5h-40.5zM4133.3 2144.4h20.5v20.5h-20.5zM4293.3 2144.4h20.5v20.5h-20.5zM4133.3 2164.4h20.5v20.5h-20.5zM4293.3 2164.4h20.5v20.5h-20.5zM4293.3 2184.4h20.5v20.5h-20.5zM4273.3 2204.4h20.5v20.5h-20.5zM4153.3 2224.4h20.5v20.5h-20.5zM4273.3 2224.4h20.5v20.5h-20.5zM4253.3 2244.4h20.5v20.5h-20.5zM4173.3 2264.4h20.5v20.5h-20.5zM4233.3 2264.4h20.5v20.5h-20.5zM4173.3 2284.4h40.5v20.5h-40.5zM4233.3 2284.4h20.5v20.5h-20.5zM4193.3 2304.4h40.5v20.5h-40.5zM4213.3 2324.4h20.5v20.5h-20.5zM4213.3 2344.4h20.5v20.5h-20.5zM4213.3 2464.4h20.5v20.5h-20.5zM4253.3 2504.4h20.5v20.5h-20.5zM4193.3 2544.4h20.5v20.5h-20.5zM4233.3 2544.4h20.5v20.5h-20.5zM4213.3 2564.4h20.5v20.5h-20.5zM4213.3 2584.4h20.5v20.5h-20.5zM4213.3 2604.4h20.5v20.5h-20.5zM4213.3 2624.4h20.5v20.5h-20.5zM4213.3 2644.4h20.5v20.5h-20.5zM4213.3 2664.4h20.5v20.5h-20.5zM4253.3 2664.4h40.5v20.5h-40.5zM4213.3 2684.4h20.5v20.5h-20.5zM4213.3 2704.4h20.5v20.5h-20.5zM4213.3 2724.4h20.5v20.5h-20.5zM4353.3 2724.4h20.5v20.5h-20.5zM4413.3 2724.4h20.5v20.5h-20.5zM4573.3 2724.4h40.5v20.5h-40.5zM4213.3 2744.4h20.5v20.5h-20.5zM4473.3 2744.4h60.5v20.5h-60.5zM4233.3 2784.4h20.5v20.5h-20.5zM4233.3 2804.4h40.5v20.5h-40.5zM4233.3 2824.4h40.5v20.5h-40.5zM4233.3 2844.4h40.5v20.5h-40.5z" fill="#21ffd6"/><path d="M4233.3 1164.4h20.5v20.5h-20.5zM4233.3 1184.4h20.5v20.5h-20.5zM4233.3 1204.4h20.5v20.5h-20.5zM4233.3 1224.4h20.5v20.5h-20.5zM4233.3 1244.4h20.5v20.5h-20.5zM4253.3 1304.4h20.5v20.5h-20.5zM4253.3 1324.4h20.5v20.5h-20.5zM4253.3 1344.4h20.5v20.5h-20.5zM4253.3 1364.4h20.5v20.5h-20.5zM4253.3 1384.4h20.5v20.5h-20.5zM4253.3 1404.4h20.5v20.5h-20.5zM4273.3 1424.4h20.5v20.5h-20.5zM4273.3 1444.4h20.5v20.5h-20.5zM4273.3 1464.4h20.5v20.5h-20.5zM4273.3 1484.4h20.5v20.5h-20.5zM4273.3 1504.4h20.5v20.5h-20.5zM4273.3 1524.4h20.5v20.5h-20.5zM4273.3 1544.4h20.5v20.5h-20.5zM4253.3 1564.4h20.5v20.5h-20.5zM4233.3 1604.4h20.5v20.5h-20.5zM4233.3 1684.4h20.5v20.5h-20.5zM4233.3 1704.4h20.5v20.5h-20.5zM4233.3 1724.4h40.5v20.5h-40.5zM4233.3 1744.4h40.5v20.5h-40.5zM4213.3 1764.4h60.5v20.5h-60.5zM4213.3 1784.4h60.5v20.5h-60.5zM4413.3 1784.4h160.5v20.5h-160.5zM4193.3 1804.4h60.5v20.5h-60.5zM4393.3 1804.4h60.5v20.5h-60.5zM4573.3 1804.4h40.5v20.5h-40.5zM4153.3 1824.4h80.5v20.5h-80.5zM4373.3 1824.4h40.5v20.5h-40.5zM4173.3 1844.4h40.5v20.5h-40.5zM4353.3 1844.4h40.5v20.5h-40.5zM4353.3 1864.4h40.5v20.5h-40.5zM4073.3 1884.4h20.5v20.5h-20.5zM4353.3 1884.4h20.5v20.5h-20.5zM4093.3 1904.4h20.5v20.5h-20.5zM4353.3 1904.4h20.5v20.5h-20.5zM4333.3 1924.4h40.5v20.5h-40.5zM4333.3 1944.4h20.5v20.5h-20.5zM4113.3 1964.4h20.5v20.5h-20.5zM4313.3 1964.4h40.5v20.5h-40.5zM4313.3 1984.4h40.5v20.5h-40.5zM4313.3 2004.4h40.5v20.5h-40.5zM4133.3 2024.4h20.5v20.5h-20.5zM4293.3 2024.4h40.5v20.5h-40.5zM4133.3 2044.4h20.5v20.5h-20.5zM4293.3 2044.4h40.5v20.5h-40.5zM4133.3 2064.4h20.5v20.5h-20.5zM4293.3 2064.4h20.5v20.5h-20.5zM4133.3 2084.4h20.5v20.5h-20.5zM4273.3 2084.4h40.5v20.5h-40.5zM4273.3 2104.4h40.5v20.5h-40.5zM4273.3 2124.4h20.5v20.5h-20.5zM4273.3 2144.4h20.5v20.5h-20.5zM4273.3 2164.4h20.5v20.5h-20.5zM4153.3 2184.4h20.5v20.5h-20.5zM4273.3 2184.4h20.5v20.5h-20.5zM4153.3 2204.4h20.5v20.5h-20.5zM4253.3 2204.4h20.5v20.5h-20.5zM4173.3 2224.4h20.5v20.5h-20.5zM4253.3 2224.4h20.5v20.5h-20.5zM4173.3 2244.4h20.5v20.5h-20.5zM4233.3 2244.4h20.5v20.5h-20.5zM4193.3 2264.4h40.5v20.5h-40.5zM4213.3 2284.4h20.5v20.5h-20.5zM4233.3 2684.4h20.5v20.5h-20.5zM4313.3 2724.4h20.5v20.5h-20.5zM4373.3 2724.4h40.5v20.5h-40.5zM4533.3 2744.4h60.5v20.5h-60.5zM4233.3 2764.4h20.5v20.5h-20.5zM4253.3 2784.4h20.5v20.5h-20.5zM4273.3 2804.4h60.5v20.5h-60.5zM4273.3 2824.4h40.5v20.5h-40.5zM4273.3 2844.4h40.5v20.5h-40.5z" fill="#1dffda"/><path d="M4253.3 1164.4h20.5v20.5h-20.5zM4253.3 1184.4h20.5v20.5h-20.5zM4253.3 1204.4h20.5v20.5h-20.5zM4253.3 1224.4h20.5v20.5h-20.5zM4253.3 1244.4h20.5v20.5h-20.5zM4253.3 1264.4h20.5v20.5h-20.5zM4253.3 1284.4h20.5v20.5h-20.5zM4273.3 1304.4h20.5v20.5h-20.5zM4273.3 1324.4h20.5v20.5h-20.5zM4273.3 1344.4h20.5v20.5h-20.5zM4273.3 1364.4h20.5v20.5h-20.5zM4273.3 1384.4h20.5v20.5h-20.5zM4273.3 1404.4h20.5v20.5h-20.5zM4293.3 1424.4h20.5v20.5h-20.5zM4293.3 1444.4h20.5v20.5h-20.5zM4293.3 1464.4h20.5v20.5h-20.5zM4293.3 1484.4h20.5v20.5h-20.5zM4293.3 1504.4h20.5v20.5h-20.5zM4293.3 1524.4h20.5v20.5h-20.5zM4293.3 1544.4h20.5v20.5h-20.5zM4273.3 1564.4h20.5v20.5h-20.5zM4253.3 1584.4h20.5v20.5h-20.5zM4453.3 1584.4h20.5v20.5h-20.5zM4433.3 1604.4h60.5v20.5h-60.5zM4233.3 1624.4h20.5v20.5h-20.5zM4433.3 1624.4h60.5v20.5h-60.5zM4233.3 1644.4h20.5v20.5h-20.5zM4233.3 1664.4h20.5v20.5h-20.5zM4253.3 1704.4h20.5v20.5h-20.5zM4273.3 1724.4h40.5v20.5h-40.5zM4273.3 1744.4h60.5v20.5h-60.5zM4353.3 1744.4h60.5v20.5h-60.5zM4273.3 1764.4h180.5v20.5h-180.5zM4273.3 1784.4h140.5v20.5h-140.5zM4593.3 1784.4h20.5v20.5h-20.5zM4253.3 1804.4h140.5v20.5h-140.5zM4093.3 1824.4h20.5v20.5h-20.5zM4133.3 1824.4h20.5v20.5h-20.5zM4233.3 1824.4h140.5v20.5h-140.5zM4073.3 1844.4h20.5v20.5h-20.5zM4153.3 1844.4h20.5v20.5h-20.5zM4213.3 1844.4h140.5v20.5h-140.5zM4173.3 1864.4h180.5v20.5h-180.5zM4233.3 1884.4h120.5v20.5h-120.5zM4233.3 1904.4h120.5v20.5h-120.5zM4113.3 1924.4h20.5v20.5h-20.5zM4233.3 1924.4h100.5v20.5h-100.5zM4113.3 1944.4h20.5v20.5h-20.5zM4253.3 1944.4h80.5v20.5h-80.5zM4253.3 1964.4h60.5v20.5h-60.5zM4253.3 1984.4h60.5v20.5h-60.5zM4133.3 2004.4h20.5v20.5h-20.5zM4253.3 2004.4h60.5v20.5h-60.5zM4253.3 2024.4h40.5v20.5h-40.5zM4253.3 2044.4h40.5v20.5h-40.5zM4253.3 2064.4h40.5v20.5h-40.5zM4253.3 2084.4h20.5v20.5h-20.5zM4253.3 2104.4h20.5v20.5h-20.5zM4253.3 2124.4h20.5v20.5h-20.5zM4253.3 2144.4h20.5v20.5h-20.5zM4153.3 2164.4h20.5v20.5h-20.5zM4253.3 2164.4h20.5v20.5h-20.5zM4253.3 2184.4h20.5v20.5h-20.5zM4173.3 2204.4h20.5v20.5h-20.5zM4233.3 2204.4h20.5v20.5h-20.5zM4193.3 2224.4h20.5v20.5h-20.5zM4233.3 2224.4h20.5v20.5h-20.5zM4193.3 2244.4h40.5v20.5h-40.5zM4193.3 2484.4h20.5v20.5h-20.5zM4193.3 2524.4h20.5v20.5h-20.5zM4213.3 2544.4h20.5v20.5h-20.5zM4293.3 2684.4h20.5v20.5h-20.5zM4233.3 2744.4h20.5v20.5h-20.5zM4453.3 2744.4h20.5v20.5h-20.5zM4593.3 2744.4h20.5v20.5h-20.5zM4493.3 2764.4h60.5v20.5h-60.5zM4273.3 2784.4h60.5v20.5h-60.5zM4333.3 2804.4h20.5v20.5h-20.5zM4313.3 2824.4h40.5v20.5h-40.5zM4313.3 2844.4h40.5v20.5h-40.5z" fill="#19ffde"/><path d="M4273.3 1164.4h20.5v20.5h-20.5zM4273.3 1184.4h20.5v20.5h-20.5zM4293.3 1244.4h20.5v20.5h-20.5zM4293.3 1264.4h20.5v20.5h-20.5zM4293.3 1284.4h20.5v20.5h-20.5zM4293.3 1304.4h20.5v20.5h-20.5zM4313.3 1344.4h20.5v20.5h-20.5zM4453.3 1344.4h60.5v20.5h-60.5zM4313.3 1364.4h20.5v20.5h-20.5zM4393.3 1364.4h160.5v20.5h-160.5zM4313.3 1384.4h20.5v20.5h-20.5zM4373.3 1384.4h180.5v20.5h-180.5zM4313.3 1404.4h240.5v20.5h-240.5zM4333.3 1424.4h120.5v20.5h-120.5zM4493.3 1424.4h60.5v20.5h-60.5zM4333.3 1444.4h100.5v20.5h-100.5zM4493.3 1444.4h60.5v20.5h-60.5zM4333.3 1464.4h80.5v20.5h-80.5zM4513.3 1464.4h40.5v20.5h-40.5zM4333.3 1484.4h60.5v20.5h-60.5zM4513.3 1484.4h40.5v20.5h-40.5zM4333.3 1504.4h40.5v20.5h-40.5zM4533.3 1504.4h20.5v20.5h-20.5zM4333.3 1524.4h20.5v20.5h-20.5zM4533.3 1524.4h20.5v20.5h-20.5zM4533.3 1544.4h20.5v20.5h-20.5zM4333.3 1564.4h20.5v20.5h-20.5zM4533.3 1564.4h20.5v20.5h-20.5zM4313.3 1584.4h40.5v20.5h-40.5zM4533.3 1584.4h20.5v20.5h-20.5zM4353.3 1604.4h20.5v20.5h-20.5zM4253.3 1624.4h20.5v20.5h-20.5zM4373.3 1624.4h20.5v20.5h-20.5zM4373.3 1644.4h40.5v20.5h-40.5zM4513.3 1644.4h40.5v20.5h-40.5zM4253.3 1664.4h20.5v20.5h-20.5zM4373.3 1664.4h40.5v20.5h-40.5zM4453.3 1664.4h20.5v20.5h-20.5zM4273.3 1684.4h20.5v20.5h-20.5zM4373.3 1684.4h20.5v20.5h-20.5zM4413.3 1684.4h40.5v20.5h-40.5zM4313.3 1704.4h60.5v20.5h-60.5zM4413.3 1704.4h20.5v20.5h-20.5zM4413.3 1724.4h20.5v20.5h-20.5zM4433.3 1744.4h20.5v20.5h-20.5zM4493.3 1764.4h40.5v20.5h-40.5zM4593.3 1764.4h20.5v20.5h-20.5zM4133.3 1844.4h20.5v20.5h-20.5zM4153.3 1864.4h20.5v20.5h-20.5zM4093.3 1884.4h20.5v20.5h-20.5zM4173.3 1884.4h20.5v20.5h-20.5zM4193.3 1904.4h20.5v20.5h-20.5zM4213.3 1944.4h20.5v20.5h-20.5zM4133.3 1964.4h20.5v20.5h-20.5zM4213.3 1964.4h20.5v20.5h-20.5zM4193.3 1984.4h40.5v20.5h-40.5zM4153.3 2004.4h20.5v20.5h-20.5zM4193.3 2004.4h40.5v20.5h-40.5zM4193.3 2024.4h40.5v20.5h-40.5zM4153.3 2044.4h20.5v20.5h-20.5zM4213.3 2044.4h20.5v20.5h-20.5zM4153.3 2064.4h20.5v20.5h-20.5zM4213.3 2064.4h20.5v20.5h-20.5zM4153.3 2084.4h20.5v20.5h-20.5zM4213.3 2084.4h20.5v20.5h-20.5zM4153.3 2104.4h20.5v20.5h-20.5zM4213.3 2104.4h20.5v20.5h-20.5zM4173.3 2164.4h20.5v20.5h-20.5zM4213.3 2164.4h20.5v20.5h-20.5zM4193.3 2184.4h40.5v20.5h-40.5zM4233.3 2384.4h20.5v20.5h-20.5zM4233.3 2524.4h20.5v20.5h-20.5zM4313.3 2744.4h20.5v20.5h-20.5zM4253.3 2764.4h20.5v20.5h-20.5zM4313.3 2764.4h20.5v20.5h-20.5zM4453.3 2764.4h20.5v20.5h-20.5zM4553.3 2784.4h20.5v20.5h-20.5zM4373.3 2804.4h20.5v20.5h-20.5zM4373.3 2824.4h20.5v20.5h-20.5zM4393.3 2844.4h40.5v20.5h-40.5z" fill="#10fae6"/><path d="M4293.3 1164.4h20.5v20.5h-20.5zM4293.3 1184.4h20.5v20.5h-20.5zM4293.3 1204.4h20.5v20.5h-20.5zM4293.3 1224.4h20.5v20.5h-20.5zM4313.3 1264.4h20.5v20.5h-20.5zM4513.3 1264.4h40.5v20.5h-40.5zM4313.3 1284.4h20.5v20.5h-20.5zM4433.3 1284.4h140.5v20.5h-140.5zM4313.3 1304.4h20.5v20.5h-20.5zM4393.3 1304.4h180.5v20.5h-180.5zM4313.3 1324.4h260.5v20.5h-260.5zM4333.3 1344.4h120.5v20.5h-120.5zM4513.3 1344.4h60.5v20.5h-60.5zM4333.3 1364.4h60.5v20.5h-60.5zM4553.3 1364.4h20.5v20.5h-20.5zM4333.3 1384.4h40.5v20.5h-40.5zM4553.3 1564.4h20.5v20.5h-20.5zM4553.3 1584.4h20.5v20.5h-20.5zM4273.3 1604.4h80.5v20.5h-80.5zM4553.3 1604.4h20.5v20.5h-20.5zM4353.3 1624.4h20.5v20.5h-20.5zM4553.3 1624.4h20.5v20.5h-20.5zM4253.3 1644.4h20.5v20.5h-20.5zM4273.3 1664.4h20.5v20.5h-20.5zM4473.3 1664.4h40.5v20.5h-40.5zM4293.3 1684.4h40.5v20.5h-40.5zM4353.3 1684.4h20.5v20.5h-20.5zM4433.3 1704.4h20.5v20.5h-20.5zM4433.3 1724.4h20.5v20.5h-20.5zM4453.3 1744.4h20.5v20.5h-20.5zM4573.3 1764.4h20.5v20.5h-20.5zM4093.3 1844.4h20.5v20.5h-20.5zM4153.3 1884.4h20.5v20.5h-20.5zM4133.3 1904.4h20.5v20.5h-20.5zM4133.3 1924.4h20.5v20.5h-20.5zM4193.3 1924.4h20.5v20.5h-20.5zM4133.3 1944.4h20.5v20.5h-20.5zM4193.3 1944.4h20.5v20.5h-20.5zM4193.3 1964.4h20.5v20.5h-20.5zM4153.3 1984.4h40.5v20.5h-40.5zM4173.3 2004.4h20.5v20.5h-20.5zM4173.3 2024.4h20.5v20.5h-20.5zM4173.3 2044.4h40.5v20.5h-40.5zM4193.3 2064.4h20.5v20.5h-20.5zM4213.3 2124.4h20.5v20.5h-20.5zM4173.3 2144.4h20.5v20.5h-20.5zM4213.3 2144.4h20.5v20.5h-20.5zM4193.3 2164.4h20.5v20.5h-20.5zM4213.3 2484.4h20.5v20.5h-20.5zM4253.3 2684.4h20.5v20.5h-20.5zM4293.3 2764.4h20.5v20.5h-20.5zM4353.3 2784.4h20.5v20.5h-20.5zM4533.3 2784.4h20.5v20.5h-20.5zM4573.3 2784.4h40.5v20.5h-40.5zM4393.3 2824.4h20.5v20.5h-20.5zM4433.3 2844.4h60.5v20.5h-60.5z" fill="#0cf5ea"/><path d="M4313.3 1164.4h20.5v20.5h-20.5zM4533.3 1164.4h80.5v20.5h-80.5zM4313.3 1184.4h20.5v20.5h-20.5zM4513.3 1184.4h100.5v20.5h-100.5zM4313.3 1204.4h20.5v20.5h-20.5zM4473.3 1204.4h140.5v20.5h-140.5zM4313.3 1224.4h20.5v20.5h-20.5zM4413.3 1224.4h200.5v20.5h-200.5zM4313.3 1244.4h20.5v20.5h-20.5zM4353.3 1244.4h260.5v20.5h-260.5zM4333.3 1264.4h180.5v20.5h-180.5zM4553.3 1264.4h60.5v20.5h-60.5zM4333.3 1284.4h100.5v20.5h-100.5zM4333.3 1304.4h60.5v20.5h-60.5zM4553.3 1384.4h20.5v20.5h-20.5zM4553.3 1404.4h20.5v20.5h-20.5zM4553.3 1424.4h20.5v20.5h-20.5zM4553.3 1444.4h20.5v20.5h-20.5zM4553.3 1464.4h20.5v20.5h-20.5zM4553.3 1484.4h20.5v20.5h-20.5zM4553.3 1504.4h20.5v20.5h-20.5zM4553.3 1524.4h20.5v20.5h-20.5zM4553.3 1544.4h20.5v20.5h-20.5zM4273.3 1624.4h80.5v20.5h-80.5zM4273.3 1644.4h20.5v20.5h-20.5zM4353.3 1644.4h20.5v20.5h-20.5zM4553.3 1644.4h20.5v20.5h-20.5zM4293.3 1664.4h20.5v20.5h-20.5zM4353.3 1664.4h20.5v20.5h-20.5zM4513.3 1664.4h40.5v20.5h-40.5zM4333.3 1684.4h20.5v20.5h-20.5zM4453.3 1684.4h20.5v20.5h-20.5zM4473.3 1744.4h20.5v20.5h-20.5zM4593.3 1744.4h20.5v20.5h-20.5zM4113.3 1844.4h20.5v20.5h-20.5zM4093.3 1864.4h20.5v20.5h-20.5zM4133.3 1864.4h20.5v20.5h-20.5zM4113.3 1884.4h40.5v20.5h-40.5zM4153.3 1904.4h40.5v20.5h-40.5zM4153.3 1964.4h40.5v20.5h-40.5zM4173.3 2064.4h20.5v20.5h-20.5zM4173.3 2084.4h40.5v20.5h-40.5zM4173.3 2104.4h40.5v20.5h-40.5zM4173.3 2124.4h40.5v20.5h-40.5zM4193.3 2144.4h20.5v20.5h-20.5zM4213.3 2364.4h20.5v20.5h-20.5zM4233.3 2504.4h20.5v20.5h-20.5zM4213.3 2524.4h20.5v20.5h-20.5zM4273.3 2684.4h20.5v20.5h-20.5zM4433.3 2744.4h20.5v20.5h-20.5zM4273.3 2764.4h20.5v20.5h-20.5zM4513.3 2784.4h20.5v20.5h-20.5zM4393.3 2804.4h20.5v20.5h-20.5zM4553.3 2804.4h60.5v20.5h-60.5zM4413.3 2824.4h20.5v20.5h-20.5zM4493.3 2844.4h60.5v20.5h-60.5z" fill="#08f0ef"/><path d="M4333.3 1164.4h20.5v20.5h-20.5zM4573.3 1324.4h40.5v20.5h-40.5zM4493.3 1684.4h20.5v20.5h-20.5zM4593.3 1724.4h20.5v20.5h-20.5zM4573.3 1744.4h20.5v20.5h-20.5zM4153.3 1924.4h20.5v20.5h-20.5zM4153.3 1944.4h20.5v20.5h-20.5zM4213.3 2504.4h20.5v20.5h-20.5zM4293.3 2744.4h20.5v20.5h-20.5zM4333.3 2764.4h20.5v20.5h-20.5zM4433.3 2764.4h20.5v20.5h-20.5zM4393.3 2784.4h40.5v20.5h-40.5zM4433.3 2824.4h20.5v20.5h-20.5zM4493.3 2824.4h40.5v20.5h-40.5z" fill="#00e5f7"/><path d="M4353.3 1164.4h180.5v20.5h-180.5zM4333.3 1184.4h180.5v20.5h-180.5zM4333.3 1204.4h140.5v20.5h-140.5zM4333.3 1224.4h80.5v20.5h-80.5zM4333.3 1244.4h20.5v20.5h-20.5zM4573.3 1284.4h40.5v20.5h-40.5zM4573.3 1304.4h40.5v20.5h-40.5zM4293.3 1644.4h60.5v20.5h-60.5zM4313.3 1664.4h40.5v20.5h-40.5zM4553.3 1664.4h20.5v20.5h-20.5zM4473.3 1684.4h20.5v20.5h-20.5zM4453.3 1704.4h20.5v20.5h-20.5zM4453.3 1724.4h20.5v20.5h-20.5zM4493.3 1744.4h80.5v20.5h-80.5zM4113.3 1864.4h20.5v20.5h-20.5zM4173.3 1924.4h20.5v20.5h-20.5zM4173.3 1944.4h20.5v20.5h-20.5zM4293.3 2704.4h20.5v20.5h-20.5zM4333.3 2744.4h20.5v20.5h-20.5zM4373.3 2784.4h20.5v20.5h-20.5zM4493.3 2784.4h20.5v20.5h-20.5zM4533.3 2804.4h20.5v20.5h-20.5zM4533.3 2824.4h80.5v20.5h-80.5zM4553.3 2844.4h60.5v20.5h-60.5z" fill="#04ebf3"/><path d="M4273.3 1204.4h20.5v20.5h-20.5zM4273.3 1224.4h20.5v20.5h-20.5zM4273.3 1244.4h20.5v20.5h-20.5zM4273.3 1264.4h20.5v20.5h-20.5zM4273.3 1284.4h20.5v20.5h-20.5zM4293.3 1324.4h20.5v20.5h-20.5zM4293.3 1344.4h20.5v20.5h-20.5zM4293.3 1364.4h20.5v20.5h-20.5zM4293.3 1384.4h20.5v20.5h-20.5zM4293.3 1404.4h20.5v20.5h-20.5zM4313.3 1424.4h20.5v20.5h-20.5zM4453.3 1424.4h40.5v20.5h-40.5zM4313.3 1444.4h20.5v20.5h-20.5zM4433.3 1444.4h60.5v20.5h-60.5zM4313.3 1464.4h20.5v20.5h-20.5zM4413.3 1464.4h100.5v20.5h-100.5zM4313.3 1484.4h20.5v20.5h-20.5zM4393.3 1484.4h120.5v20.5h-120.5zM4313.3 1504.4h20.5v20.5h-20.5zM4373.3 1504.4h160.5v20.5h-160.5zM4313.3 1524.4h20.5v20.5h-20.5zM4353.3 1524.4h180.5v20.5h-180.5zM4313.3 1544.4h220.5v20.5h-220.5zM4293.3 1564.4h40.5v20.5h-40.5zM4353.3 1564.4h180.5v20.5h-180.5zM4273.3 1584.4h40.5v20.5h-40.5zM4353.3 1584.4h100.5v20.5h-100.5zM4473.3 1584.4h60.5v20.5h-60.5zM4253.3 1604.4h20.5v20.5h-20.5zM4373.3 1604.4h60.5v20.5h-60.5zM4493.3 1604.4h60.5v20.5h-60.5zM4393.3 1624.4h40.5v20.5h-40.5zM4493.3 1624.4h60.5v20.5h-60.5zM4413.3 1644.4h100.5v20.5h-100.5zM4413.3 1664.4h40.5v20.5h-40.5zM4253.3 1684.4h20.5v20.5h-20.5zM4393.3 1684.4h20.5v20.5h-20.5zM4273.3 1704.4h40.5v20.5h-40.5zM4373.3 1704.4h40.5v20.5h-40.5zM4313.3 1724.4h100.5v20.5h-100.5zM4333.3 1744.4h20.5v20.5h-20.5zM4413.3 1744.4h20.5v20.5h-20.5zM4453.3 1764.4h40.5v20.5h-40.5zM4533.3 1764.4h40.5v20.5h-40.5zM4573.3 1784.4h20.5v20.5h-20.5zM4113.3 1824.4h20.5v20.5h-20.5zM4073.3 1864.4h20.5v20.5h-20.5zM4193.3 1884.4h40.5v20.5h-40.5zM4113.3 1904.4h20.5v20.5h-20.5zM4213.3 1904.4h20.5v20.5h-20.5zM4213.3 1924.4h20.5v20.5h-20.5zM4233.3 1944.4h20.5v20.5h-20.5zM4233.3 1964.4h20.5v20.5h-20.5zM4133.3 1984.4h20.5v20.5h-20.5zM4233.3 1984.4h20.5v20.5h-20.5zM4233.3 2004.4h20.5v20.5h-20.5zM4153.3 2024.4h20.5v20.5h-20.5zM4233.3 2024.4h20.5v20.5h-20.5zM4233.3 2044.4h20.5v20.5h-20.5zM4233.3 2064.4h20.5v20.5h-20.5zM4233.3 2084.4h20.5v20.5h-20.5zM4233.3 2104.4h20.5v20.5h-20.5zM4153.3 2124.4h20.5v20.5h-20.5zM4233.3 2124.4h20.5v20.5h-20.5zM4153.3 2144.4h20.5v20.5h-20.5zM4233.3 2144.4h20.5v20.5h-20.5zM4233.3 2164.4h20.5v20.5h-20.5zM4173.3 2184.4h20.5v20.5h-20.5zM4233.3 2184.4h20.5v20.5h-20.5zM4193.3 2204.4h40.5v20.5h-40.5zM4213.3 2224.4h20.5v20.5h-20.5zM4213.3 2384.4h20.5v20.5h-20.5zM4233.3 2484.4h20.5v20.5h-20.5zM4193.3 2504.4h20.5v20.5h-20.5zM4233.3 2704.4h20.5v20.5h-20.5zM4233.3 2724.4h20.5v20.5h-20.5zM4473.3 2764.4h20.5v20.5h-20.5zM4553.3 2764.4h60.5v20.5h-60.5zM4333.3 2784.4h20.5v20.5h-20.5zM4353.3 2804.4h20.5v20.5h-20.5zM4353.3 2824.4h20.5v20.5h-20.5zM4353.3 2844.4h40.5v20.5h-40.5z" fill="#15ffe2"/><path d="M4073.3 1244.4h20.5v20.5h-20.5zM4073.3 1264.4h20.5v20.5h-20.5zM4073.3 1284.4h20.5v20.5h-20.5zM4073.3 1304.4h20.5v20.5h-20.5zM4073.3 1324.4h40.5v20.5h-40.5zM4073.3 1344.4h40.5v20.5h-40.5zM4073.3 1364.4h40.5v20.5h-40.5zM4093.3 1384.4h20.5v20.5h-20.5zM4093.3 1404.4h20.5v20.5h-20.5zM4093.3 1424.4h20.5v20.5h-20.5zM4113.3 1444.4h20.5v20.5h-20.5zM4113.3 1464.4h20.5v20.5h-20.5zM4113.3 1484.4h20.5v20.5h-20.5zM4113.3 1504.4h20.5v20.5h-20.5zM4113.3 1524.4h20.5v20.5h-20.5zM4113.3 1544.4h20.5v20.5h-20.5zM4113.3 1564.4h20.5v20.5h-20.5zM4113.3 1584.4h20.5v20.5h-20.5zM4113.3 1604.4h20.5v20.5h-20.5zM4113.3 1624.4h20.5v20.5h-20.5zM4093.3 1644.4h20.5v20.5h-20.5zM4073.3 1664.4h20.5v20.5h-20.5zM4573.3 1924.4h40.5v20.5h-40.5zM4533.3 1944.4h40.5v20.5h-40.5zM4513.3 1964.4h20.5v20.5h-20.5zM4493.3 1984.4h20.5v20.5h-20.5zM4473.3 2004.4h40.5v20.5h-40.5zM4473.3 2024.4h40.5v20.5h-40.5zM4473.3 2044.4h40.5v20.5h-40.5zM4473.3 2064.4h40.5v20.5h-40.5zM4473.3 2084.4h40.5v20.5h-40.5zM4473.3 2104.4h40.5v20.5h-40.5zM4473.3 2124.4h40.5v20.5h-40.5zM4473.3 2144.4h40.5v20.5h-40.5zM4453.3 2164.4h40.5v20.5h-40.5zM4453.3 2184.4h40.5v20.5h-40.5zM4453.3 2204.4h20.5v20.5h-20.5zM4433.3 2224.4h20.5v20.5h-20.5zM4413.3 2244.4h20.5v20.5h-20.5zM4393.3 2264.4h40.5v20.5h-40.5zM4393.3 2284.4h20.5v20.5h-20.5zM4373.3 2304.4h20.5v20.5h-20.5zM4353.3 2324.4h20.5v20.5h-20.5zM4333.3 2344.4h20.5v20.5h-20.5zM4333.3 2364.4h20.5v20.5h-20.5zM4313.3 2384.4h20.5v20.5h-20.5zM4293.3 2424.4h20.5v20.5h-20.5zM4273.3 2524.4h20.5v20.5h-20.5zM4273.3 2544.4h20.5v20.5h-20.5zM4273.3 2564.4h20.5v20.5h-20.5zM4273.3 2584.4h20.5v20.5h-20.5zM4293.3 2624.4h20.5v20.5h-20.5zM4593.3 2624.4h20.5v20.5h-20.5zM4313.3 2644.4h20.5v20.5h-20.5zM4533.3 2644.4h40.5v20.5h-40.5zM4333.3 2664.4h60.5v20.5h-60.5zM4473.3 2664.4h40.5v20.5h-40.5zM4073.3 2704.4h20.5v20.5h-20.5zM4073.3 2724.4h20.5v20.5h-20.5zM4073.3 2744.4h40.5v20.5h-40.5zM4073.3 2764.4h40.5v20.5h-40.5zM4093.3 2784.4h20.5v20.5h-20.5zM4093.3 2804.4h20.5v20.5h-20.5zM4093.3 2824.4h20.5v20.5h-20.5zM4093.3 2844.4h20.5v20.5h-20.5z" fill="#3effb9"/><path d="M4573.3 1344.4h20.5v20.5h-20.5zM4513.3 1684.4h60.5v20.5h-60.5zM4473.3 1704.4h20.5v20.5h-20.5zM4473.3 1724.4h20.5v20.5h-20.5zM4233.3 2364.4h20.5v20.5h-20.5zM4253.3 2744.4h20.5v20.5h-20.5zM4433.3 2784.4h60.5v20.5h-60.5zM4413.3 2804.4h20.5v20.5h-20.5zM4453.3 2824.4h40.5v20.5h-40.5z" fill="#00e0fb"/><path d="M4593.3 1344.4h20.5v20.5h-20.5zM4593.3 1684.4h20.5v20.5h-20.5zM4493.3 1704.4h20.5v20.5h-20.5zM4593.3 1704.4h20.5v20.5h-20.5zM4493.3 1724.4h80.5v20.5h-80.5zM4293.3 2724.4h20.5v20.5h-20.5zM4413.3 2744.4h20.5v20.5h-20.5zM4513.3 2804.4h20.5v20.5h-20.5z" fill="#00dbff"/><path d="M4573.3 1364.4h20.5v20.5h-20.5zM4573.3 1624.4h20.5v20.5h-20.5zM4573.3 1644.4h40.5v20.5h-40.5zM4593.3 1664.4h20.5v20.5h-20.5zM4513.3 1704.4h60.5v20.5h-60.5zM4573.3 1724.4h20.5v20.5h-20.5zM4253.3 2704.4h20.5v20.5h-20.5zM4353.3 2744.4h20.5v20.5h-20.5z" fill="#00d6ff"/><path d="M4593.3 1364.4h20.5v20.5h-20.5zM4573.3 1584.4h20.5v20.5h-20.5zM4573.3 1604.4h40.5v20.5h-40.5zM4593.3 1624.4h20.5v20.5h-20.5zM4573.3 1664.4h20.5v20.5h-20.5zM4573.3 1684.4h20.5v20.5h-20.5zM4573.3 1704.4h20.5v20.5h-20.5z" fill="#00d1ff"/><path d="M4073.3 1384.4h20.5v20.5h-20.5zM4073.3 1404.4h20.5v20.5h-20.5zM4073.3 1424.4h20.5v20.5h-20.5zM4073.3 1444.4h40.5v20.5h-40.5zM4073.3 1464.4h40.5v20.5h-40.5zM4073.3 1484.4h40.5v20.5h-40.5zM4093.3 1504.4h20.5v20.5h-20.5zM4093.3 1524.4h20.5v20.5h-20.5zM4093.3 1544.4h20.5v20.5h-20.5zM4093.3 1564.4h20.5v20.5h-20.5zM4093.3 1604.4h20.5v20.5h-20.5zM4073.3 1624.4h40.5v20.5h-40.5zM4073.3 1644.4h20.5v20.5h-20.5zM4573.3 1944.4h40.5v20.5h-40.5zM4533.3 1964.4h60.5v20.5h-60.5zM4513.3 1984.4h40.5v20.5h-40.5zM4513.3 2004.4h40.5v20.5h-40.5zM4513.3 2024.4h40.5v20.5h-40.5zM4513.3 2044.4h40.5v20.5h-40.5zM4513.3 2064.4h40.5v20.5h-40.5zM4513.3 2084.4h40.5v20.5h-40.5zM4513.3 2104.4h40.5v20.5h-40.5zM4513.3 2124.4h40.5v20.5h-40.5zM4513.3 2144.4h40.5v20.5h-40.5zM4493.3 2164.4h60.5v20.5h-60.5zM4493.3 2184.4h60.5v20.5h-60.5zM4473.3 2204.4h80.5v20.5h-80.5zM4453.3 2224.4h60.5v20.5h-60.5zM4433.3 2244.4h40.5v20.5h-40.5zM4433.3 2264.4h20.5v20.5h-20.5zM4413.3 2284.4h20.5v20.5h-20.5zM4393.3 2304.4h20.5v20.5h-20.5zM4373.3 2324.4h40.5v20.5h-40.5zM4353.3 2344.4h40.5v20.5h-40.5zM4353.3 2364.4h20.5v20.5h-20.5zM4333.3 2384.4h20.5v20.5h-20.5zM4313.3 2404.4h20.5v20.5h-20.5zM4313.3 2424.4h20.5v20.5h-20.5zM4293.3 2444.4h20.5v20.5h-20.5zM4293.3 2464.4h20.5v20.5h-20.5zM4293.3 2604.4h20.5v20.5h-20.5zM4553.3 2624.4h40.5v20.5h-40.5zM4493.3 2644.4h40.5v20.5h-40.5zM4393.3 2664.4h80.5v20.5h-80.5zM4073.3 2784.4h20.5v20.5h-20.5zM4073.3 2804.4h20.5v20.5h-20.5zM4073.3 2824.4h20.5v20.5h-20.5zM4073.3 2844.4h20.5v20.5h-20.5z" fill="#42ffb5"/><path d="M4573.3 1384.4h20.5v20.5h-20.5zM4573.3 1564.4h40.5v20.5h-40.5zM4593.3 1584.4h20.5v20.5h-20.5zM4253.3 2724.4h20.5v20.5h-20.5zM4273.3 2744.4h20.5v20.5h-20.5zM4353.3 2764.4h20.5v20.5h-20.5zM4413.3 2764.4h20.5v20.5h-20.5zM4433.3 2804.4h20.5v20.5h-20.5zM4493.3 2804.4h20.5v20.5h-20.5z" fill="#00ccff"/><path d="M4593.3 1384.4h20.5v20.5h-20.5zM4573.3 1544.4h40.5v20.5h-40.5zM4393.3 2744.4h20.5v20.5h-20.5z" fill="#00c7ff"/><path d="M4573.3 1404.4h40.5v20.5h-40.5zM4573.3 1504.4h20.5v20.5h-20.5zM4393.3 2764.4h20.5v20.5h-20.5zM4453.3 2804.4h20.5v20.5h-20.5z" fill="#00bdff"/><path d="M4573.3 1424.4h20.5v20.5h-20.5zM4573.3 1484.4h20.5v20.5h-20.5zM4593.3 1504.4h20.5v20.5h-20.5zM4373.3 2764.4h20.5v20.5h-20.5z" fill="#00b8ff"/><path d="M4593.3 1424.4h20.5v20.5h-20.5zM4573.3 1444.4h20.5v20.5h-20.5zM4573.3 1464.4h20.5v20.5h-20.5zM4593.3 1484.4h20.5v20.5h-20.5zM4273.3 2724.4h20.5v20.5h-20.5z" fill="#00b2ff"/><path d="M4593.3 1444.4h20.5v20.5h-20.5zM4593.3 1464.4h20.5v20.5h-20.5z" fill="#00adff"/><path d="M4073.3 1504.4h20.5v20.5h-20.5zM4073.3 1524.4h20.5v20.5h-20.5zM4073.3 1544.4h20.5v20.5h-20.5zM4073.3 1564.4h20.5v20.5h-20.5zM4073.3 1584.4h40.5v20.5h-40.5zM4073.3 1604.4h20.5v20.5h-20.5zM4593.3 1964.4h20.5v20.5h-20.5zM4553.3 1984.4h40.5v20.5h-40.5zM4553.3 2004.4h20.5v20.5h-20.5zM4553.3 2024.4h20.5v20.5h-20.5zM4553.3 2044.4h40.5v20.5h-40.5zM4553.3 2064.4h40.5v20.5h-40.5zM4553.3 2084.4h60.5v20.5h-60.5zM4553.3 2104.4h60.5v20.5h-60.5zM4553.3 2124.4h60.5v20.5h-60.5zM4553.3 2144.4h60.5v20.5h-60.5zM4553.3 2164.4h60.5v20.5h-60.5zM4553.3 2184.4h60.5v20.5h-60.5zM4553.3 2204.4h60.5v20.5h-60.5zM4513.3 2224.4h100.5v20.5h-100.5zM4473.3 2244.4h140.5v20.5h-140.5zM4453.3 2264.4h160.5v20.5h-160.5zM4433.3 2284.4h20.5v20.5h-20.5zM4573.3 2284.4h40.5v20.5h-40.5zM4413.3 2304.4h40.5v20.5h-40.5zM4413.3 2324.4h20.5v20.5h-20.5zM4393.3 2344.4h20.5v20.5h-20.5zM4373.3 2364.4h20.5v20.5h-20.5zM4353.3 2384.4h20.5v20.5h-20.5zM4333.3 2404.4h40.5v20.5h-40.5zM4333.3 2424.4h20.5v20.5h-20.5zM4313.3 2444.4h20.5v20.5h-20.5zM4293.3 2484.4h20.5v20.5h-20.5zM4293.3 2584.4h20.5v20.5h-20.5zM4573.3 2604.4h40.5v20.5h-40.5zM4313.3 2624.4h20.5v20.5h-20.5zM4513.3 2624.4h40.5v20.5h-40.5zM4333.3 2644.4h160.5v20.5h-160.5z" fill="#46ffb1"/><path d="M4573.3 1524.4h40.5v20.5h-40.5zM4273.3 2704.4h20.5v20.5h-20.5zM4373.3 2744.4h20.5v20.5h-20.5zM4473.3 2804.4h20.5v20.5h-20.5z" fill="#00c2ff"/><path d="M4593.3 1984.4h20.5v20.5h-20.5zM4573.3 2004.4h40.5v20.5h-40.5zM4573.3 2024.4h40.5v20.5h-40.5zM4593.3 2044.4h20.5v20.5h-20.5zM4593.3 2064.4h20.5v20.5h-20.5zM4453.3 2284.4h120.5v20.5h-120.5zM4453.3 2304.4h160.5v20.5h-160.5zM4433.3 2324.4h20.5v20.5h-20.5zM4513.3 2324.4h100.5v20.5h-100.5zM4413.3 2344.4h20.5v20.5h-20.5zM4533.3 2344.4h80.5v20.5h-80.5zM4393.3 2364.4h40.5v20.5h-40.5zM4553.3 2364.4h60.5v20.5h-60.5zM4373.3 2384.4h40.5v20.5h-40.5zM4573.3 2384.4h40.5v20.5h-40.5zM4373.3 2404.4h20.5v20.5h-20.5zM4573.3 2404.4h40.5v20.5h-40.5zM4353.3 2424.4h20.5v20.5h-20.5zM4573.3 2424.4h40.5v20.5h-40.5zM4573.3 2444.4h40.5v20.5h-40.5zM4313.3 2464.4h20.5v20.5h-20.5zM4573.3 2464.4h40.5v20.5h-40.5zM4573.3 2484.4h40.5v20.5h-40.5zM4293.3 2504.4h20.5v20.5h-20.5zM4573.3 2504.4h40.5v20.5h-40.5zM4293.3 2524.4h20.5v20.5h-20.5zM4573.3 2524.4h40.5v20.5h-40.5zM4293.3 2544.4h20.5v20.5h-20.5zM4573.3 2544.4h40.5v20.5h-40.5zM4293.3 2564.4h20.5v20.5h-20.5zM4573.3 2564.4h40.5v20.5h-40.5zM4573.3 2584.4h40.5v20.5h-40.5zM4313.3 2604.4h20.5v20.5h-20.5zM4533.3 2604.4h40.5v20.5h-40.5zM4333.3 2624.4h40.5v20.5h-40.5zM4493.3 2624.4h20.5v20.5h-20.5z" fill="#4affad"/><path d="M4453.3 2324.4h60.5v20.5h-60.5zM4433.3 2344.4h100.5v20.5h-100.5zM4433.3 2364.4h20.5v20.5h-20.5zM4513.3 2364.4h40.5v20.5h-40.5zM4413.3 2384.4h20.5v20.5h-20.5zM4533.3 2384.4h40.5v20.5h-40.5zM4393.3 2404.4h20.5v20.5h-20.5zM4533.3 2404.4h40.5v20.5h-40.5zM4373.3 2424.4h40.5v20.5h-40.5zM4533.3 2424.4h40.5v20.5h-40.5zM4333.3 2444.4h40.5v20.5h-40.5zM4533.3 2444.4h40.5v20.5h-40.5zM4533.3 2464.4h40.5v20.5h-40.5zM4313.3 2484.4h20.5v20.5h-20.5zM4533.3 2484.4h40.5v20.5h-40.5zM4533.3 2504.4h40.5v20.5h-40.5zM4533.3 2524.4h40.5v20.5h-40.5zM4533.3 2544.4h40.5v20.5h-40.5zM4553.3 2564.4h20.5v20.5h-20.5zM4313.3 2584.4h20.5v20.5h-20.5zM4553.3 2584.4h20.5v20.5h-20.5zM4513.3 2604.4h20.5v20.5h-20.5zM4373.3 2624.4h120.5v20.5h-120.5z" fill="#4effa9"/><path d="M4453.3 2364.4h60.5v20.5h-60.5zM4433.3 2384.4h20.5v20.5h-20.5zM4493.3 2384.4h40.5v20.5h-40.5zM4413.3 2404.4h40.5v20.5h-40.5zM4493.3 2404.4h40.5v20.5h-40.5zM4413.3 2424.4h20.5v20.5h-20.5zM4493.3 2424.4h40.5v20.5h-40.5zM4373.3 2444.4h40.5v20.5h-40.5zM4493.3 2444.4h40.5v20.5h-40.5zM4333.3 2464.4h20.5v20.5h-20.5zM4513.3 2464.4h20.5v20.5h-20.5zM4513.3 2484.4h20.5v20.5h-20.5zM4313.3 2504.4h20.5v20.5h-20.5zM4513.3 2504.4h20.5v20.5h-20.5zM4513.3 2524.4h20.5v20.5h-20.5zM4313.3 2544.4h20.5v20.5h-20.5zM4513.3 2544.4h20.5v20.5h-20.5zM4313.3 2564.4h20.5v20.5h-20.5zM4513.3 2564.4h40.5v20.5h-40.5zM4513.3 2584.4h40.5v20.5h-40.5zM4333.3 2604.4h60.5v20.5h-60.5zM4473.3 2604.4h40.5v20.5h-40.5z" fill="#52ffa5"/><path d="M4453.3 2384.4h40.5v20.5h-40.5zM4453.3 2404.4h40.5v20.5h-40.5zM4433.3 2424.4h60.5v20.5h-60.5zM4413.3 2444.4h80.5v20.5h-80.5zM4353.3 2464.4h100.5v20.5h-100.5zM4473.3 2464.4h40.5v20.5h-40.5zM4333.3 2484.4h20.5v20.5h-20.5zM4473.3 2484.4h40.5v20.5h-40.5zM4493.3 2504.4h20.5v20.5h-20.5zM4313.3 2524.4h20.5v20.5h-20.5zM4493.3 2524.4h20.5v20.5h-20.5zM4493.3 2544.4h20.5v20.5h-20.5zM4493.3 2564.4h20.5v20.5h-20.5zM4333.3 2584.4h20.5v20.5h-20.5zM4493.3 2584.4h20.5v20.5h-20.5zM4393.3 2604.4h80.5v20.5h-80.5z" fill="#56ffa0"/><path d="M4453.3 2464.4h20.5v20.5h-20.5zM4353.3 2484.4h120.5v20.5h-120.5zM4333.3 2504.4h20.5v20.5h-20.5zM4433.3 2504.4h60.5v20.5h-60.5zM4453.3 2524.4h40.5v20.5h-40.5zM4333.3 2544.4h20.5v20.5h-20.5zM4433.3 2544.4h60.5v20.5h-60.5zM4333.3 2564.4h40.5v20.5h-40.5zM4413.3 2564.4h80.5v20.5h-80.5zM4353.3 2584.4h140.5v20.5h-140.5z" fill="#5aff9c"/><path d="M4353.3 2504.4h80.5v20.5h-80.5zM4333.3 2524.4h120.5v20.5h-120.5zM4353.3 2544.4h80.5v20.5h-80.5zM4373.3 2564.4h40.5v20.5h-40.5z" fill="#5fff98"/></g><g filter="url(#b20)"><polygon points="4332.4,1142.9 4320,1199.9 4323.2,1257.1 4343.5,1307.8 4377.5,1352.9 4443.7,1395.7 4524.5,1409.7 4586.1,1424.1 4614.2,1445.8 4648,1465.7 4652,1140.5" fill="#00d8ff" fill-opacity="0.9"/></g><g filter="url(#b16)"><polygon points="4352,1160.1 4343.2,1211.5 4348.8,1261.9 4369.4,1304.9 4400.6,1341 4455.9,1372.8 4519.3,1384.3 4572,1402.2 4598.8,1424.8 4631.2,1445.8 4633.4,1158.7" fill="#0068ff"/><ellipse cx="4578" cy="1425" rx="22" ry="50" fill="#0050ff"/></g><g filter="url(#b10)"><polygon points="4367,1173.3 4361.1,1220.5 4368.4,1265.6 4389.2,1302.6 4418.4,1331.9 4465.3,1355.1 4515.3,1364.7 4561.2,1385.4 4587,1408.7 4618.3,1430.5 4619.2,1172.8" fill="#0000e8"/></g><g filter="url(#b8)"><polygon points="4382,1186.4 4379,1229.4 4388.1,1269.2 4409.1,1300.4 4436.2,1322.7 4474.7,1337.5 4511.3,1345.1 4550.4,1368.5 4575.2,1392.5 4605.5,1415.2 4604.9,1186.8" fill="#000080"/></g><g filter="url(#b8)"><polygon points="4502.2,1182.4 4480,1196.3 4459.6,1206.5 4443,1221.3 4433.7,1214.8 4446.7,1195.4 4457.8,1182.4" fill="#0098ff" fill-opacity="0.95"/></g><g filter="url(#b4)"><circle cx="4303.5" cy="2451" r="10.5" fill="#8b0000"/><circle cx="4301" cy="2463" r="7" fill="#ff5000"/></g><polygon points="4288.1,2675.1 4275.5,2697.4 4290.8,2714.2 4296.4,2697.4" fill="#fff"/><polygon points="4288.1,2741.3 4288.9,2758.9 4309,2763 4356.5,2767.2 4376,2753.3 4356.5,2745.7 4332.7,2743.5 4309,2744.1" fill="#fff"/><polygon points="4207.1,2388 4222.4,2390.7 4230.8,2372.6 4216.3,2380.4" fill="#fff"/><path d="M4340.9 1184.4V2827.5M4093.3 1404H4588.5M4093.3 1880.5H4588.5M4093.3 2357H4588.5" stroke="#a8a8a8" stroke-opacity="0.85" stroke-width="1.9" fill="none"/><polygon points="4510.1,1184.5 4498.9,1192.3 4479.4,1197.9 4460.4,1207.7 4448.1,1229.2 4429.6,1243.2 4433.3,1248.8 4451.4,1232.8 4460.4,1216.1 4468.7,1225.9 4455.6,1245.4 4476.6,1244 4498.9,1238.4 4515.7,1225.9 4526.8,1211.9 4538,1197.9 4552,1184.5" fill="#fff" stroke="#000" stroke-width="4.6" stroke-linejoin="miter"/><polygon points="4588.8,1185.4 4554.8,1214.7 4532.4,1234.2 4504.5,1252.4 4517.1,1271.9 4516.2,1292.9 4540.8,1281.7 4558.9,1294.3 4553.9,1311 4536.6,1301.3 4542.2,1315.2 4547.8,1334.8 4567.3,1347.3 4579.9,1365.5 4582.7,1404.6 4588.8,1438.1 4610.6,1438.1 4610.6,1185.4" fill="#fff" stroke="#000" stroke-width="4.6" stroke-linejoin="miter"/><polygon points="4588.8,1709.9 4565.9,1716.8 4540.8,1722.4 4519.8,1727.2 4523.5,1735 4546.4,1735 4571.5,1732.2 4588.8,1732.8 4610.6,1732.8 4610.6,1709.9" fill="#fff" stroke="#000" stroke-width="4.6" stroke-linejoin="miter"/><polygon points="4093.1,1876 4096.8,1887.2 4114.9,1905.3 4128.9,1927.7 4135,1949.2 4133.1,1971 4126.1,1993.3 4125.5,2010.1 4126.1,1990 4124.7,2017.9 4142.8,2062.6 4169.4,2101.7 4174.4,2149.2 4186.7,2170.1 4205.7,2212 4225.2,2227.9 4245.3,2237.2 4256.5,2257.5 4259.3,2280.4 4218.8,2279 4198.7,2291.6 4193.7,2313.9 4202,2334.9 4225.2,2355.8 4239.2,2365.6 4262.1,2371.2 4255.4,2375.4 4232.2,2368.4 4216.3,2380.4 4202.9,2386.6 4158.2,2376.2 4152.1,2329.3 4142,2283.2 4113.5,2219 4100.9,2174.3 4095.4,2126.8 4099,2103.1 4093.1,2085 4080,2085 4080,1876" fill="#fff" stroke="#000" stroke-width="4.6" stroke-linejoin="miter"/><polygon points="4588.8,2441.9 4554.8,2478.2 4521.2,2511.7 4479.4,2542.4 4440.3,2564.8 4416.5,2573.1 4392.8,2573.1 4367.6,2567 4346.7,2564.8 4324.4,2567.6 4300.6,2565.3 4279.7,2556.4 4270.5,2537.7 4263.8,2541 4240.6,2529.9 4219.6,2522.9 4200.1,2511.7 4185.6,2521.5 4195.9,2539.6 4218.2,2546.6 4244.8,2566.2 4271.3,2587.1 4285.3,2608.1 4292.8,2630.4 4288.9,2673.7 4296.4,2697.4 4288.1,2741.3 4309,2744.1 4332.7,2743.5 4356.5,2745.7 4381.6,2752.4 4401.2,2758.9 4426.3,2764.4 4448.6,2772.8 4468.2,2784.8 4484.9,2802.1 4500.3,2828.7 4610.6,2828.7 4610.6,2441.9" fill="#fff" stroke="#000" stroke-width="4.6" stroke-linejoin="miter"/><polygon points="4285.3,2408.4 4293.6,2411.2 4299.2,2427.9 4281.1,2492.2 4276.9,2506.1 4274.1,2510.3 4274.9,2497.7 4295,2427.9 4290.8,2415.4" fill="#fff" stroke="#000" stroke-width="3.6"/><path d="M4340.9 2560V2827.5" stroke="#b0b0b0" stroke-width="2" fill="none"/><polyline points="4448.1,1293.4 4453.4,1324.2 4461.2,1359.9 4462.6,1385 4459,1417.2 4464,1450.7 4464.3,1548.1 4472.4,1591.2 4452.8,1628.9 4431.6,1669.6 4381.6,1751.7 4334.1,1811.8 4292.2,1860.1 4274.9,1909.5 4279.7,1965.4 4295.6,1990 4320.2,2026.3 4348.1,2059.8 4393.3,2104.5 4426.3,2128.2 4452.8,2143.6 4473.8,2167.3 4497.5,2177.7 4515.7,2198.1 4545,2221.8 4553.4,2252.5 4553.6,2278.5 4538,2295.8 4510.1,2309.8 4490.5,2322.3 4451.4,2336.3 4424.9,2350.3 4403.4,2369.2 4378.8,2389.4 4350.3,2407 4297.8,2423.7 4247.6,2433.5 4182.5,2441.3 4147,2466.5 4127.5,2545.2 4143.7,2629 4163.8,2669.5 4193.1,2707.2 4223,2715" fill="none" stroke="#f00" stroke-width="8.33" stroke-linejoin="round"/><circle cx="4453.4" cy="1324.2" r="9.8" fill="#ff0" stroke="#000" stroke-width="4.2"/><circle cx="4464.3" cy="1548.1" r="9.8" fill="#ff0" stroke="#000" stroke-width="4.2"/><circle cx="4431.6" cy="1669.6" r="9.8" fill="#ff0" stroke="#000" stroke-width="4.2"/><circle cx="4292.2" cy="1860.1" r="9.8" fill="#ff0" stroke="#000" stroke-width="4.2"/><circle cx="4393.3" cy="2104.5" r="9.8" fill="#ff0" stroke="#000" stroke-width="4.2"/><circle cx="4553.6" cy="2278.5" r="9.8" fill="#ff0" stroke="#000" stroke-width="4.2"/><circle cx="4403.4" cy="2369.2" r="9.8" fill="#ff0" stroke="#000" stroke-width="4.2"/><circle cx="4350.3" cy="2407" r="9.8" fill="#ff0" stroke="#000" stroke-width="4.2"/><circle cx="4182.5" cy="2441.3" r="9.8" fill="#ff0" stroke="#000" stroke-width="4.2"/><circle cx="4193.1" cy="2707.2" r="9.8" fill="#ff0" stroke="#000" stroke-width="4.2"/></g>
<text x="4463.2" y="1313.6" font-size="33.3" font-weight="bold" fill="#f00">MR</text>
<text x="4473.6" y="1538.4" font-size="33.3" font-weight="bold" fill="#f00">OA9S</text>
<text x="4445.1" y="1658" font-size="33.3" font-weight="bold" fill="#f00">OA1-DEP</text>
<text x="4300.4" y="1849.9" font-size="33.3" font-weight="bold" fill="#f00">6147030</text>
<text x="4402.3" y="2094.5" font-size="33.3" font-weight="bold" fill="#f00">6142974</text>
<text x="4562.9" y="2267.1" font-size="33.3" font-weight="bold" fill="#f00">LP</text>
<text x="4412.1" y="2359.3" font-size="33.3" font-weight="bold" fill="#f00">SF11</text>
<text x="4359.6" y="2396.7" font-size="33.3" font-weight="bold" fill="#f00">6142983</text>
<text x="4192.1" y="2429.1" font-size="33.3" font-weight="bold" fill="#f00">SC</text>
<text x="4204.1" y="2696.7" font-size="33.3" font-weight="bold" fill="#f00">SC2</text>
<rect x="4093.3" y="1184.4" width="495.2" height="1643.1" fill="none" stroke="#000" stroke-width="2.9"/>
<path d="M4093.3 2827.5v16.2M4340.9 2827.5v16.2M4588.5 2827.5v16.2M4093.3 1404.5h-16.2M4093.3 1881h-16.2M4093.3 2357.5h-16.2" stroke="#000" stroke-width="3.33" fill="none"/>
<text x="4093.3" y="2889.2" font-size="41.7" text-anchor="middle">115.669</text>
<text x="4340.9" y="2889.2" font-size="41.7" text-anchor="middle">115.711</text>
<text x="4588.5" y="2889.2" font-size="41.7" text-anchor="middle">115.753</text>
<text x="4053.5" y="1472" font-size="41.7" text-anchor="middle" transform="rotate(-90 4053.5 1472)">-32.080</text>
<text x="4053.5" y="1948.5" font-size="41.7" text-anchor="middle" transform="rotate(-90 4053.5 1948.5)">-32.160</text>
<text x="4053.5" y="2425" font-size="41.7" text-anchor="middle" transform="rotate(-90 4053.5 2425)">-32.240</text>
<text x="4340.5" y="2941.3" font-size="33.3" text-anchor="middle">Longitude</text>
<text x="4341" y="1160.4" font-size="41.7" text-anchor="middle" font-weight="bold">Transect Map</text>
<rect x="1979.2" y="2676.6" width="1232.1" height="65.2" rx="6.5" ry="6.5" fill="#fff" fill-opacity="0.8" stroke="#ccc" stroke-opacity="0.8" stroke-width="4.17"/>
<line x1="1990" y1="2706.3" x2="2073.3" y2="2706.3" stroke="#dc143c" stroke-width="8.33"/>
<circle cx="2031.6" cy="2706.3" r="12.4" fill="#dc143c"/>
<text x="2099.1" y="2720.4" font-size="37.5">Observed</text>
<line x1="2350.1" y1="2706.3" x2="2433.4" y2="2706.3" stroke="#4682b4" stroke-width="8.33"/>
<text x="2459.6" y="2720.4" font-size="37.5">Model</text>
<path d="M2647.1 2706.3h30.8M2691.4 2706.3h30.8" stroke="#808080" stroke-width="8.33"/>
<text x="2752.2" y="2720.4" font-size="37.5">Overall Mean (1025.31)</text>
</svg></body></html>
